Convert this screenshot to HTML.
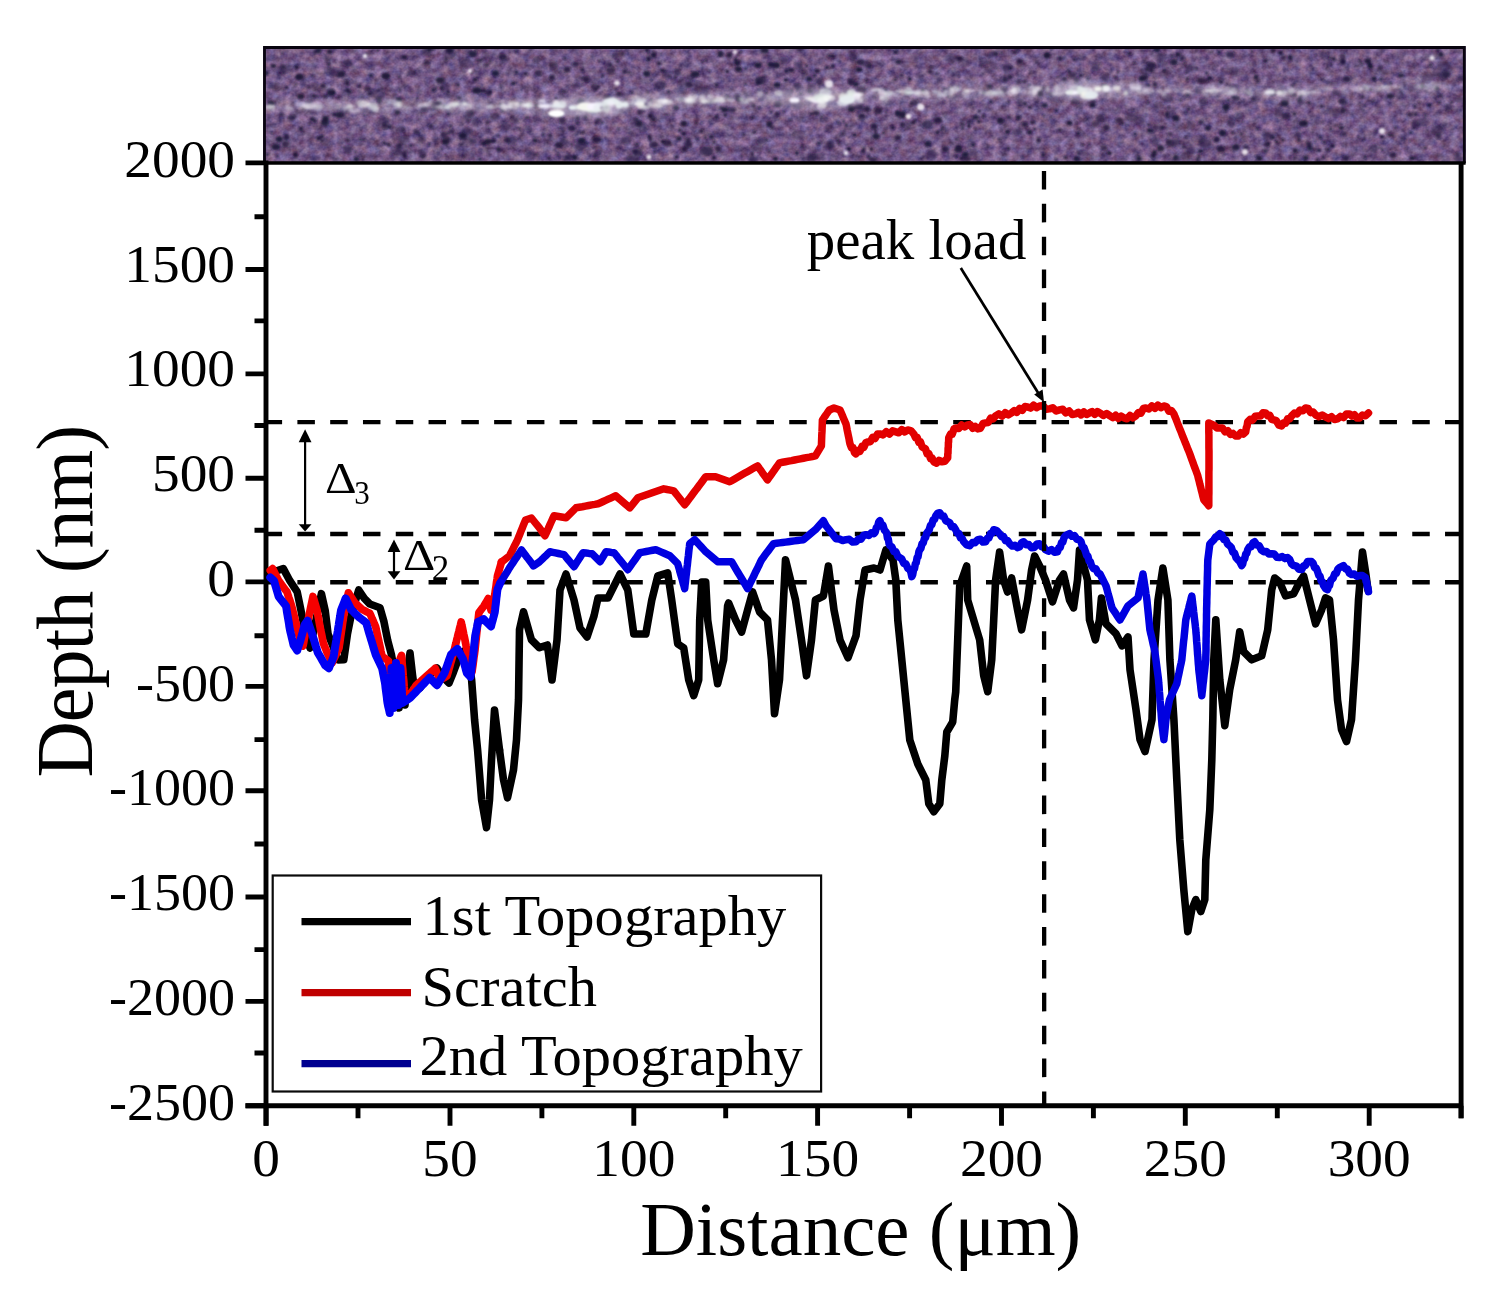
<!DOCTYPE html>
<html lang="en">
<head>
<meta charset="utf-8">
<title>Scratch depth profile</title>
<style>
html,body{margin:0;padding:0;background:#fff;}
body{width:1504px;height:1293px;overflow:hidden;position:relative;}
svg{position:absolute;left:0;top:0;display:block;}
text{font-family:"Liberation Serif", "DejaVu Serif", serif;fill:#000;}
.tick{font-size:53px;}
.leg{font-size:57px;}
.axl{font-size:75px;}
.ann{font-size:55px;}
.ax{stroke:#000;stroke-width:4.9;fill:none;stroke-linecap:butt;}
.dash{stroke:#000;stroke-width:4.4;fill:none;stroke-dasharray:17.5 15.29;}
.crv{fill:none;stroke-linejoin:round;stroke-linecap:round;}
</style>
</head>
<body>
<svg width="1504" height="1293" viewBox="0 0 1504 1293">
<rect x="0" y="0" width="1504" height="1293" fill="#fff"/>

<defs>
<clipPath id="stripclip"><rect x="263.3" y="46.2" width="1202.3" height="117.0"/></clipPath>
<filter id="speckle" x="0" y="0" width="100%" height="100%" filterUnits="objectBoundingBox" color-interpolation-filters="sRGB">
<feTurbulence type="fractalNoise" baseFrequency="0.12 0.13" numOctaves="3" seed="11" result="n1"/>
<feColorMatrix in="n1" type="matrix" values="0.42 0.18 0 0 0.155  0.42 0.04 0.02 0 0.112  0.38 0 0.17 0 0.25  0 0 0 0 1"/>
</filter>
<filter id="soft" x="-5%" y="-50%" width="110%" height="200%"><feGaussianBlur stdDeviation="0.8"/></filter>
<filter id="soft2" x="-5%" y="-50%" width="110%" height="200%"><feGaussianBlur stdDeviation="2.6"/></filter>
</defs>
<g id="micrograph" clip-path="url(#stripclip)">
<rect x="263.3" y="46.2" width="1202.3" height="117.0" fill="#6c5384"/>
<rect x="263.3" y="46.2" width="1202.3" height="117.0" filter="url(#speckle)"/>
<g filter="url(#soft)"><ellipse cx="764.7" cy="50.3" rx="4.2" ry="3.2" fill="#1b1436" fill-opacity="0.88"/><ellipse cx="1381.0" cy="79.2" rx="1.8" ry="1.9" fill="#1b1436" fill-opacity="0.66"/><ellipse cx="784.2" cy="111.6" rx="1.4" ry="1.4" fill="#1b1436" fill-opacity="0.81"/><ellipse cx="1149.3" cy="130.5" rx="2.4" ry="2.2" fill="#1b1436" fill-opacity="0.94"/><ellipse cx="869.2" cy="65.6" rx="3.4" ry="2.6" fill="#1b1436" fill-opacity="0.63"/><ellipse cx="651.6" cy="100.1" rx="1.7" ry="1.2" fill="#1b1436" fill-opacity="0.94"/><ellipse cx="1157.0" cy="49.6" rx="3.3" ry="2.6" fill="#1b1436" fill-opacity="0.90"/><ellipse cx="480.3" cy="60.2" rx="2.4" ry="1.9" fill="#1b1436" fill-opacity="0.64"/><ellipse cx="483.6" cy="90.8" rx="3.0" ry="2.2" fill="#1b1436" fill-opacity="0.81"/><ellipse cx="661.0" cy="53.7" rx="1.2" ry="1.2" fill="#1b1436" fill-opacity="0.91"/><ellipse cx="1225.6" cy="110.8" rx="1.6" ry="1.4" fill="#1b1436" fill-opacity="0.69"/><ellipse cx="1362.1" cy="63.6" rx="1.9" ry="1.4" fill="#1b1436" fill-opacity="0.71"/><ellipse cx="277.5" cy="156.3" rx="1.6" ry="1.6" fill="#1b1436" fill-opacity="0.79"/><ellipse cx="653.6" cy="54.7" rx="2.8" ry="2.6" fill="#1b1436" fill-opacity="0.76"/><ellipse cx="1222.2" cy="69.1" rx="1.3" ry="1.2" fill="#1b1436" fill-opacity="0.87"/><ellipse cx="1078.2" cy="133.7" rx="1.7" ry="1.9" fill="#1b1436" fill-opacity="0.82"/><ellipse cx="854.6" cy="134.9" rx="2.2" ry="1.9" fill="#1b1436" fill-opacity="0.92"/><ellipse cx="702.1" cy="122.8" rx="1.1" ry="1.2" fill="#1b1436" fill-opacity="0.79"/><ellipse cx="463.6" cy="156.6" rx="1.4" ry="1.4" fill="#1b1436" fill-opacity="0.67"/><ellipse cx="445.9" cy="59.3" rx="2.3" ry="2.6" fill="#1b1436" fill-opacity="0.60"/><ellipse cx="859.7" cy="69.7" rx="2.9" ry="2.2" fill="#1b1436" fill-opacity="0.93"/><ellipse cx="582.5" cy="132.5" rx="1.7" ry="1.2" fill="#1b1436" fill-opacity="0.88"/><ellipse cx="764.8" cy="76.2" rx="1.5" ry="1.4" fill="#1b1436" fill-opacity="0.61"/><ellipse cx="738.6" cy="69.0" rx="3.5" ry="2.6" fill="#1b1436" fill-opacity="0.89"/><ellipse cx="1415.0" cy="106.2" rx="1.8" ry="1.9" fill="#1b1436" fill-opacity="0.71"/><ellipse cx="817.2" cy="70.9" rx="2.8" ry="2.2" fill="#1b1436" fill-opacity="0.80"/><ellipse cx="901.5" cy="75.1" rx="2.6" ry="2.2" fill="#1b1436" fill-opacity="0.70"/><ellipse cx="1095.8" cy="123.7" rx="4.1" ry="3.2" fill="#1b1436" fill-opacity="0.62"/><ellipse cx="319.0" cy="137.9" rx="2.7" ry="2.2" fill="#1b1436" fill-opacity="0.80"/><ellipse cx="347.6" cy="90.4" rx="2.7" ry="2.6" fill="#1b1436" fill-opacity="0.82"/><ellipse cx="797.6" cy="90.1" rx="1.7" ry="1.6" fill="#1b1436" fill-opacity="0.76"/><ellipse cx="1148.2" cy="102.5" rx="1.6" ry="1.6" fill="#1b1436" fill-opacity="0.76"/><ellipse cx="429.1" cy="49.4" rx="2.4" ry="2.6" fill="#1b1436" fill-opacity="0.88"/><ellipse cx="399.2" cy="146.0" rx="3.2" ry="3.2" fill="#1b1436" fill-opacity="0.74"/><ellipse cx="684.0" cy="149.3" rx="2.8" ry="2.6" fill="#1b1436" fill-opacity="0.71"/><ellipse cx="1004.2" cy="90.1" rx="3.2" ry="3.2" fill="#1b1436" fill-opacity="0.61"/><ellipse cx="364.2" cy="139.9" rx="1.4" ry="1.4" fill="#1b1436" fill-opacity="0.72"/><ellipse cx="445.6" cy="154.8" rx="1.3" ry="1.2" fill="#1b1436" fill-opacity="0.88"/><ellipse cx="648.3" cy="53.7" rx="1.4" ry="1.2" fill="#1b1436" fill-opacity="0.77"/><ellipse cx="576.3" cy="108.3" rx="1.5" ry="1.4" fill="#1b1436" fill-opacity="0.94"/><ellipse cx="1290.7" cy="59.4" rx="2.5" ry="2.2" fill="#1b1436" fill-opacity="0.67"/><ellipse cx="1416.3" cy="158.1" rx="1.2" ry="1.2" fill="#1b1436" fill-opacity="0.87"/><ellipse cx="902.3" cy="114.5" rx="3.6" ry="3.2" fill="#1b1436" fill-opacity="0.91"/><ellipse cx="792.2" cy="90.5" rx="1.3" ry="1.2" fill="#1b1436" fill-opacity="0.90"/><ellipse cx="1242.8" cy="122.2" rx="1.3" ry="1.2" fill="#1b1436" fill-opacity="0.71"/><ellipse cx="647.9" cy="92.4" rx="1.9" ry="1.6" fill="#1b1436" fill-opacity="0.64"/><ellipse cx="334.2" cy="61.4" rx="1.2" ry="1.2" fill="#1b1436" fill-opacity="0.63"/><ellipse cx="1390.9" cy="83.5" rx="1.6" ry="1.4" fill="#1b1436" fill-opacity="0.78"/><ellipse cx="827.5" cy="96.2" rx="1.8" ry="1.4" fill="#1b1436" fill-opacity="0.72"/><ellipse cx="724.7" cy="109.5" rx="3.5" ry="2.6" fill="#1b1436" fill-opacity="0.95"/><ellipse cx="1343.1" cy="110.7" rx="2.2" ry="2.2" fill="#1b1436" fill-opacity="0.82"/><ellipse cx="1142.4" cy="143.5" rx="1.1" ry="1.2" fill="#1b1436" fill-opacity="0.83"/><ellipse cx="1342.6" cy="56.9" rx="3.3" ry="3.2" fill="#1b1436" fill-opacity="0.64"/><ellipse cx="548.3" cy="158.0" rx="1.8" ry="1.4" fill="#1b1436" fill-opacity="0.77"/><ellipse cx="800.7" cy="94.0" rx="1.9" ry="1.4" fill="#1b1436" fill-opacity="0.83"/><ellipse cx="1359.7" cy="61.2" rx="1.4" ry="1.2" fill="#1b1436" fill-opacity="0.78"/><ellipse cx="1080.8" cy="75.7" rx="2.1" ry="1.9" fill="#1b1436" fill-opacity="0.84"/><ellipse cx="399.1" cy="76.9" rx="1.5" ry="1.6" fill="#1b1436" fill-opacity="0.75"/><ellipse cx="527.1" cy="117.7" rx="2.5" ry="1.9" fill="#1b1436" fill-opacity="0.69"/><ellipse cx="1196.2" cy="68.7" rx="1.5" ry="1.2" fill="#1b1436" fill-opacity="0.78"/><ellipse cx="294.7" cy="153.5" rx="1.6" ry="1.6" fill="#1b1436" fill-opacity="0.84"/><ellipse cx="1014.7" cy="52.3" rx="2.6" ry="1.9" fill="#1b1436" fill-opacity="0.73"/><ellipse cx="1445.9" cy="74.8" rx="4.3" ry="3.2" fill="#1b1436" fill-opacity="0.67"/><ellipse cx="273.3" cy="66.0" rx="2.8" ry="2.2" fill="#1b1436" fill-opacity="0.88"/><ellipse cx="659.2" cy="63.5" rx="2.5" ry="2.2" fill="#1b1436" fill-opacity="0.82"/><ellipse cx="301.0" cy="96.8" rx="3.4" ry="2.6" fill="#1b1436" fill-opacity="0.80"/><ellipse cx="1032.4" cy="122.5" rx="2.7" ry="1.9" fill="#1b1436" fill-opacity="0.80"/><ellipse cx="866.9" cy="108.8" rx="3.4" ry="2.6" fill="#1b1436" fill-opacity="0.77"/><ellipse cx="843.6" cy="121.2" rx="1.8" ry="1.9" fill="#1b1436" fill-opacity="0.62"/><ellipse cx="1342.9" cy="62.4" rx="2.9" ry="2.6" fill="#1b1436" fill-opacity="0.71"/><ellipse cx="735.7" cy="59.5" rx="1.8" ry="1.9" fill="#1b1436" fill-opacity="0.84"/><ellipse cx="781.8" cy="159.1" rx="1.2" ry="1.2" fill="#1b1436" fill-opacity="0.86"/><ellipse cx="283.4" cy="67.0" rx="2.5" ry="2.6" fill="#1b1436" fill-opacity="0.69"/><ellipse cx="458.2" cy="85.0" rx="2.0" ry="2.2" fill="#1b1436" fill-opacity="0.71"/><ellipse cx="559.7" cy="115.9" rx="2.3" ry="1.9" fill="#1b1436" fill-opacity="0.61"/><ellipse cx="861.8" cy="116.6" rx="4.0" ry="3.2" fill="#1b1436" fill-opacity="0.73"/><ellipse cx="945.5" cy="149.1" rx="3.7" ry="3.2" fill="#1b1436" fill-opacity="0.79"/><ellipse cx="1094.1" cy="101.0" rx="2.2" ry="1.6" fill="#1b1436" fill-opacity="0.68"/><ellipse cx="536.0" cy="105.6" rx="2.6" ry="1.9" fill="#1b1436" fill-opacity="0.70"/><ellipse cx="539.8" cy="95.3" rx="1.4" ry="1.2" fill="#1b1436" fill-opacity="0.65"/><ellipse cx="1176.2" cy="158.6" rx="3.5" ry="3.2" fill="#1b1436" fill-opacity="0.64"/><ellipse cx="709.5" cy="71.4" rx="1.5" ry="1.4" fill="#1b1436" fill-opacity="0.60"/><ellipse cx="969.3" cy="121.6" rx="2.7" ry="2.2" fill="#1b1436" fill-opacity="0.70"/><ellipse cx="951.8" cy="87.7" rx="1.8" ry="1.9" fill="#1b1436" fill-opacity="0.61"/><ellipse cx="790.5" cy="120.4" rx="1.4" ry="1.4" fill="#1b1436" fill-opacity="0.69"/><ellipse cx="613.2" cy="56.0" rx="1.4" ry="1.4" fill="#1b1436" fill-opacity="0.65"/><ellipse cx="587.0" cy="143.9" rx="2.2" ry="1.6" fill="#1b1436" fill-opacity="0.62"/><ellipse cx="1358.1" cy="137.2" rx="1.3" ry="1.4" fill="#1b1436" fill-opacity="0.85"/><ellipse cx="1251.8" cy="51.4" rx="1.7" ry="1.4" fill="#1b1436" fill-opacity="0.73"/><ellipse cx="295.8" cy="155.2" rx="2.5" ry="2.6" fill="#1b1436" fill-opacity="0.78"/><ellipse cx="1247.2" cy="88.8" rx="1.1" ry="1.2" fill="#1b1436" fill-opacity="0.86"/><ellipse cx="1231.7" cy="88.5" rx="1.6" ry="1.6" fill="#1b1436" fill-opacity="0.72"/><ellipse cx="500.6" cy="86.0" rx="1.2" ry="1.2" fill="#1b1436" fill-opacity="0.72"/><ellipse cx="1379.8" cy="68.0" rx="2.4" ry="2.6" fill="#1b1436" fill-opacity="0.65"/><ellipse cx="441.8" cy="149.0" rx="1.4" ry="1.4" fill="#1b1436" fill-opacity="0.87"/><ellipse cx="1144.8" cy="77.3" rx="3.3" ry="2.6" fill="#1b1436" fill-opacity="0.69"/><ellipse cx="885.4" cy="90.1" rx="2.1" ry="1.9" fill="#1b1436" fill-opacity="0.79"/><ellipse cx="1343.2" cy="61.3" rx="2.9" ry="2.2" fill="#1b1436" fill-opacity="0.66"/><ellipse cx="487.3" cy="122.7" rx="2.1" ry="2.2" fill="#1b1436" fill-opacity="0.64"/><ellipse cx="448.2" cy="133.4" rx="1.2" ry="1.2" fill="#1b1436" fill-opacity="0.76"/><ellipse cx="575.1" cy="63.9" rx="3.0" ry="2.2" fill="#1b1436" fill-opacity="0.68"/><ellipse cx="477.2" cy="60.1" rx="1.8" ry="1.4" fill="#1b1436" fill-opacity="0.70"/><ellipse cx="1069.3" cy="122.9" rx="2.8" ry="2.2" fill="#1b1436" fill-opacity="0.94"/><ellipse cx="1206.6" cy="72.9" rx="2.0" ry="1.9" fill="#1b1436" fill-opacity="0.71"/><ellipse cx="1341.1" cy="128.2" rx="2.4" ry="2.2" fill="#1b1436" fill-opacity="0.75"/><ellipse cx="1451.7" cy="101.9" rx="1.5" ry="1.4" fill="#1b1436" fill-opacity="0.81"/><ellipse cx="873.1" cy="160.1" rx="4.4" ry="3.2" fill="#1b1436" fill-opacity="0.63"/><ellipse cx="1216.7" cy="139.4" rx="3.2" ry="3.2" fill="#1b1436" fill-opacity="0.79"/><ellipse cx="476.1" cy="49.7" rx="1.6" ry="1.2" fill="#1b1436" fill-opacity="0.65"/><ellipse cx="1172.1" cy="55.7" rx="1.3" ry="1.2" fill="#1b1436" fill-opacity="0.89"/><ellipse cx="1273.0" cy="50.6" rx="2.4" ry="2.2" fill="#1b1436" fill-opacity="0.80"/><ellipse cx="377.7" cy="50.6" rx="2.1" ry="1.9" fill="#1b1436" fill-opacity="0.63"/><ellipse cx="350.0" cy="91.8" rx="1.9" ry="1.4" fill="#1b1436" fill-opacity="0.76"/><ellipse cx="1151.3" cy="65.2" rx="4.2" ry="3.2" fill="#1b1436" fill-opacity="0.78"/><ellipse cx="757.8" cy="65.2" rx="3.3" ry="2.6" fill="#1b1436" fill-opacity="0.89"/><ellipse cx="535.8" cy="154.4" rx="2.6" ry="1.9" fill="#1b1436" fill-opacity="0.72"/><ellipse cx="838.1" cy="140.5" rx="1.7" ry="1.6" fill="#1b1436" fill-opacity="0.64"/><ellipse cx="895.6" cy="52.1" rx="2.6" ry="1.9" fill="#1b1436" fill-opacity="0.83"/><ellipse cx="857.8" cy="69.4" rx="2.4" ry="2.6" fill="#1b1436" fill-opacity="0.69"/><ellipse cx="411.8" cy="91.5" rx="1.3" ry="1.2" fill="#1b1436" fill-opacity="0.67"/><ellipse cx="281.6" cy="114.6" rx="2.2" ry="1.9" fill="#1b1436" fill-opacity="0.78"/><ellipse cx="769.0" cy="151.3" rx="1.5" ry="1.2" fill="#1b1436" fill-opacity="0.66"/><ellipse cx="1382.6" cy="149.9" rx="1.7" ry="1.6" fill="#1b1436" fill-opacity="0.76"/><ellipse cx="324.7" cy="122.7" rx="4.2" ry="3.2" fill="#1b1436" fill-opacity="0.83"/><ellipse cx="885.9" cy="97.4" rx="1.3" ry="1.4" fill="#1b1436" fill-opacity="0.92"/><ellipse cx="1237.0" cy="97.9" rx="3.1" ry="2.2" fill="#1b1436" fill-opacity="0.75"/><ellipse cx="1292.9" cy="85.5" rx="1.9" ry="1.6" fill="#1b1436" fill-opacity="0.74"/><ellipse cx="582.2" cy="85.1" rx="1.2" ry="1.2" fill="#1b1436" fill-opacity="0.66"/><ellipse cx="842.8" cy="133.8" rx="2.3" ry="2.2" fill="#1b1436" fill-opacity="0.63"/><ellipse cx="649.3" cy="136.1" rx="1.9" ry="1.6" fill="#1b1436" fill-opacity="0.94"/><ellipse cx="637.0" cy="144.2" rx="1.7" ry="1.6" fill="#1b1436" fill-opacity="0.84"/><ellipse cx="388.6" cy="144.5" rx="2.1" ry="1.9" fill="#1b1436" fill-opacity="0.88"/><ellipse cx="1118.1" cy="71.8" rx="1.4" ry="1.4" fill="#1b1436" fill-opacity="0.84"/><ellipse cx="688.8" cy="84.7" rx="3.7" ry="3.2" fill="#1b1436" fill-opacity="0.74"/><ellipse cx="1207.9" cy="128.1" rx="2.9" ry="2.6" fill="#1b1436" fill-opacity="0.84"/><ellipse cx="1175.6" cy="156.7" rx="2.4" ry="2.6" fill="#1b1436" fill-opacity="0.68"/><ellipse cx="712.8" cy="143.8" rx="1.1" ry="1.2" fill="#1b1436" fill-opacity="0.67"/><ellipse cx="1077.6" cy="159.5" rx="3.2" ry="2.6" fill="#1b1436" fill-opacity="0.66"/><ellipse cx="662.8" cy="141.7" rx="2.5" ry="1.9" fill="#1b1436" fill-opacity="0.88"/><ellipse cx="1380.2" cy="147.4" rx="1.6" ry="1.2" fill="#1b1436" fill-opacity="0.68"/><ellipse cx="1272.7" cy="137.3" rx="2.4" ry="1.9" fill="#1b1436" fill-opacity="0.86"/><ellipse cx="1395.5" cy="127.8" rx="2.2" ry="1.9" fill="#1b1436" fill-opacity="0.65"/><ellipse cx="1062.6" cy="88.3" rx="1.3" ry="1.4" fill="#1b1436" fill-opacity="0.71"/><ellipse cx="426.8" cy="62.8" rx="3.1" ry="2.6" fill="#1b1436" fill-opacity="0.64"/><ellipse cx="958.5" cy="147.8" rx="3.4" ry="3.2" fill="#1b1436" fill-opacity="0.83"/><ellipse cx="727.6" cy="96.5" rx="1.9" ry="1.9" fill="#1b1436" fill-opacity="0.67"/><ellipse cx="476.8" cy="90.5" rx="4.5" ry="3.2" fill="#1b1436" fill-opacity="0.94"/><ellipse cx="595.2" cy="87.0" rx="4.2" ry="3.2" fill="#1b1436" fill-opacity="0.68"/><ellipse cx="1419.5" cy="102.3" rx="1.4" ry="1.2" fill="#1b1436" fill-opacity="0.69"/><ellipse cx="1235.8" cy="147.2" rx="3.7" ry="3.2" fill="#1b1436" fill-opacity="0.86"/><ellipse cx="937.5" cy="132.3" rx="2.2" ry="2.2" fill="#1b1436" fill-opacity="0.85"/><ellipse cx="341.6" cy="115.1" rx="3.5" ry="3.2" fill="#1b1436" fill-opacity="0.68"/><ellipse cx="616.1" cy="100.6" rx="1.6" ry="1.2" fill="#1b1436" fill-opacity="0.84"/><ellipse cx="886.0" cy="111.7" rx="1.2" ry="1.2" fill="#1b1436" fill-opacity="0.87"/><ellipse cx="775.6" cy="158.7" rx="2.6" ry="2.2" fill="#1b1436" fill-opacity="0.89"/><ellipse cx="930.2" cy="71.5" rx="2.5" ry="2.6" fill="#1b1436" fill-opacity="0.71"/><ellipse cx="966.8" cy="159.0" rx="3.5" ry="2.6" fill="#1b1436" fill-opacity="0.67"/><ellipse cx="827.1" cy="67.5" rx="2.2" ry="1.6" fill="#1b1436" fill-opacity="0.93"/><ellipse cx="695.1" cy="74.2" rx="4.4" ry="3.2" fill="#1b1436" fill-opacity="0.85"/><ellipse cx="1138.9" cy="158.5" rx="2.7" ry="2.6" fill="#1b1436" fill-opacity="0.86"/><ellipse cx="565.0" cy="58.5" rx="1.9" ry="1.4" fill="#1b1436" fill-opacity="0.74"/><ellipse cx="914.9" cy="120.3" rx="1.5" ry="1.2" fill="#1b1436" fill-opacity="0.81"/><ellipse cx="846.3" cy="124.9" rx="1.8" ry="1.9" fill="#1b1436" fill-opacity="0.69"/><ellipse cx="572.1" cy="144.7" rx="1.3" ry="1.4" fill="#1b1436" fill-opacity="0.79"/><ellipse cx="1228.4" cy="121.3" rx="1.6" ry="1.6" fill="#1b1436" fill-opacity="0.65"/><ellipse cx="634.7" cy="151.1" rx="3.4" ry="2.6" fill="#1b1436" fill-opacity="0.63"/><ellipse cx="367.5" cy="89.0" rx="3.1" ry="2.6" fill="#1b1436" fill-opacity="0.64"/><ellipse cx="769.4" cy="124.1" rx="3.1" ry="3.2" fill="#1b1436" fill-opacity="0.85"/><ellipse cx="309.2" cy="124.0" rx="1.6" ry="1.6" fill="#1b1436" fill-opacity="0.62"/><ellipse cx="873.9" cy="126.3" rx="3.2" ry="3.2" fill="#1b1436" fill-opacity="0.81"/><ellipse cx="1020.1" cy="61.4" rx="3.2" ry="2.6" fill="#1b1436" fill-opacity="0.74"/><ellipse cx="1266.7" cy="144.3" rx="3.4" ry="2.6" fill="#1b1436" fill-opacity="0.70"/><ellipse cx="296.0" cy="84.5" rx="1.2" ry="1.2" fill="#1b1436" fill-opacity="0.71"/><ellipse cx="714.5" cy="141.7" rx="1.9" ry="1.6" fill="#1b1436" fill-opacity="0.73"/><ellipse cx="796.9" cy="153.0" rx="2.0" ry="2.2" fill="#1b1436" fill-opacity="0.86"/><ellipse cx="404.1" cy="57.1" rx="3.0" ry="2.2" fill="#1b1436" fill-opacity="0.87"/><ellipse cx="1169.0" cy="142.2" rx="2.9" ry="2.6" fill="#1b1436" fill-opacity="0.73"/><ellipse cx="958.2" cy="87.5" rx="1.4" ry="1.2" fill="#1b1436" fill-opacity="0.93"/><ellipse cx="1167.4" cy="117.1" rx="2.1" ry="1.6" fill="#1b1436" fill-opacity="0.61"/><ellipse cx="501.6" cy="108.4" rx="1.2" ry="1.2" fill="#1b1436" fill-opacity="0.71"/><ellipse cx="1422.0" cy="86.1" rx="2.4" ry="2.6" fill="#1b1436" fill-opacity="0.91"/><ellipse cx="1230.3" cy="54.6" rx="4.3" ry="3.2" fill="#1b1436" fill-opacity="0.70"/><ellipse cx="483.7" cy="143.1" rx="3.5" ry="2.6" fill="#1b1436" fill-opacity="0.63"/><ellipse cx="370.9" cy="75.7" rx="2.2" ry="1.6" fill="#1b1436" fill-opacity="0.90"/><ellipse cx="279.3" cy="139.3" rx="3.5" ry="3.2" fill="#1b1436" fill-opacity="0.90"/><ellipse cx="1329.7" cy="57.4" rx="1.5" ry="1.2" fill="#1b1436" fill-opacity="0.94"/><ellipse cx="1280.1" cy="75.1" rx="1.7" ry="1.4" fill="#1b1436" fill-opacity="0.60"/><ellipse cx="562.2" cy="120.8" rx="3.4" ry="3.2" fill="#1b1436" fill-opacity="0.72"/><ellipse cx="550.3" cy="135.2" rx="1.8" ry="1.6" fill="#1b1436" fill-opacity="0.92"/><ellipse cx="580.7" cy="101.4" rx="3.6" ry="3.2" fill="#1b1436" fill-opacity="0.86"/><ellipse cx="507.3" cy="140.3" rx="3.4" ry="3.2" fill="#1b1436" fill-opacity="0.76"/><ellipse cx="558.8" cy="144.9" rx="4.1" ry="3.2" fill="#1b1436" fill-opacity="0.78"/><ellipse cx="983.5" cy="92.8" rx="2.1" ry="2.2" fill="#1b1436" fill-opacity="0.94"/><ellipse cx="1268.5" cy="143.6" rx="1.9" ry="1.6" fill="#1b1436" fill-opacity="0.88"/><ellipse cx="1044.6" cy="105.3" rx="3.4" ry="2.6" fill="#1b1436" fill-opacity="0.84"/><ellipse cx="1034.5" cy="78.2" rx="1.2" ry="1.2" fill="#1b1436" fill-opacity="0.74"/><ellipse cx="753.7" cy="105.8" rx="2.3" ry="2.2" fill="#1b1436" fill-opacity="0.71"/><ellipse cx="666.8" cy="114.9" rx="1.9" ry="1.4" fill="#1b1436" fill-opacity="0.68"/><ellipse cx="702.6" cy="62.2" rx="1.7" ry="1.4" fill="#1b1436" fill-opacity="0.69"/><ellipse cx="1381.8" cy="136.7" rx="2.3" ry="1.9" fill="#1b1436" fill-opacity="0.92"/><ellipse cx="1283.3" cy="57.5" rx="3.2" ry="2.6" fill="#1b1436" fill-opacity="0.61"/><ellipse cx="1309.0" cy="103.0" rx="1.7" ry="1.4" fill="#1b1436" fill-opacity="0.90"/><ellipse cx="1059.7" cy="130.2" rx="2.3" ry="2.2" fill="#1b1436" fill-opacity="0.70"/><ellipse cx="417.4" cy="98.1" rx="1.9" ry="1.4" fill="#1b1436" fill-opacity="0.86"/><ellipse cx="355.3" cy="151.9" rx="1.3" ry="1.4" fill="#1b1436" fill-opacity="0.88"/><ellipse cx="1305.7" cy="157.8" rx="2.6" ry="2.6" fill="#1b1436" fill-opacity="0.86"/><ellipse cx="1162.3" cy="127.7" rx="2.2" ry="1.6" fill="#1b1436" fill-opacity="0.89"/><ellipse cx="360.7" cy="139.6" rx="2.0" ry="1.9" fill="#1b1436" fill-opacity="0.65"/><ellipse cx="819.1" cy="143.2" rx="2.6" ry="1.9" fill="#1b1436" fill-opacity="0.66"/><ellipse cx="369.6" cy="93.8" rx="2.1" ry="1.9" fill="#1b1436" fill-opacity="0.91"/><ellipse cx="729.4" cy="55.3" rx="2.7" ry="2.6" fill="#1b1436" fill-opacity="0.69"/><ellipse cx="567.2" cy="69.7" rx="3.5" ry="3.2" fill="#1b1436" fill-opacity="0.75"/><ellipse cx="318.1" cy="139.6" rx="1.6" ry="1.2" fill="#1b1436" fill-opacity="0.88"/><ellipse cx="910.8" cy="103.8" rx="2.2" ry="1.9" fill="#1b1436" fill-opacity="0.67"/><ellipse cx="585.4" cy="116.9" rx="2.3" ry="2.2" fill="#1b1436" fill-opacity="0.82"/><ellipse cx="1301.7" cy="94.6" rx="1.3" ry="1.2" fill="#1b1436" fill-opacity="0.93"/><ellipse cx="1186.3" cy="112.4" rx="1.6" ry="1.2" fill="#1b1436" fill-opacity="0.78"/><ellipse cx="451.7" cy="131.8" rx="3.2" ry="2.6" fill="#1b1436" fill-opacity="0.62"/><ellipse cx="1430.5" cy="64.9" rx="2.3" ry="2.2" fill="#1b1436" fill-opacity="0.64"/><ellipse cx="1390.4" cy="96.1" rx="3.6" ry="2.6" fill="#1b1436" fill-opacity="0.88"/><ellipse cx="1047.0" cy="55.2" rx="3.4" ry="3.2" fill="#1b1436" fill-opacity="0.95"/><ellipse cx="471.8" cy="73.0" rx="1.6" ry="1.6" fill="#1b1436" fill-opacity="0.79"/><ellipse cx="878.5" cy="110.8" rx="4.1" ry="3.2" fill="#1b1436" fill-opacity="0.73"/><ellipse cx="873.8" cy="96.8" rx="1.4" ry="1.2" fill="#1b1436" fill-opacity="0.61"/><ellipse cx="475.1" cy="79.7" rx="2.6" ry="1.9" fill="#1b1436" fill-opacity="0.86"/><ellipse cx="1333.5" cy="58.8" rx="1.9" ry="1.9" fill="#1b1436" fill-opacity="0.93"/><ellipse cx="472.8" cy="54.0" rx="4.1" ry="3.2" fill="#1b1436" fill-opacity="0.85"/><ellipse cx="653.6" cy="119.5" rx="2.4" ry="1.9" fill="#1b1436" fill-opacity="0.79"/><ellipse cx="498.6" cy="149.4" rx="2.6" ry="2.2" fill="#1b1436" fill-opacity="0.88"/><ellipse cx="606.3" cy="105.6" rx="3.0" ry="2.6" fill="#1b1436" fill-opacity="0.66"/><ellipse cx="364.3" cy="115.2" rx="1.3" ry="1.4" fill="#1b1436" fill-opacity="0.88"/><ellipse cx="403.5" cy="129.1" rx="2.0" ry="1.6" fill="#1b1436" fill-opacity="0.64"/><ellipse cx="1253.9" cy="72.6" rx="1.4" ry="1.2" fill="#1b1436" fill-opacity="0.64"/><ellipse cx="1280.6" cy="92.0" rx="3.6" ry="2.6" fill="#1b1436" fill-opacity="0.75"/><ellipse cx="1232.4" cy="133.1" rx="1.4" ry="1.2" fill="#1b1436" fill-opacity="0.92"/><ellipse cx="333.9" cy="114.7" rx="2.1" ry="1.9" fill="#1b1436" fill-opacity="0.83"/><ellipse cx="1319.1" cy="150.1" rx="2.0" ry="1.6" fill="#1b1436" fill-opacity="0.93"/><ellipse cx="488.5" cy="128.4" rx="1.5" ry="1.2" fill="#1b1436" fill-opacity="0.77"/><ellipse cx="752.2" cy="153.8" rx="1.8" ry="1.9" fill="#1b1436" fill-opacity="0.86"/><ellipse cx="1298.8" cy="139.9" rx="2.3" ry="2.2" fill="#1b1436" fill-opacity="0.78"/><ellipse cx="1060.1" cy="58.4" rx="2.5" ry="2.6" fill="#1b1436" fill-opacity="0.74"/><ellipse cx="1024.9" cy="103.9" rx="1.8" ry="1.6" fill="#1b1436" fill-opacity="0.89"/><ellipse cx="1008.9" cy="102.1" rx="1.5" ry="1.6" fill="#1b1436" fill-opacity="0.73"/><ellipse cx="461.0" cy="144.7" rx="2.0" ry="1.6" fill="#1b1436" fill-opacity="0.62"/><ellipse cx="1076.5" cy="80.3" rx="2.5" ry="2.6" fill="#1b1436" fill-opacity="0.74"/><ellipse cx="711.6" cy="136.7" rx="2.7" ry="2.2" fill="#1b1436" fill-opacity="0.82"/><ellipse cx="301.1" cy="127.8" rx="1.8" ry="1.6" fill="#1b1436" fill-opacity="0.82"/><ellipse cx="596.5" cy="139.6" rx="4.3" ry="3.2" fill="#1b1436" fill-opacity="0.82"/><ellipse cx="1410.1" cy="114.6" rx="3.1" ry="2.6" fill="#1b1436" fill-opacity="0.64"/><ellipse cx="1029.6" cy="107.3" rx="2.2" ry="1.6" fill="#1b1436" fill-opacity="0.92"/><ellipse cx="629.4" cy="72.7" rx="1.5" ry="1.4" fill="#1b1436" fill-opacity="0.83"/><ellipse cx="1086.3" cy="118.6" rx="1.3" ry="1.2" fill="#1b1436" fill-opacity="0.79"/><ellipse cx="922.7" cy="90.4" rx="2.0" ry="2.2" fill="#1b1436" fill-opacity="0.88"/><ellipse cx="551.7" cy="115.3" rx="2.6" ry="2.6" fill="#1b1436" fill-opacity="0.65"/><ellipse cx="543.2" cy="134.7" rx="1.7" ry="1.4" fill="#1b1436" fill-opacity="0.88"/><ellipse cx="312.3" cy="119.2" rx="2.6" ry="1.9" fill="#1b1436" fill-opacity="0.91"/><ellipse cx="347.7" cy="140.5" rx="2.4" ry="2.2" fill="#1b1436" fill-opacity="0.70"/><ellipse cx="495.8" cy="73.3" rx="3.6" ry="3.2" fill="#1b1436" fill-opacity="0.84"/><ellipse cx="849.0" cy="104.1" rx="1.3" ry="1.2" fill="#1b1436" fill-opacity="0.95"/><ellipse cx="586.1" cy="79.1" rx="3.7" ry="3.2" fill="#1b1436" fill-opacity="0.73"/><ellipse cx="806.7" cy="65.9" rx="1.9" ry="1.4" fill="#1b1436" fill-opacity="0.89"/><ellipse cx="1402.9" cy="95.8" rx="1.5" ry="1.2" fill="#1b1436" fill-opacity="0.70"/><ellipse cx="429.3" cy="144.6" rx="1.8" ry="1.9" fill="#1b1436" fill-opacity="0.70"/><ellipse cx="1362.5" cy="96.9" rx="2.5" ry="2.2" fill="#1b1436" fill-opacity="0.75"/><ellipse cx="1284.5" cy="103.3" rx="4.0" ry="3.2" fill="#1b1436" fill-opacity="0.90"/><ellipse cx="941.3" cy="130.3" rx="1.2" ry="1.2" fill="#1b1436" fill-opacity="0.91"/><ellipse cx="371.2" cy="133.5" rx="1.2" ry="1.2" fill="#1b1436" fill-opacity="0.73"/><ellipse cx="267.3" cy="154.7" rx="1.8" ry="1.4" fill="#1b1436" fill-opacity="0.88"/><ellipse cx="1246.0" cy="147.9" rx="2.7" ry="2.6" fill="#1b1436" fill-opacity="0.66"/><ellipse cx="432.9" cy="49.6" rx="2.1" ry="1.6" fill="#1b1436" fill-opacity="0.79"/><ellipse cx="1117.5" cy="80.6" rx="1.4" ry="1.4" fill="#1b1436" fill-opacity="0.78"/><ellipse cx="323.0" cy="85.9" rx="2.9" ry="2.6" fill="#1b1436" fill-opacity="0.80"/><ellipse cx="618.5" cy="128.8" rx="1.5" ry="1.4" fill="#1b1436" fill-opacity="0.74"/><ellipse cx="580.8" cy="78.0" rx="1.3" ry="1.4" fill="#1b1436" fill-opacity="0.72"/><ellipse cx="804.1" cy="71.8" rx="1.4" ry="1.2" fill="#1b1436" fill-opacity="0.67"/><ellipse cx="961.5" cy="158.3" rx="2.1" ry="1.9" fill="#1b1436" fill-opacity="0.91"/><ellipse cx="896.0" cy="148.1" rx="2.1" ry="1.6" fill="#1b1436" fill-opacity="0.67"/><ellipse cx="440.2" cy="80.3" rx="4.3" ry="3.2" fill="#1b1436" fill-opacity="0.88"/><ellipse cx="760.0" cy="80.7" rx="4.5" ry="3.2" fill="#1b1436" fill-opacity="0.64"/><ellipse cx="379.4" cy="102.3" rx="2.3" ry="2.2" fill="#1b1436" fill-opacity="0.81"/><ellipse cx="1346.2" cy="158.1" rx="3.4" ry="3.2" fill="#1b1436" fill-opacity="0.70"/><ellipse cx="637.9" cy="152.4" rx="4.4" ry="3.2" fill="#1b1436" fill-opacity="0.71"/><ellipse cx="1154.8" cy="84.7" rx="2.4" ry="2.6" fill="#1b1436" fill-opacity="0.76"/><ellipse cx="595.0" cy="155.9" rx="2.1" ry="2.2" fill="#1b1436" fill-opacity="0.62"/><ellipse cx="772.2" cy="127.8" rx="2.4" ry="1.9" fill="#1b1436" fill-opacity="0.69"/><ellipse cx="973.1" cy="144.8" rx="2.2" ry="1.9" fill="#1b1436" fill-opacity="0.89"/><ellipse cx="597.8" cy="106.4" rx="2.0" ry="1.9" fill="#1b1436" fill-opacity="0.63"/><ellipse cx="418.7" cy="119.4" rx="1.2" ry="1.2" fill="#1b1436" fill-opacity="0.81"/><ellipse cx="1412.3" cy="158.2" rx="2.8" ry="2.2" fill="#1b1436" fill-opacity="0.92"/><ellipse cx="1257.7" cy="81.2" rx="2.2" ry="1.9" fill="#1b1436" fill-opacity="0.62"/><ellipse cx="1043.0" cy="155.0" rx="2.0" ry="2.2" fill="#1b1436" fill-opacity="0.78"/><ellipse cx="443.8" cy="134.9" rx="3.7" ry="3.2" fill="#1b1436" fill-opacity="0.71"/><ellipse cx="1370.5" cy="89.4" rx="2.6" ry="1.9" fill="#1b1436" fill-opacity="0.76"/><ellipse cx="860.2" cy="62.1" rx="4.0" ry="3.2" fill="#1b1436" fill-opacity="0.75"/><ellipse cx="1160.6" cy="148.2" rx="3.6" ry="3.2" fill="#1b1436" fill-opacity="0.88"/><ellipse cx="340.9" cy="74.3" rx="4.1" ry="3.2" fill="#1b1436" fill-opacity="0.80"/><ellipse cx="1222.5" cy="133.3" rx="3.4" ry="3.2" fill="#1b1436" fill-opacity="0.90"/><ellipse cx="799.3" cy="49.4" rx="3.5" ry="2.6" fill="#1b1436" fill-opacity="0.61"/><ellipse cx="643.0" cy="110.4" rx="1.2" ry="1.2" fill="#1b1436" fill-opacity="0.70"/><ellipse cx="650.7" cy="115.2" rx="1.5" ry="1.6" fill="#1b1436" fill-opacity="0.65"/><ellipse cx="1064.5" cy="79.3" rx="2.7" ry="2.6" fill="#1b1436" fill-opacity="0.77"/><ellipse cx="1323.3" cy="156.9" rx="1.8" ry="1.9" fill="#1b1436" fill-opacity="0.68"/><ellipse cx="399.9" cy="89.9" rx="1.4" ry="1.2" fill="#1b1436" fill-opacity="0.85"/><ellipse cx="1295.0" cy="157.4" rx="1.3" ry="1.4" fill="#1b1436" fill-opacity="0.61"/><ellipse cx="962.6" cy="128.2" rx="1.6" ry="1.4" fill="#1b1436" fill-opacity="0.78"/><ellipse cx="1316.0" cy="54.9" rx="1.4" ry="1.2" fill="#1b1436" fill-opacity="0.67"/><ellipse cx="1346.7" cy="78.9" rx="3.8" ry="3.2" fill="#1b1436" fill-opacity="0.77"/><ellipse cx="1197.0" cy="50.6" rx="1.3" ry="1.2" fill="#1b1436" fill-opacity="0.70"/><ellipse cx="662.9" cy="70.5" rx="2.2" ry="1.6" fill="#1b1436" fill-opacity="0.93"/><ellipse cx="876.0" cy="136.3" rx="3.8" ry="3.2" fill="#1b1436" fill-opacity="0.84"/><ellipse cx="520.2" cy="103.7" rx="2.0" ry="1.6" fill="#1b1436" fill-opacity="0.80"/><ellipse cx="1437.6" cy="50.0" rx="1.6" ry="1.4" fill="#1b1436" fill-opacity="0.94"/><ellipse cx="595.8" cy="89.7" rx="1.7" ry="1.6" fill="#1b1436" fill-opacity="0.79"/><ellipse cx="1221.0" cy="149.3" rx="4.1" ry="3.2" fill="#1b1436" fill-opacity="0.77"/><ellipse cx="1330.8" cy="128.7" rx="2.0" ry="2.2" fill="#1b1436" fill-opacity="0.62"/><ellipse cx="1228.3" cy="100.1" rx="2.1" ry="1.6" fill="#1b1436" fill-opacity="0.76"/><ellipse cx="574.6" cy="157.4" rx="2.6" ry="2.6" fill="#1b1436" fill-opacity="0.93"/><ellipse cx="914.3" cy="102.3" rx="3.6" ry="3.2" fill="#1b1436" fill-opacity="0.65"/><ellipse cx="1400.7" cy="75.6" rx="3.1" ry="2.2" fill="#1b1436" fill-opacity="0.83"/><ellipse cx="1440.6" cy="95.6" rx="2.9" ry="2.2" fill="#1b1436" fill-opacity="0.62"/><ellipse cx="1178.0" cy="54.4" rx="2.4" ry="1.9" fill="#1b1436" fill-opacity="0.91"/><ellipse cx="1265.5" cy="150.9" rx="2.6" ry="1.9" fill="#1b1436" fill-opacity="0.62"/><ellipse cx="1040.1" cy="93.4" rx="3.1" ry="3.2" fill="#1b1436" fill-opacity="0.87"/><ellipse cx="1186.6" cy="72.5" rx="2.1" ry="1.6" fill="#1b1436" fill-opacity="0.75"/><ellipse cx="445.7" cy="141.4" rx="3.6" ry="3.2" fill="#1b1436" fill-opacity="0.93"/><ellipse cx="1432.1" cy="50.9" rx="1.4" ry="1.2" fill="#1b1436" fill-opacity="0.77"/><ellipse cx="736.1" cy="62.9" rx="1.5" ry="1.6" fill="#1b1436" fill-opacity="0.64"/><ellipse cx="809.9" cy="91.3" rx="2.7" ry="2.2" fill="#1b1436" fill-opacity="0.91"/><ellipse cx="1415.7" cy="114.6" rx="1.9" ry="1.9" fill="#1b1436" fill-opacity="0.82"/><ellipse cx="416.9" cy="131.8" rx="2.8" ry="2.6" fill="#1b1436" fill-opacity="0.65"/><ellipse cx="1335.5" cy="125.4" rx="1.5" ry="1.6" fill="#1b1436" fill-opacity="0.67"/><ellipse cx="1074.9" cy="101.3" rx="4.2" ry="3.2" fill="#1b1436" fill-opacity="0.60"/><ellipse cx="983.4" cy="115.8" rx="2.0" ry="2.2" fill="#1b1436" fill-opacity="0.63"/><ellipse cx="472.0" cy="112.3" rx="2.0" ry="1.6" fill="#1b1436" fill-opacity="0.86"/><ellipse cx="384.2" cy="123.7" rx="1.1" ry="1.2" fill="#1b1436" fill-opacity="0.85"/><ellipse cx="1265.3" cy="61.0" rx="2.6" ry="1.9" fill="#1b1436" fill-opacity="0.83"/><ellipse cx="1281.5" cy="52.2" rx="1.6" ry="1.2" fill="#1b1436" fill-opacity="0.84"/><ellipse cx="1425.4" cy="147.8" rx="2.2" ry="1.6" fill="#1b1436" fill-opacity="0.69"/><ellipse cx="483.6" cy="143.8" rx="1.9" ry="1.6" fill="#1b1436" fill-opacity="0.92"/><ellipse cx="1201.2" cy="80.4" rx="4.2" ry="3.2" fill="#1b1436" fill-opacity="0.62"/><ellipse cx="502.7" cy="56.7" rx="4.2" ry="3.2" fill="#1b1436" fill-opacity="0.76"/><ellipse cx="1169.0" cy="107.5" rx="2.4" ry="1.9" fill="#1b1436" fill-opacity="0.62"/><ellipse cx="856.0" cy="84.2" rx="2.7" ry="2.2" fill="#1b1436" fill-opacity="0.90"/><ellipse cx="650.3" cy="138.8" rx="2.5" ry="2.6" fill="#1b1436" fill-opacity="0.65"/><ellipse cx="1303.4" cy="133.6" rx="1.2" ry="1.2" fill="#1b1436" fill-opacity="0.83"/><ellipse cx="467.9" cy="121.3" rx="1.5" ry="1.2" fill="#1b1436" fill-opacity="0.74"/><ellipse cx="1182.2" cy="58.0" rx="2.6" ry="2.6" fill="#1b1436" fill-opacity="0.79"/><ellipse cx="861.1" cy="89.9" rx="3.7" ry="3.2" fill="#1b1436" fill-opacity="0.62"/><ellipse cx="503.0" cy="110.8" rx="1.8" ry="1.9" fill="#1b1436" fill-opacity="0.63"/><ellipse cx="956.6" cy="139.4" rx="2.5" ry="1.9" fill="#1b1436" fill-opacity="0.64"/><ellipse cx="1043.1" cy="88.2" rx="2.5" ry="2.2" fill="#1b1436" fill-opacity="0.76"/><ellipse cx="486.5" cy="64.8" rx="2.9" ry="2.2" fill="#1b1436" fill-opacity="0.63"/><ellipse cx="1201.1" cy="82.1" rx="1.6" ry="1.2" fill="#1b1436" fill-opacity="0.67"/><ellipse cx="519.4" cy="129.2" rx="1.6" ry="1.4" fill="#1b1436" fill-opacity="0.80"/><ellipse cx="1200.6" cy="151.1" rx="2.8" ry="2.2" fill="#1b1436" fill-opacity="0.88"/><ellipse cx="1175.9" cy="118.3" rx="3.6" ry="3.2" fill="#1b1436" fill-opacity="0.90"/><ellipse cx="1018.7" cy="81.3" rx="2.5" ry="2.6" fill="#1b1436" fill-opacity="0.61"/><ellipse cx="1029.7" cy="132.3" rx="2.5" ry="2.2" fill="#1b1436" fill-opacity="0.88"/><ellipse cx="422.9" cy="156.0" rx="2.5" ry="1.9" fill="#1b1436" fill-opacity="0.66"/><ellipse cx="617.6" cy="61.7" rx="1.5" ry="1.6" fill="#1b1436" fill-opacity="0.88"/><ellipse cx="1104.5" cy="85.6" rx="2.5" ry="1.9" fill="#1b1436" fill-opacity="0.83"/><ellipse cx="299.1" cy="77.0" rx="4.2" ry="3.2" fill="#1b1436" fill-opacity="0.95"/><ellipse cx="356.3" cy="159.2" rx="2.7" ry="2.6" fill="#1b1436" fill-opacity="0.86"/><ellipse cx="1109.3" cy="153.2" rx="2.4" ry="2.2" fill="#1b1436" fill-opacity="0.94"/><ellipse cx="308.5" cy="87.4" rx="1.6" ry="1.4" fill="#1b1436" fill-opacity="0.86"/><ellipse cx="549.3" cy="158.6" rx="2.2" ry="1.9" fill="#1b1436" fill-opacity="0.61"/><ellipse cx="574.7" cy="141.6" rx="1.8" ry="1.4" fill="#1b1436" fill-opacity="0.61"/><ellipse cx="1079.3" cy="128.6" rx="1.4" ry="1.2" fill="#1b1436" fill-opacity="0.81"/><ellipse cx="1294.1" cy="94.9" rx="3.0" ry="2.2" fill="#1b1436" fill-opacity="0.67"/><ellipse cx="1153.3" cy="155.6" rx="2.6" ry="2.6" fill="#1b1436" fill-opacity="0.80"/><ellipse cx="484.0" cy="58.2" rx="1.2" ry="1.2" fill="#1b1436" fill-opacity="0.88"/><ellipse cx="602.3" cy="122.8" rx="1.4" ry="1.2" fill="#1b1436" fill-opacity="0.88"/><ellipse cx="832.9" cy="56.3" rx="2.2" ry="2.2" fill="#1b1436" fill-opacity="0.86"/><ellipse cx="1024.9" cy="124.1" rx="3.0" ry="2.6" fill="#1b1436" fill-opacity="0.77"/><ellipse cx="897.9" cy="137.7" rx="3.5" ry="2.6" fill="#1b1436" fill-opacity="0.72"/><ellipse cx="488.9" cy="93.1" rx="3.1" ry="3.2" fill="#1b1436" fill-opacity="0.66"/><ellipse cx="1007.3" cy="131.8" rx="2.5" ry="2.2" fill="#1b1436" fill-opacity="0.92"/><ellipse cx="1197.7" cy="159.8" rx="2.1" ry="1.9" fill="#1b1436" fill-opacity="0.78"/><ellipse cx="654.3" cy="144.4" rx="4.0" ry="3.2" fill="#1b1436" fill-opacity="0.74"/><ellipse cx="1429.5" cy="105.1" rx="2.3" ry="1.9" fill="#1b1436" fill-opacity="0.90"/><ellipse cx="433.3" cy="90.1" rx="2.4" ry="1.9" fill="#1b1436" fill-opacity="0.82"/><ellipse cx="1233.6" cy="97.3" rx="2.1" ry="2.2" fill="#1b1436" fill-opacity="0.92"/><ellipse cx="1099.6" cy="63.9" rx="1.2" ry="1.2" fill="#1b1436" fill-opacity="0.67"/><ellipse cx="313.8" cy="95.9" rx="2.1" ry="2.2" fill="#1b1436" fill-opacity="0.75"/><ellipse cx="1392.8" cy="155.6" rx="3.7" ry="3.2" fill="#1b1436" fill-opacity="0.67"/><ellipse cx="525.5" cy="73.7" rx="2.1" ry="1.9" fill="#1b1436" fill-opacity="0.88"/><ellipse cx="1403.0" cy="129.9" rx="1.2" ry="1.2" fill="#1b1436" fill-opacity="0.85"/><ellipse cx="410.8" cy="145.5" rx="2.0" ry="1.6" fill="#1b1436" fill-opacity="0.85"/><ellipse cx="1343.0" cy="127.7" rx="1.7" ry="1.4" fill="#1b1436" fill-opacity="0.65"/><ellipse cx="1078.6" cy="153.1" rx="1.8" ry="1.9" fill="#1b1436" fill-opacity="0.65"/><ellipse cx="1074.2" cy="59.4" rx="2.1" ry="1.6" fill="#1b1436" fill-opacity="0.71"/><ellipse cx="771.1" cy="111.7" rx="1.9" ry="1.4" fill="#1b1436" fill-opacity="0.79"/><ellipse cx="1236.4" cy="85.5" rx="1.4" ry="1.2" fill="#1b1436" fill-opacity="0.68"/><ellipse cx="778.1" cy="104.0" rx="3.5" ry="3.2" fill="#1b1436" fill-opacity="0.82"/><ellipse cx="716.3" cy="116.8" rx="2.3" ry="2.2" fill="#1b1436" fill-opacity="0.76"/><ellipse cx="838.4" cy="122.6" rx="1.6" ry="1.4" fill="#1b1436" fill-opacity="0.77"/><ellipse cx="275.8" cy="146.9" rx="4.3" ry="3.2" fill="#1b1436" fill-opacity="0.91"/><ellipse cx="1441.0" cy="54.5" rx="2.4" ry="2.6" fill="#1b1436" fill-opacity="0.91"/><ellipse cx="1069.1" cy="71.1" rx="1.8" ry="1.9" fill="#1b1436" fill-opacity="0.70"/><ellipse cx="968.9" cy="126.1" rx="2.2" ry="2.2" fill="#1b1436" fill-opacity="0.87"/><ellipse cx="602.7" cy="75.8" rx="1.8" ry="1.9" fill="#1b1436" fill-opacity="0.80"/><ellipse cx="811.1" cy="113.8" rx="1.9" ry="1.4" fill="#1b1436" fill-opacity="0.80"/><ellipse cx="1018.4" cy="117.6" rx="2.5" ry="2.2" fill="#1b1436" fill-opacity="0.84"/><ellipse cx="648.9" cy="59.5" rx="2.0" ry="2.2" fill="#1b1436" fill-opacity="0.75"/><ellipse cx="654.6" cy="152.1" rx="1.6" ry="1.4" fill="#1b1436" fill-opacity="0.69"/><ellipse cx="1320.4" cy="137.3" rx="1.7" ry="1.6" fill="#1b1436" fill-opacity="0.90"/><ellipse cx="1119.6" cy="51.6" rx="1.4" ry="1.4" fill="#1b1436" fill-opacity="0.62"/><ellipse cx="1209.7" cy="78.3" rx="2.7" ry="2.2" fill="#1b1436" fill-opacity="0.91"/><ellipse cx="1256.7" cy="156.0" rx="1.6" ry="1.6" fill="#1b1436" fill-opacity="0.61"/><ellipse cx="883.5" cy="132.7" rx="1.6" ry="1.2" fill="#1b1436" fill-opacity="0.94"/><ellipse cx="1457.5" cy="154.3" rx="2.3" ry="2.2" fill="#1b1436" fill-opacity="0.63"/><ellipse cx="1305.8" cy="122.9" rx="1.9" ry="1.4" fill="#1b1436" fill-opacity="0.93"/><ellipse cx="379.1" cy="99.2" rx="3.2" ry="2.6" fill="#1b1436" fill-opacity="0.79"/><ellipse cx="1322.7" cy="79.6" rx="1.5" ry="1.2" fill="#1b1436" fill-opacity="0.73"/><ellipse cx="739.3" cy="99.0" rx="3.6" ry="2.6" fill="#1b1436" fill-opacity="0.94"/><ellipse cx="1410.7" cy="132.8" rx="2.2" ry="1.6" fill="#1b1436" fill-opacity="0.78"/><ellipse cx="557.9" cy="154.7" rx="1.7" ry="1.6" fill="#1b1436" fill-opacity="0.75"/><ellipse cx="758.9" cy="107.6" rx="1.3" ry="1.2" fill="#1b1436" fill-opacity="0.93"/><ellipse cx="839.1" cy="61.5" rx="1.5" ry="1.2" fill="#1b1436" fill-opacity="0.66"/><ellipse cx="1309.9" cy="148.2" rx="2.9" ry="2.6" fill="#1b1436" fill-opacity="0.84"/><ellipse cx="1331.1" cy="64.0" rx="1.7" ry="1.6" fill="#1b1436" fill-opacity="0.70"/><ellipse cx="1219.0" cy="52.2" rx="2.0" ry="1.6" fill="#1b1436" fill-opacity="0.89"/><ellipse cx="816.0" cy="112.9" rx="3.3" ry="2.6" fill="#1b1436" fill-opacity="0.76"/><ellipse cx="560.0" cy="128.4" rx="1.7" ry="1.4" fill="#1b1436" fill-opacity="0.61"/><ellipse cx="1389.3" cy="134.8" rx="2.1" ry="1.6" fill="#1b1436" fill-opacity="0.72"/><ellipse cx="348.8" cy="94.9" rx="1.2" ry="1.2" fill="#1b1436" fill-opacity="0.93"/><ellipse cx="1147.1" cy="69.1" rx="2.0" ry="1.9" fill="#1b1436" fill-opacity="0.84"/><ellipse cx="830.5" cy="145.4" rx="1.4" ry="1.4" fill="#1b1436" fill-opacity="0.69"/><ellipse cx="701.4" cy="131.1" rx="2.3" ry="2.2" fill="#1b1436" fill-opacity="0.79"/><ellipse cx="829.0" cy="55.8" rx="2.2" ry="1.6" fill="#1b1436" fill-opacity="0.75"/><ellipse cx="1188.7" cy="108.8" rx="2.3" ry="1.9" fill="#1b1436" fill-opacity="0.75"/><ellipse cx="1024.6" cy="81.6" rx="2.5" ry="1.9" fill="#1b1436" fill-opacity="0.74"/><ellipse cx="382.8" cy="88.2" rx="1.3" ry="1.2" fill="#1b1436" fill-opacity="0.79"/><ellipse cx="1290.0" cy="157.0" rx="1.2" ry="1.2" fill="#1b1436" fill-opacity="0.72"/><ellipse cx="827.0" cy="89.5" rx="3.1" ry="3.2" fill="#1b1436" fill-opacity="0.71"/><ellipse cx="598.9" cy="60.7" rx="1.5" ry="1.2" fill="#1b1436" fill-opacity="0.84"/><ellipse cx="1172.9" cy="145.6" rx="1.9" ry="1.9" fill="#1b1436" fill-opacity="0.65"/><ellipse cx="1008.4" cy="148.4" rx="1.9" ry="1.6" fill="#1b1436" fill-opacity="0.79"/><ellipse cx="679.8" cy="130.2" rx="2.1" ry="1.9" fill="#1b1436" fill-opacity="0.78"/><ellipse cx="875.5" cy="131.1" rx="1.8" ry="1.6" fill="#1b1436" fill-opacity="0.88"/><ellipse cx="384.3" cy="142.9" rx="2.3" ry="1.9" fill="#1b1436" fill-opacity="0.62"/><ellipse cx="1303.1" cy="123.4" rx="4.4" ry="3.2" fill="#1b1436" fill-opacity="0.93"/><ellipse cx="1145.2" cy="115.2" rx="1.2" ry="1.2" fill="#1b1436" fill-opacity="0.63"/><ellipse cx="552.2" cy="77.4" rx="3.1" ry="2.6" fill="#1b1436" fill-opacity="0.72"/><ellipse cx="385.7" cy="76.0" rx="4.3" ry="3.2" fill="#1b1436" fill-opacity="0.92"/><ellipse cx="300.1" cy="96.2" rx="3.1" ry="2.6" fill="#1b1436" fill-opacity="0.63"/><ellipse cx="863.7" cy="148.7" rx="1.6" ry="1.6" fill="#1b1436" fill-opacity="0.91"/><ellipse cx="317.5" cy="96.3" rx="1.3" ry="1.4" fill="#1b1436" fill-opacity="0.85"/><ellipse cx="291.4" cy="117.6" rx="3.8" ry="3.2" fill="#1b1436" fill-opacity="0.73"/><ellipse cx="866.4" cy="80.6" rx="1.5" ry="1.6" fill="#1b1436" fill-opacity="0.81"/><ellipse cx="1173.8" cy="62.1" rx="3.7" ry="3.2" fill="#1b1436" fill-opacity="0.84"/><ellipse cx="1009.3" cy="117.6" rx="2.7" ry="2.2" fill="#1b1436" fill-opacity="0.67"/><ellipse cx="1051.8" cy="93.6" rx="2.3" ry="2.2" fill="#1b1436" fill-opacity="0.86"/><ellipse cx="958.9" cy="76.2" rx="1.1" ry="1.2" fill="#1b1436" fill-opacity="0.77"/><ellipse cx="1022.7" cy="157.2" rx="1.5" ry="1.4" fill="#1b1436" fill-opacity="0.71"/><ellipse cx="391.1" cy="154.2" rx="1.6" ry="1.2" fill="#1b1436" fill-opacity="0.67"/><ellipse cx="1332.5" cy="145.9" rx="2.6" ry="2.2" fill="#1b1436" fill-opacity="0.91"/><ellipse cx="1051.4" cy="117.4" rx="1.6" ry="1.4" fill="#1b1436" fill-opacity="0.62"/><ellipse cx="936.7" cy="73.3" rx="1.4" ry="1.4" fill="#1b1436" fill-opacity="0.76"/><ellipse cx="1401.7" cy="92.8" rx="1.7" ry="1.6" fill="#1b1436" fill-opacity="0.71"/><ellipse cx="1374.0" cy="78.8" rx="2.5" ry="2.2" fill="#1b1436" fill-opacity="0.94"/><ellipse cx="462.9" cy="135.8" rx="4.0" ry="3.2" fill="#1b1436" fill-opacity="0.95"/><ellipse cx="897.5" cy="113.3" rx="2.9" ry="3.2" fill="#1b1436" fill-opacity="0.90"/><ellipse cx="647.0" cy="50.2" rx="2.1" ry="1.9" fill="#1b1436" fill-opacity="0.94"/><ellipse cx="1238.6" cy="130.8" rx="1.3" ry="1.2" fill="#1b1436" fill-opacity="0.67"/><ellipse cx="571.5" cy="128.3" rx="3.9" ry="3.2" fill="#1b1436" fill-opacity="0.79"/><ellipse cx="1056.4" cy="110.8" rx="1.8" ry="1.6" fill="#1b1436" fill-opacity="0.85"/><ellipse cx="1185.7" cy="136.8" rx="1.4" ry="1.4" fill="#1b1436" fill-opacity="0.90"/><ellipse cx="1148.3" cy="85.5" rx="2.0" ry="1.6" fill="#1b1436" fill-opacity="0.95"/><ellipse cx="318.4" cy="50.5" rx="3.1" ry="3.2" fill="#1b1436" fill-opacity="0.85"/><ellipse cx="1221.2" cy="81.9" rx="2.4" ry="2.2" fill="#1b1436" fill-opacity="0.88"/><ellipse cx="752.5" cy="117.7" rx="1.5" ry="1.6" fill="#1b1436" fill-opacity="0.83"/><ellipse cx="1167.1" cy="113.8" rx="2.3" ry="2.2" fill="#1b1436" fill-opacity="0.87"/><ellipse cx="347.5" cy="84.3" rx="2.1" ry="2.2" fill="#1b1436" fill-opacity="0.76"/><ellipse cx="902.2" cy="124.7" rx="2.5" ry="2.6" fill="#1b1436" fill-opacity="0.73"/><ellipse cx="1115.6" cy="76.9" rx="1.9" ry="1.4" fill="#1b1436" fill-opacity="0.73"/><ellipse cx="577.4" cy="117.7" rx="2.1" ry="2.2" fill="#1b1436" fill-opacity="0.82"/><ellipse cx="791.5" cy="70.0" rx="3.0" ry="2.2" fill="#1b1436" fill-opacity="0.79"/><ellipse cx="618.7" cy="94.3" rx="3.3" ry="2.6" fill="#1b1436" fill-opacity="0.69"/><ellipse cx="443.9" cy="106.1" rx="2.0" ry="2.2" fill="#1b1436" fill-opacity="0.77"/><ellipse cx="362.0" cy="96.9" rx="1.6" ry="1.6" fill="#1b1436" fill-opacity="0.64"/><ellipse cx="384.8" cy="143.7" rx="1.5" ry="1.2" fill="#1b1436" fill-opacity="0.80"/><ellipse cx="956.3" cy="156.3" rx="1.5" ry="1.4" fill="#1b1436" fill-opacity="0.86"/><ellipse cx="868.7" cy="156.3" rx="1.5" ry="1.6" fill="#1b1436" fill-opacity="0.94"/><ellipse cx="909.9" cy="79.0" rx="2.0" ry="1.9" fill="#1b1436" fill-opacity="0.92"/><ellipse cx="944.1" cy="88.7" rx="2.2" ry="1.6" fill="#1b1436" fill-opacity="0.79"/><ellipse cx="1017.5" cy="49.3" rx="1.8" ry="1.9" fill="#1b1436" fill-opacity="0.68"/><ellipse cx="470.2" cy="113.2" rx="4.2" ry="3.2" fill="#1b1436" fill-opacity="0.62"/><ellipse cx="1065.7" cy="157.4" rx="1.8" ry="1.4" fill="#1b1436" fill-opacity="0.82"/><ellipse cx="448.8" cy="138.2" rx="1.3" ry="1.4" fill="#1b1436" fill-opacity="0.82"/><ellipse cx="1365.3" cy="87.5" rx="2.2" ry="2.2" fill="#1b1436" fill-opacity="0.77"/><ellipse cx="944.6" cy="101.8" rx="1.1" ry="1.2" fill="#1b1436" fill-opacity="0.85"/><ellipse cx="322.0" cy="136.3" rx="1.9" ry="1.6" fill="#1b1436" fill-opacity="0.94"/><ellipse cx="688.5" cy="144.4" rx="3.9" ry="3.2" fill="#1b1436" fill-opacity="0.64"/><ellipse cx="1077.3" cy="123.3" rx="1.2" ry="1.2" fill="#1b1436" fill-opacity="0.83"/><ellipse cx="1369.7" cy="65.3" rx="2.6" ry="2.6" fill="#1b1436" fill-opacity="0.90"/><ellipse cx="1148.5" cy="124.6" rx="1.7" ry="1.2" fill="#1b1436" fill-opacity="0.89"/><ellipse cx="1224.1" cy="154.6" rx="1.5" ry="1.4" fill="#1b1436" fill-opacity="0.65"/><ellipse cx="1299.7" cy="99.9" rx="2.5" ry="1.9" fill="#1b1436" fill-opacity="0.92"/><ellipse cx="675.3" cy="77.6" rx="1.4" ry="1.4" fill="#1b1436" fill-opacity="0.91"/><ellipse cx="804.6" cy="149.1" rx="1.1" ry="1.2" fill="#1b1436" fill-opacity="0.69"/><ellipse cx="1285.7" cy="116.3" rx="4.3" ry="3.2" fill="#1b1436" fill-opacity="0.69"/><ellipse cx="865.2" cy="89.9" rx="1.3" ry="1.2" fill="#1b1436" fill-opacity="0.78"/><ellipse cx="490.1" cy="61.3" rx="1.8" ry="1.6" fill="#1b1436" fill-opacity="0.68"/><ellipse cx="329.6" cy="51.5" rx="2.8" ry="2.6" fill="#1b1436" fill-opacity="0.77"/><ellipse cx="610.5" cy="64.4" rx="1.5" ry="1.6" fill="#1b1436" fill-opacity="0.93"/><ellipse cx="441.7" cy="87.9" rx="2.1" ry="2.2" fill="#1b1436" fill-opacity="0.77"/><ellipse cx="958.2" cy="149.7" rx="4.2" ry="3.2" fill="#1b1436" fill-opacity="0.75"/><ellipse cx="683.8" cy="133.9" rx="2.3" ry="2.2" fill="#1b1436" fill-opacity="0.90"/><ellipse cx="498.1" cy="135.6" rx="1.5" ry="1.4" fill="#1b1436" fill-opacity="0.85"/><ellipse cx="607.4" cy="97.6" rx="3.3" ry="3.2" fill="#1b1436" fill-opacity="0.69"/><ellipse cx="1076.2" cy="158.2" rx="3.0" ry="2.2" fill="#1b1436" fill-opacity="0.74"/><ellipse cx="581.6" cy="140.9" rx="4.0" ry="3.2" fill="#1b1436" fill-opacity="0.86"/><ellipse cx="1038.6" cy="140.2" rx="2.5" ry="2.6" fill="#1b1436" fill-opacity="0.78"/><ellipse cx="843.6" cy="155.2" rx="1.7" ry="1.4" fill="#1b1436" fill-opacity="0.71"/><ellipse cx="300.8" cy="129.2" rx="2.6" ry="2.2" fill="#1b1436" fill-opacity="0.68"/><ellipse cx="741.4" cy="51.7" rx="1.3" ry="1.2" fill="#1b1436" fill-opacity="0.75"/><ellipse cx="450.9" cy="126.3" rx="1.5" ry="1.2" fill="#1b1436" fill-opacity="0.94"/><ellipse cx="1259.5" cy="158.4" rx="3.0" ry="2.6" fill="#1b1436" fill-opacity="0.93"/><ellipse cx="667.2" cy="142.8" rx="4.5" ry="3.2" fill="#1b1436" fill-opacity="0.73"/><ellipse cx="862.6" cy="115.1" rx="1.7" ry="1.2" fill="#1b1436" fill-opacity="0.69"/><ellipse cx="343.8" cy="147.4" rx="1.9" ry="1.4" fill="#1b1436" fill-opacity="0.62"/><ellipse cx="871.5" cy="149.1" rx="1.9" ry="1.9" fill="#1b1436" fill-opacity="0.88"/><ellipse cx="325.5" cy="118.9" rx="3.3" ry="3.2" fill="#1b1436" fill-opacity="0.94"/><ellipse cx="1087.7" cy="78.6" rx="1.7" ry="1.6" fill="#1b1436" fill-opacity="0.79"/><ellipse cx="670.0" cy="76.3" rx="1.3" ry="1.4" fill="#1b1436" fill-opacity="0.83"/><ellipse cx="1001.8" cy="53.1" rx="1.5" ry="1.4" fill="#1b1436" fill-opacity="0.76"/><ellipse cx="832.7" cy="66.0" rx="2.2" ry="1.9" fill="#1b1436" fill-opacity="0.88"/><ellipse cx="975.6" cy="117.4" rx="3.1" ry="2.2" fill="#1b1436" fill-opacity="0.90"/><ellipse cx="1180.7" cy="100.5" rx="1.8" ry="1.4" fill="#1b1436" fill-opacity="0.72"/><ellipse cx="1436.6" cy="88.0" rx="2.6" ry="2.6" fill="#1b1436" fill-opacity="0.83"/><ellipse cx="624.8" cy="71.5" rx="2.7" ry="2.6" fill="#1b1436" fill-opacity="0.79"/><ellipse cx="942.8" cy="127.4" rx="2.1" ry="2.2" fill="#1b1436" fill-opacity="0.69"/><ellipse cx="979.5" cy="111.0" rx="2.0" ry="1.6" fill="#1b1436" fill-opacity="0.92"/><ellipse cx="1308.8" cy="144.1" rx="2.9" ry="2.6" fill="#1b1436" fill-opacity="0.78"/><ellipse cx="990.9" cy="101.8" rx="2.2" ry="1.9" fill="#1b1436" fill-opacity="0.77"/><ellipse cx="390.0" cy="127.1" rx="2.5" ry="2.2" fill="#1b1436" fill-opacity="0.62"/><ellipse cx="675.9" cy="107.6" rx="3.1" ry="2.6" fill="#1b1436" fill-opacity="0.92"/><ellipse cx="1300.3" cy="96.8" rx="1.7" ry="1.4" fill="#1b1436" fill-opacity="0.90"/><ellipse cx="588.2" cy="148.3" rx="1.2" ry="1.2" fill="#1b1436" fill-opacity="0.61"/><ellipse cx="1142.6" cy="78.4" rx="1.6" ry="1.2" fill="#1b1436" fill-opacity="0.77"/><ellipse cx="321.6" cy="140.9" rx="1.5" ry="1.4" fill="#1b1436" fill-opacity="0.63"/><ellipse cx="766.6" cy="140.0" rx="1.9" ry="1.4" fill="#1b1436" fill-opacity="0.84"/><ellipse cx="271.1" cy="103.2" rx="3.6" ry="2.6" fill="#1b1436" fill-opacity="0.85"/><ellipse cx="404.9" cy="156.2" rx="2.4" ry="2.2" fill="#1b1436" fill-opacity="0.82"/><ellipse cx="1364.5" cy="105.2" rx="1.7" ry="1.2" fill="#1b1436" fill-opacity="0.79"/><ellipse cx="938.0" cy="120.2" rx="4.2" ry="3.2" fill="#1b1436" fill-opacity="0.76"/><ellipse cx="1106.4" cy="127.5" rx="3.3" ry="3.2" fill="#1b1436" fill-opacity="0.73"/><ellipse cx="1092.6" cy="104.9" rx="2.9" ry="2.6" fill="#1b1436" fill-opacity="0.93"/><ellipse cx="1170.4" cy="134.1" rx="2.6" ry="2.6" fill="#1b1436" fill-opacity="0.61"/><ellipse cx="688.4" cy="140.3" rx="2.6" ry="2.6" fill="#1b1436" fill-opacity="0.71"/><ellipse cx="1276.6" cy="142.0" rx="1.9" ry="1.6" fill="#1b1436" fill-opacity="0.90"/><ellipse cx="1034.5" cy="128.9" rx="1.6" ry="1.4" fill="#1b1436" fill-opacity="0.93"/><ellipse cx="378.7" cy="90.0" rx="1.9" ry="1.6" fill="#1b1436" fill-opacity="0.83"/><ellipse cx="555.9" cy="98.4" rx="1.4" ry="1.4" fill="#1b1436" fill-opacity="0.92"/><ellipse cx="598.3" cy="120.0" rx="2.9" ry="2.6" fill="#1b1436" fill-opacity="0.63"/><ellipse cx="385.1" cy="126.3" rx="3.6" ry="2.6" fill="#1b1436" fill-opacity="0.63"/><ellipse cx="403.1" cy="154.3" rx="1.8" ry="1.4" fill="#1b1436" fill-opacity="0.71"/><ellipse cx="366.4" cy="54.0" rx="1.5" ry="1.2" fill="#1b1436" fill-opacity="0.61"/><ellipse cx="785.8" cy="79.9" rx="2.5" ry="1.9" fill="#1b1436" fill-opacity="0.91"/><ellipse cx="598.9" cy="86.5" rx="1.5" ry="1.6" fill="#1b1436" fill-opacity="0.81"/><ellipse cx="424.0" cy="109.0" rx="3.5" ry="3.2" fill="#1b1436" fill-opacity="0.68"/><ellipse cx="1187.2" cy="78.9" rx="2.2" ry="2.2" fill="#1b1436" fill-opacity="0.73"/><ellipse cx="907.1" cy="92.3" rx="3.2" ry="2.6" fill="#1b1436" fill-opacity="0.80"/><ellipse cx="989.8" cy="86.6" rx="2.4" ry="2.2" fill="#1b1436" fill-opacity="0.93"/><ellipse cx="266.3" cy="73.0" rx="2.3" ry="2.6" fill="#1b1436" fill-opacity="0.83"/><ellipse cx="1004.7" cy="79.8" rx="2.4" ry="2.6" fill="#1b1436" fill-opacity="0.68"/><ellipse cx="1282.9" cy="140.1" rx="2.0" ry="1.9" fill="#1b1436" fill-opacity="0.69"/><ellipse cx="668.7" cy="91.8" rx="1.9" ry="1.9" fill="#1b1436" fill-opacity="0.87"/><ellipse cx="648.4" cy="58.1" rx="2.6" ry="2.2" fill="#1b1436" fill-opacity="0.71"/><ellipse cx="436.0" cy="88.5" rx="1.6" ry="1.4" fill="#1b1436" fill-opacity="0.72"/><ellipse cx="448.4" cy="114.0" rx="1.8" ry="1.9" fill="#1b1436" fill-opacity="0.81"/><ellipse cx="322.4" cy="140.6" rx="1.4" ry="1.4" fill="#1b1436" fill-opacity="0.65"/><ellipse cx="933.6" cy="123.0" rx="1.1" ry="1.2" fill="#1b1436" fill-opacity="0.64"/><ellipse cx="737.1" cy="96.2" rx="3.0" ry="2.6" fill="#1b1436" fill-opacity="0.74"/><ellipse cx="1256.0" cy="77.2" rx="2.4" ry="2.6" fill="#1b1436" fill-opacity="0.86"/><ellipse cx="646.6" cy="73.8" rx="3.6" ry="3.2" fill="#1b1436" fill-opacity="0.89"/><ellipse cx="479.9" cy="159.1" rx="2.2" ry="2.2" fill="#1b1436" fill-opacity="0.65"/><ellipse cx="821.7" cy="116.7" rx="1.8" ry="1.6" fill="#1b1436" fill-opacity="0.60"/><ellipse cx="1043.8" cy="115.7" rx="1.5" ry="1.4" fill="#1b1436" fill-opacity="0.76"/><ellipse cx="740.6" cy="60.3" rx="1.3" ry="1.4" fill="#1b1436" fill-opacity="0.64"/><ellipse cx="286.7" cy="137.0" rx="3.1" ry="3.2" fill="#1b1436" fill-opacity="0.79"/><ellipse cx="359.7" cy="85.6" rx="2.0" ry="1.9" fill="#1b1436" fill-opacity="0.81"/><ellipse cx="1151.8" cy="130.8" rx="2.0" ry="1.6" fill="#1b1436" fill-opacity="0.93"/><ellipse cx="1392.5" cy="135.7" rx="2.3" ry="1.9" fill="#1b1436" fill-opacity="0.66"/><ellipse cx="516.4" cy="72.1" rx="1.8" ry="1.9" fill="#1b1436" fill-opacity="0.89"/><ellipse cx="1206.4" cy="80.3" rx="1.9" ry="1.6" fill="#1b1436" fill-opacity="0.66"/><ellipse cx="1162.3" cy="87.7" rx="1.2" ry="1.2" fill="#1b1436" fill-opacity="0.71"/><ellipse cx="849.7" cy="109.3" rx="1.4" ry="1.2" fill="#1b1436" fill-opacity="0.91"/><ellipse cx="448.3" cy="92.2" rx="1.7" ry="1.9" fill="#1b1436" fill-opacity="0.80"/><ellipse cx="706.2" cy="60.4" rx="1.5" ry="1.2" fill="#1b1436" fill-opacity="0.94"/><ellipse cx="863.0" cy="151.4" rx="2.6" ry="2.2" fill="#1b1436" fill-opacity="0.79"/><ellipse cx="754.3" cy="132.2" rx="2.5" ry="1.9" fill="#1b1436" fill-opacity="0.72"/><ellipse cx="766.5" cy="93.0" rx="1.8" ry="1.4" fill="#1b1436" fill-opacity="0.74"/><ellipse cx="1184.1" cy="147.0" rx="2.7" ry="2.6" fill="#1b1436" fill-opacity="0.67"/><ellipse cx="776.8" cy="113.8" rx="2.6" ry="2.6" fill="#1b1436" fill-opacity="0.74"/><ellipse cx="1134.8" cy="133.9" rx="1.8" ry="1.9" fill="#1b1436" fill-opacity="0.80"/><ellipse cx="1425.3" cy="115.5" rx="1.8" ry="1.9" fill="#1b1436" fill-opacity="0.62"/><ellipse cx="1126.9" cy="124.6" rx="1.5" ry="1.4" fill="#1b1436" fill-opacity="0.63"/><ellipse cx="1367.9" cy="61.2" rx="3.3" ry="2.6" fill="#1b1436" fill-opacity="0.95"/><ellipse cx="639.6" cy="112.4" rx="2.6" ry="2.6" fill="#1b1436" fill-opacity="0.70"/><ellipse cx="577.4" cy="122.8" rx="1.7" ry="1.6" fill="#1b1436" fill-opacity="0.74"/><ellipse cx="1343.9" cy="134.2" rx="2.7" ry="2.2" fill="#1b1436" fill-opacity="0.62"/><ellipse cx="714.1" cy="157.7" rx="2.1" ry="1.9" fill="#1b1436" fill-opacity="0.93"/><ellipse cx="802.0" cy="146.4" rx="1.7" ry="1.4" fill="#1b1436" fill-opacity="0.78"/><ellipse cx="582.4" cy="69.7" rx="2.2" ry="2.2" fill="#1b1436" fill-opacity="0.79"/><ellipse cx="490.5" cy="91.7" rx="2.0" ry="1.9" fill="#1b1436" fill-opacity="0.70"/><ellipse cx="1082.6" cy="145.1" rx="1.5" ry="1.4" fill="#1b1436" fill-opacity="0.74"/><ellipse cx="721.2" cy="107.4" rx="2.5" ry="1.9" fill="#1b1436" fill-opacity="0.69"/><ellipse cx="1184.4" cy="63.0" rx="1.7" ry="1.4" fill="#1b1436" fill-opacity="0.67"/><ellipse cx="962.7" cy="124.2" rx="2.6" ry="1.9" fill="#1b1436" fill-opacity="0.61"/><ellipse cx="593.7" cy="147.6" rx="1.5" ry="1.2" fill="#1b1436" fill-opacity="0.92"/><ellipse cx="1393.0" cy="153.9" rx="1.8" ry="1.6" fill="#1b1436" fill-opacity="0.62"/><ellipse cx="1103.9" cy="147.7" rx="3.5" ry="2.6" fill="#1b1436" fill-opacity="0.63"/><ellipse cx="1294.6" cy="113.9" rx="2.2" ry="1.9" fill="#1b1436" fill-opacity="0.72"/><ellipse cx="538.3" cy="73.0" rx="3.5" ry="3.2" fill="#1b1436" fill-opacity="0.69"/><ellipse cx="1257.6" cy="128.8" rx="1.5" ry="1.4" fill="#1b1436" fill-opacity="0.86"/><ellipse cx="1272.5" cy="92.9" rx="3.5" ry="3.2" fill="#1b1436" fill-opacity="0.82"/><ellipse cx="661.5" cy="69.9" rx="1.8" ry="1.4" fill="#1b1436" fill-opacity="0.63"/><ellipse cx="927.7" cy="143.7" rx="3.2" ry="2.6" fill="#1b1436" fill-opacity="0.84"/><ellipse cx="913.2" cy="122.4" rx="2.4" ry="1.9" fill="#1b1436" fill-opacity="0.87"/><ellipse cx="1324.4" cy="142.1" rx="2.2" ry="1.6" fill="#1b1436" fill-opacity="0.74"/><ellipse cx="777.2" cy="84.9" rx="3.4" ry="2.6" fill="#1b1436" fill-opacity="0.89"/><ellipse cx="1341.8" cy="101.2" rx="3.9" ry="3.2" fill="#1b1436" fill-opacity="0.71"/><ellipse cx="1125.2" cy="52.4" rx="1.2" ry="1.2" fill="#1b1436" fill-opacity="0.61"/><ellipse cx="1280.2" cy="52.9" rx="2.2" ry="1.9" fill="#1b1436" fill-opacity="0.92"/><ellipse cx="1328.2" cy="149.5" rx="2.2" ry="1.9" fill="#1b1436" fill-opacity="0.82"/><ellipse cx="1187.5" cy="95.0" rx="2.6" ry="1.9" fill="#1b1436" fill-opacity="0.71"/><ellipse cx="1028.8" cy="85.4" rx="1.4" ry="1.2" fill="#1b1436" fill-opacity="0.89"/><ellipse cx="1010.5" cy="68.2" rx="2.0" ry="1.9" fill="#1b1436" fill-opacity="0.88"/><ellipse cx="500.6" cy="103.8" rx="1.6" ry="1.6" fill="#1b1436" fill-opacity="0.72"/><ellipse cx="338.6" cy="114.8" rx="3.7" ry="3.2" fill="#1b1436" fill-opacity="0.85"/><ellipse cx="848.9" cy="149.0" rx="2.4" ry="2.2" fill="#1b1436" fill-opacity="0.94"/><ellipse cx="399.2" cy="99.7" rx="3.3" ry="2.6" fill="#1b1436" fill-opacity="0.83"/><ellipse cx="898.6" cy="61.8" rx="3.0" ry="2.2" fill="#1b1436" fill-opacity="0.84"/><ellipse cx="1210.9" cy="52.4" rx="1.2" ry="1.2" fill="#1b1436" fill-opacity="0.90"/><ellipse cx="282.1" cy="53.4" rx="1.3" ry="1.4" fill="#1b1436" fill-opacity="0.76"/><ellipse cx="431.4" cy="115.3" rx="1.2" ry="1.2" fill="#1b1436" fill-opacity="0.73"/><ellipse cx="610.7" cy="70.5" rx="4.5" ry="3.2" fill="#1b1436" fill-opacity="0.69"/><ellipse cx="325.2" cy="96.4" rx="2.1" ry="1.6" fill="#1b1436" fill-opacity="0.84"/><ellipse cx="1253.4" cy="98.7" rx="2.4" ry="2.2" fill="#1b1436" fill-opacity="0.68"/><ellipse cx="296.5" cy="67.1" rx="2.2" ry="2.2" fill="#1b1436" fill-opacity="0.75"/><ellipse cx="314.7" cy="51.9" rx="1.8" ry="1.9" fill="#1b1436" fill-opacity="0.63"/><ellipse cx="499.6" cy="57.4" rx="1.1" ry="1.2" fill="#1b1436" fill-opacity="0.81"/><ellipse cx="459.3" cy="97.9" rx="2.6" ry="2.2" fill="#1b1436" fill-opacity="0.80"/><ellipse cx="745.6" cy="83.8" rx="1.7" ry="1.6" fill="#1b1436" fill-opacity="0.65"/><ellipse cx="493.8" cy="140.7" rx="2.6" ry="2.2" fill="#1b1436" fill-opacity="0.81"/><ellipse cx="405.1" cy="152.4" rx="2.6" ry="2.2" fill="#1b1436" fill-opacity="0.68"/><ellipse cx="314.7" cy="121.0" rx="2.6" ry="2.2" fill="#1b1436" fill-opacity="0.74"/><ellipse cx="858.8" cy="106.8" rx="4.5" ry="3.2" fill="#1b1436" fill-opacity="0.68"/><ellipse cx="892.6" cy="127.7" rx="2.0" ry="1.9" fill="#1b1436" fill-opacity="0.92"/><ellipse cx="741.7" cy="155.9" rx="1.6" ry="1.6" fill="#1b1436" fill-opacity="0.66"/><ellipse cx="851.2" cy="108.8" rx="3.7" ry="3.2" fill="#1b1436" fill-opacity="0.95"/><ellipse cx="567.5" cy="157.4" rx="3.4" ry="3.2" fill="#1b1436" fill-opacity="0.66"/><ellipse cx="650.2" cy="115.9" rx="2.4" ry="2.6" fill="#1b1436" fill-opacity="0.87"/><ellipse cx="965.4" cy="154.4" rx="3.4" ry="2.6" fill="#1b1436" fill-opacity="0.90"/><ellipse cx="895.4" cy="79.7" rx="2.2" ry="1.6" fill="#1b1436" fill-opacity="0.68"/><ellipse cx="1064.7" cy="58.0" rx="1.2" ry="1.2" fill="#1b1436" fill-opacity="0.69"/><ellipse cx="331.3" cy="92.8" rx="4.2" ry="3.2" fill="#1b1436" fill-opacity="0.93"/><ellipse cx="1241.3" cy="134.2" rx="1.5" ry="1.6" fill="#1b1436" fill-opacity="0.78"/><ellipse cx="600.7" cy="139.7" rx="1.3" ry="1.2" fill="#1b1436" fill-opacity="0.94"/><ellipse cx="1142.1" cy="78.6" rx="3.8" ry="3.2" fill="#1b1436" fill-opacity="0.83"/><ellipse cx="679.0" cy="138.7" rx="2.9" ry="2.2" fill="#1b1436" fill-opacity="0.88"/><ellipse cx="1129.6" cy="53.7" rx="2.4" ry="1.9" fill="#1b1436" fill-opacity="0.71"/><ellipse cx="1200.8" cy="122.1" rx="3.0" ry="2.2" fill="#1b1436" fill-opacity="0.71"/><ellipse cx="979.0" cy="121.6" rx="1.8" ry="1.6" fill="#1b1436" fill-opacity="0.94"/><ellipse cx="727.3" cy="71.5" rx="1.9" ry="1.9" fill="#1b1436" fill-opacity="0.94"/><ellipse cx="632.1" cy="93.0" rx="1.7" ry="1.4" fill="#1b1436" fill-opacity="0.82"/><ellipse cx="644.3" cy="104.7" rx="2.4" ry="1.9" fill="#1b1436" fill-opacity="0.74"/><ellipse cx="1106.6" cy="93.6" rx="1.4" ry="1.2" fill="#1b1436" fill-opacity="0.89"/><ellipse cx="1370.7" cy="66.7" rx="2.6" ry="2.2" fill="#1b1436" fill-opacity="0.93"/><ellipse cx="328.7" cy="64.7" rx="1.5" ry="1.4" fill="#1b1436" fill-opacity="0.94"/><ellipse cx="809.4" cy="78.9" rx="3.0" ry="2.6" fill="#1b1436" fill-opacity="0.89"/><ellipse cx="718.3" cy="148.8" rx="3.1" ry="3.2" fill="#1b1436" fill-opacity="0.69"/><ellipse cx="999.6" cy="139.6" rx="1.8" ry="1.4" fill="#1b1436" fill-opacity="0.67"/><ellipse cx="1000.2" cy="120.6" rx="3.4" ry="3.2" fill="#1b1436" fill-opacity="0.92"/><ellipse cx="430.9" cy="126.4" rx="2.7" ry="2.6" fill="#1b1436" fill-opacity="0.63"/><ellipse cx="490.2" cy="141.6" rx="3.0" ry="2.2" fill="#1b1436" fill-opacity="0.63"/><ellipse cx="279.3" cy="72.6" rx="1.1" ry="1.2" fill="#1b1436" fill-opacity="0.72"/><ellipse cx="1402.0" cy="138.3" rx="1.6" ry="1.6" fill="#1b1436" fill-opacity="0.78"/><ellipse cx="948.2" cy="96.7" rx="1.8" ry="1.6" fill="#1b1436" fill-opacity="0.71"/><ellipse cx="1010.4" cy="76.8" rx="1.9" ry="1.9" fill="#1b1436" fill-opacity="0.90"/><ellipse cx="1056.4" cy="159.4" rx="1.3" ry="1.4" fill="#1b1436" fill-opacity="0.79"/><ellipse cx="1317.3" cy="159.8" rx="1.5" ry="1.6" fill="#1b1436" fill-opacity="0.85"/><ellipse cx="725.3" cy="115.3" rx="2.0" ry="1.6" fill="#1b1436" fill-opacity="0.93"/><ellipse cx="1164.2" cy="70.7" rx="1.9" ry="1.9" fill="#1b1436" fill-opacity="0.83"/><ellipse cx="683.9" cy="123.4" rx="3.3" ry="2.6" fill="#1b1436" fill-opacity="0.88"/><ellipse cx="1058.0" cy="76.6" rx="1.2" ry="1.2" fill="#1b1436" fill-opacity="0.77"/><ellipse cx="1365.1" cy="156.8" rx="2.2" ry="1.9" fill="#1b1436" fill-opacity="0.72"/><ellipse cx="776.3" cy="65.2" rx="3.6" ry="3.2" fill="#1b1436" fill-opacity="0.93"/><ellipse cx="1410.1" cy="140.7" rx="1.5" ry="1.2" fill="#1b1436" fill-opacity="0.63"/><ellipse cx="554.4" cy="150.6" rx="1.5" ry="1.2" fill="#1b1436" fill-opacity="0.65"/><ellipse cx="1134.6" cy="63.0" rx="1.6" ry="1.6" fill="#1b1436" fill-opacity="0.77"/><ellipse cx="814.2" cy="75.6" rx="1.9" ry="1.6" fill="#1b1436" fill-opacity="0.77"/><ellipse cx="397.3" cy="112.0" rx="2.8" ry="2.6" fill="#1b1436" fill-opacity="0.92"/><ellipse cx="338.5" cy="97.5" rx="1.9" ry="1.6" fill="#1b1436" fill-opacity="0.69"/><ellipse cx="738.0" cy="54.9" rx="1.6" ry="1.4" fill="#1b1436" fill-opacity="0.72"/><ellipse cx="697.8" cy="139.0" rx="1.5" ry="1.6" fill="#1b1436" fill-opacity="0.87"/><ellipse cx="1072.3" cy="74.9" rx="4.4" ry="3.2" fill="#1b1436" fill-opacity="0.62"/><ellipse cx="981.4" cy="65.2" rx="1.9" ry="1.6" fill="#1b1436" fill-opacity="0.70"/><ellipse cx="716.6" cy="84.9" rx="2.4" ry="1.9" fill="#1b1436" fill-opacity="0.77"/><ellipse cx="973.2" cy="108.6" rx="1.2" ry="1.2" fill="#1b1436" fill-opacity="0.65"/><ellipse cx="745.7" cy="68.7" rx="1.8" ry="1.6" fill="#1b1436" fill-opacity="0.79"/><ellipse cx="931.3" cy="67.4" rx="1.7" ry="1.4" fill="#1b1436" fill-opacity="0.71"/><ellipse cx="623.2" cy="103.8" rx="2.4" ry="2.6" fill="#1b1436" fill-opacity="0.67"/><ellipse cx="1438.3" cy="135.7" rx="3.2" ry="3.2" fill="#1b1436" fill-opacity="0.69"/><ellipse cx="705.4" cy="137.7" rx="1.8" ry="1.4" fill="#1b1436" fill-opacity="0.77"/><ellipse cx="1413.8" cy="128.4" rx="1.8" ry="1.4" fill="#1b1436" fill-opacity="0.77"/><ellipse cx="743.6" cy="134.6" rx="1.8" ry="1.6" fill="#1b1436" fill-opacity="0.71"/><ellipse cx="564.4" cy="91.4" rx="2.7" ry="1.9" fill="#1b1436" fill-opacity="0.64"/><ellipse cx="1151.6" cy="70.2" rx="2.2" ry="2.2" fill="#1b1436" fill-opacity="0.82"/><ellipse cx="347.0" cy="81.6" rx="2.1" ry="2.2" fill="#1b1436" fill-opacity="0.71"/><ellipse cx="271.8" cy="133.0" rx="1.3" ry="1.2" fill="#1b1436" fill-opacity="0.78"/><ellipse cx="449.6" cy="50.2" rx="3.5" ry="3.2" fill="#1b1436" fill-opacity="0.90"/><ellipse cx="1321.6" cy="106.3" rx="2.2" ry="2.2" fill="#1b1436" fill-opacity="0.76"/><ellipse cx="1290.1" cy="56.8" rx="2.5" ry="1.9" fill="#1b1436" fill-opacity="0.89"/><ellipse cx="283.6" cy="72.8" rx="1.8" ry="1.6" fill="#1b1436" fill-opacity="0.69"/><ellipse cx="535.1" cy="140.6" rx="2.6" ry="2.2" fill="#1b1436" fill-opacity="0.90"/><ellipse cx="770.6" cy="64.4" rx="3.2" ry="2.6" fill="#1b1436" fill-opacity="0.89"/><ellipse cx="1160.5" cy="131.1" rx="1.3" ry="1.2" fill="#1b1436" fill-opacity="0.66"/><ellipse cx="596.0" cy="123.1" rx="2.2" ry="2.2" fill="#1b1436" fill-opacity="0.71"/><ellipse cx="1373.3" cy="101.3" rx="1.4" ry="1.2" fill="#1b1436" fill-opacity="0.89"/><ellipse cx="975.3" cy="128.7" rx="1.5" ry="1.2" fill="#1b1436" fill-opacity="0.84"/><ellipse cx="676.7" cy="157.1" rx="2.4" ry="1.9" fill="#1b1436" fill-opacity="0.87"/><ellipse cx="333.8" cy="93.3" rx="1.9" ry="1.4" fill="#1b1436" fill-opacity="0.83"/><ellipse cx="839.2" cy="143.8" rx="1.5" ry="1.2" fill="#1b1436" fill-opacity="0.77"/><ellipse cx="513.3" cy="83.4" rx="2.3" ry="1.9" fill="#1b1436" fill-opacity="0.89"/><ellipse cx="696.3" cy="123.0" rx="1.3" ry="1.4" fill="#1b1436" fill-opacity="0.88"/><ellipse cx="515.9" cy="51.4" rx="1.5" ry="1.4" fill="#1b1436" fill-opacity="0.90"/><ellipse cx="758.4" cy="83.0" rx="2.7" ry="2.2" fill="#1b1436" fill-opacity="0.90"/><ellipse cx="995.8" cy="54.0" rx="2.9" ry="2.2" fill="#1b1436" fill-opacity="0.75"/><ellipse cx="1122.3" cy="123.4" rx="1.8" ry="1.4" fill="#1b1436" fill-opacity="0.75"/><ellipse cx="786.1" cy="71.1" rx="2.0" ry="2.2" fill="#1b1436" fill-opacity="0.86"/><ellipse cx="1439.5" cy="102.6" rx="2.1" ry="1.9" fill="#1b1436" fill-opacity="0.64"/><ellipse cx="285.8" cy="144.1" rx="4.0" ry="3.2" fill="#1b1436" fill-opacity="0.69"/><ellipse cx="681.7" cy="99.3" rx="2.7" ry="2.2" fill="#1b1436" fill-opacity="0.85"/><ellipse cx="639.1" cy="123.4" rx="3.3" ry="3.2" fill="#1b1436" fill-opacity="0.86"/><ellipse cx="1154.5" cy="152.3" rx="2.4" ry="2.2" fill="#1b1436" fill-opacity="0.93"/><ellipse cx="1314.8" cy="141.5" rx="1.1" ry="1.2" fill="#1b1436" fill-opacity="0.94"/><ellipse cx="636.9" cy="118.8" rx="2.0" ry="1.9" fill="#1b1436" fill-opacity="0.61"/><ellipse cx="286.7" cy="87.4" rx="2.0" ry="1.6" fill="#1b1436" fill-opacity="0.91"/><ellipse cx="487.7" cy="141.5" rx="3.5" ry="3.2" fill="#1b1436" fill-opacity="0.84"/><ellipse cx="1119.0" cy="120.3" rx="3.9" ry="3.2" fill="#1b1436" fill-opacity="0.66"/><ellipse cx="1199.1" cy="156.1" rx="2.1" ry="1.6" fill="#1b1436" fill-opacity="0.78"/><ellipse cx="1375.7" cy="131.1" rx="2.0" ry="1.6" fill="#1b1436" fill-opacity="0.61"/><ellipse cx="653.3" cy="56.0" rx="2.1" ry="1.6" fill="#1b1436" fill-opacity="0.87"/><ellipse cx="850.7" cy="82.0" rx="3.1" ry="3.2" fill="#1b1436" fill-opacity="0.75"/><ellipse cx="732.3" cy="110.1" rx="3.6" ry="2.6" fill="#1b1436" fill-opacity="0.71"/><ellipse cx="622.2" cy="54.0" rx="2.6" ry="2.6" fill="#1b1436" fill-opacity="0.67"/><ellipse cx="1295.3" cy="150.7" rx="2.4" ry="2.6" fill="#1b1436" fill-opacity="0.80"/><ellipse cx="312.4" cy="75.9" rx="1.9" ry="1.4" fill="#1b1436" fill-opacity="0.72"/><ellipse cx="720.5" cy="53.9" rx="2.9" ry="3.2" fill="#1b1436" fill-opacity="0.85"/><ellipse cx="625.6" cy="99.5" rx="2.0" ry="1.9" fill="#1b1436" fill-opacity="0.66"/><ellipse cx="737.2" cy="62.9" rx="2.9" ry="2.6" fill="#1b1436" fill-opacity="0.84"/><ellipse cx="1089.1" cy="144.3" rx="1.4" ry="1.4" fill="#1b1436" fill-opacity="0.73"/><ellipse cx="1179.3" cy="69.7" rx="1.1" ry="1.2" fill="#1b1436" fill-opacity="0.69"/><ellipse cx="439.2" cy="103.3" rx="2.8" ry="2.6" fill="#1b1436" fill-opacity="0.90"/><ellipse cx="1225.9" cy="107.0" rx="3.6" ry="3.2" fill="#1b1436" fill-opacity="0.89"/><ellipse cx="1364.1" cy="139.4" rx="1.7" ry="1.4" fill="#1b1436" fill-opacity="0.71"/><ellipse cx="959.7" cy="58.2" rx="3.0" ry="2.2" fill="#1b1436" fill-opacity="0.87"/><ellipse cx="992.7" cy="53.9" rx="3.7" ry="3.8" fill="#241a40" fill-opacity="0.46"/><ellipse cx="394.2" cy="95.0" rx="3.2" ry="3.1" fill="#241a40" fill-opacity="0.39"/><ellipse cx="927.3" cy="124.6" rx="5.6" ry="3.9" fill="#241a40" fill-opacity="0.47"/><ellipse cx="1191.3" cy="152.3" rx="4.2" ry="3.1" fill="#241a40" fill-opacity="0.33"/><ellipse cx="336.8" cy="72.9" rx="7.0" ry="5.1" fill="#241a40" fill-opacity="0.38"/><ellipse cx="1053.9" cy="98.3" rx="5.5" ry="4.9" fill="#241a40" fill-opacity="0.30"/><ellipse cx="633.9" cy="124.2" rx="4.5" ry="4.2" fill="#241a40" fill-opacity="0.42"/><ellipse cx="537.0" cy="59.3" rx="4.7" ry="4.1" fill="#241a40" fill-opacity="0.30"/><ellipse cx="1268.7" cy="136.8" rx="6.4" ry="4.7" fill="#241a40" fill-opacity="0.45"/><ellipse cx="797.4" cy="104.3" rx="6.3" ry="4.7" fill="#241a40" fill-opacity="0.52"/><ellipse cx="1443.3" cy="74.8" rx="5.7" ry="4.9" fill="#241a40" fill-opacity="0.51"/><ellipse cx="865.7" cy="63.6" rx="5.6" ry="3.8" fill="#241a40" fill-opacity="0.43"/><ellipse cx="757.1" cy="148.5" rx="5.6" ry="4.2" fill="#241a40" fill-opacity="0.30"/><ellipse cx="1334.6" cy="112.6" rx="6.7" ry="4.8" fill="#241a40" fill-opacity="0.32"/><ellipse cx="552.8" cy="63.8" rx="4.8" ry="3.5" fill="#241a40" fill-opacity="0.32"/><ellipse cx="1169.6" cy="114.2" rx="5.1" ry="4.6" fill="#241a40" fill-opacity="0.40"/><ellipse cx="285.0" cy="67.9" rx="6.8" ry="5.0" fill="#241a40" fill-opacity="0.43"/><ellipse cx="401.0" cy="129.4" rx="4.5" ry="3.8" fill="#241a40" fill-opacity="0.45"/><ellipse cx="1132.2" cy="116.9" rx="5.5" ry="4.5" fill="#241a40" fill-opacity="0.45"/><ellipse cx="1344.6" cy="102.9" rx="3.7" ry="3.4" fill="#241a40" fill-opacity="0.43"/><ellipse cx="973.4" cy="154.3" rx="4.6" ry="4.3" fill="#241a40" fill-opacity="0.39"/><ellipse cx="346.1" cy="109.3" rx="5.4" ry="4.2" fill="#241a40" fill-opacity="0.30"/><ellipse cx="666.5" cy="75.2" rx="3.4" ry="3.5" fill="#241a40" fill-opacity="0.44"/><ellipse cx="467.0" cy="131.5" rx="6.0" ry="4.3" fill="#241a40" fill-opacity="0.53"/><ellipse cx="403.9" cy="139.5" rx="6.1" ry="4.1" fill="#241a40" fill-opacity="0.46"/><ellipse cx="642.7" cy="127.9" rx="5.2" ry="4.9" fill="#241a40" fill-opacity="0.34"/><ellipse cx="992.9" cy="64.9" rx="4.6" ry="4.9" fill="#241a40" fill-opacity="0.37"/><ellipse cx="1016.9" cy="131.7" rx="5.3" ry="3.8" fill="#241a40" fill-opacity="0.43"/><ellipse cx="1333.7" cy="84.4" rx="4.2" ry="3.2" fill="#241a40" fill-opacity="0.32"/><ellipse cx="426.4" cy="52.4" rx="4.6" ry="4.2" fill="#241a40" fill-opacity="0.49"/><ellipse cx="466.2" cy="63.2" rx="7.1" ry="5.0" fill="#241a40" fill-opacity="0.41"/><ellipse cx="931.7" cy="154.4" rx="5.4" ry="4.4" fill="#241a40" fill-opacity="0.53"/><ellipse cx="759.3" cy="89.8" rx="3.1" ry="3.1" fill="#241a40" fill-opacity="0.30"/><ellipse cx="469.2" cy="154.6" rx="6.7" ry="4.7" fill="#241a40" fill-opacity="0.32"/><ellipse cx="1427.7" cy="77.2" rx="6.7" ry="5.0" fill="#241a40" fill-opacity="0.35"/><ellipse cx="275.0" cy="86.2" rx="5.9" ry="4.3" fill="#241a40" fill-opacity="0.30"/><ellipse cx="307.7" cy="102.6" rx="3.1" ry="3.2" fill="#241a40" fill-opacity="0.53"/><ellipse cx="1155.8" cy="141.5" rx="4.1" ry="4.1" fill="#241a40" fill-opacity="0.35"/><ellipse cx="475.6" cy="122.5" rx="4.5" ry="4.4" fill="#241a40" fill-opacity="0.39"/><ellipse cx="819.3" cy="156.6" rx="5.5" ry="3.9" fill="#241a40" fill-opacity="0.47"/><ellipse cx="797.5" cy="86.5" rx="4.2" ry="3.8" fill="#241a40" fill-opacity="0.49"/><ellipse cx="706.4" cy="151.9" rx="7.3" ry="5.0" fill="#241a40" fill-opacity="0.42"/><ellipse cx="486.1" cy="55.7" rx="3.8" ry="3.7" fill="#241a40" fill-opacity="0.32"/><ellipse cx="704.0" cy="91.8" rx="6.0" ry="5.1" fill="#241a40" fill-opacity="0.39"/><ellipse cx="554.1" cy="66.4" rx="4.3" ry="4.4" fill="#241a40" fill-opacity="0.45"/><ellipse cx="1296.3" cy="159.9" rx="4.7" ry="4.4" fill="#241a40" fill-opacity="0.30"/><ellipse cx="1139.6" cy="120.4" rx="6.0" ry="4.9" fill="#241a40" fill-opacity="0.42"/><ellipse cx="347.7" cy="62.7" rx="5.0" ry="3.4" fill="#241a40" fill-opacity="0.54"/><ellipse cx="1298.3" cy="134.7" rx="3.1" ry="3.2" fill="#241a40" fill-opacity="0.49"/><ellipse cx="1167.1" cy="97.9" rx="5.8" ry="4.4" fill="#241a40" fill-opacity="0.47"/><ellipse cx="529.9" cy="155.6" rx="5.4" ry="4.7" fill="#241a40" fill-opacity="0.45"/><ellipse cx="752.6" cy="159.6" rx="4.6" ry="4.4" fill="#241a40" fill-opacity="0.52"/><ellipse cx="527.7" cy="128.0" rx="3.7" ry="3.7" fill="#241a40" fill-opacity="0.31"/><ellipse cx="1278.5" cy="112.6" rx="4.2" ry="4.4" fill="#241a40" fill-opacity="0.50"/><ellipse cx="467.2" cy="49.5" rx="4.3" ry="4.5" fill="#241a40" fill-opacity="0.36"/><ellipse cx="1185.1" cy="156.0" rx="5.5" ry="4.7" fill="#241a40" fill-opacity="0.35"/><ellipse cx="697.9" cy="85.7" rx="6.4" ry="4.6" fill="#241a40" fill-opacity="0.33"/><ellipse cx="1203.1" cy="101.7" rx="4.5" ry="3.3" fill="#241a40" fill-opacity="0.40"/><ellipse cx="1318.4" cy="122.1" rx="4.6" ry="3.8" fill="#241a40" fill-opacity="0.37"/><ellipse cx="314.5" cy="87.1" rx="6.1" ry="4.9" fill="#241a40" fill-opacity="0.32"/><ellipse cx="648.4" cy="104.2" rx="3.6" ry="3.7" fill="#241a40" fill-opacity="0.44"/><ellipse cx="1233.7" cy="88.8" rx="4.9" ry="4.3" fill="#241a40" fill-opacity="0.44"/><ellipse cx="1189.9" cy="68.3" rx="4.0" ry="3.6" fill="#241a40" fill-opacity="0.51"/><ellipse cx="1082.6" cy="154.2" rx="5.2" ry="3.5" fill="#241a40" fill-opacity="0.37"/><ellipse cx="1019.5" cy="102.3" rx="4.2" ry="3.1" fill="#241a40" fill-opacity="0.31"/><ellipse cx="706.9" cy="150.8" rx="6.3" ry="5.0" fill="#241a40" fill-opacity="0.50"/><ellipse cx="377.9" cy="93.9" rx="7.5" ry="5.2" fill="#241a40" fill-opacity="0.45"/><ellipse cx="787.8" cy="93.2" rx="4.6" ry="3.5" fill="#241a40" fill-opacity="0.45"/><ellipse cx="799.0" cy="135.5" rx="6.1" ry="5.2" fill="#241a40" fill-opacity="0.36"/><ellipse cx="1191.2" cy="125.0" rx="4.8" ry="4.6" fill="#241a40" fill-opacity="0.33"/><ellipse cx="762.5" cy="98.3" rx="3.0" ry="3.2" fill="#241a40" fill-opacity="0.45"/><ellipse cx="1160.1" cy="57.5" rx="6.0" ry="4.7" fill="#241a40" fill-opacity="0.42"/><ellipse cx="1175.0" cy="142.0" rx="3.9" ry="3.7" fill="#241a40" fill-opacity="0.47"/><ellipse cx="1199.4" cy="90.9" rx="4.4" ry="3.2" fill="#241a40" fill-opacity="0.55"/><ellipse cx="445.1" cy="87.8" rx="5.4" ry="4.5" fill="#241a40" fill-opacity="0.50"/><ellipse cx="1423.5" cy="122.7" rx="7.2" ry="5.0" fill="#241a40" fill-opacity="0.37"/><ellipse cx="798.0" cy="66.0" rx="4.4" ry="4.3" fill="#241a40" fill-opacity="0.53"/><ellipse cx="1323.6" cy="54.6" rx="4.4" ry="4.5" fill="#241a40" fill-opacity="0.40"/><ellipse cx="677.3" cy="72.7" rx="3.7" ry="3.6" fill="#241a40" fill-opacity="0.54"/><ellipse cx="771.7" cy="65.2" rx="3.2" ry="3.3" fill="#241a40" fill-opacity="0.53"/><ellipse cx="1169.0" cy="142.2" rx="4.0" ry="4.3" fill="#241a40" fill-opacity="0.34"/><ellipse cx="449.8" cy="54.5" rx="6.5" ry="5.1" fill="#241a40" fill-opacity="0.45"/><ellipse cx="811.8" cy="88.1" rx="4.3" ry="4.4" fill="#241a40" fill-opacity="0.45"/><ellipse cx="1158.3" cy="105.4" rx="4.8" ry="3.7" fill="#241a40" fill-opacity="0.37"/><ellipse cx="435.6" cy="105.2" rx="5.4" ry="4.7" fill="#241a40" fill-opacity="0.35"/><ellipse cx="659.8" cy="85.0" rx="6.3" ry="4.5" fill="#241a40" fill-opacity="0.53"/><ellipse cx="467.8" cy="116.4" rx="4.1" ry="3.8" fill="#241a40" fill-opacity="0.34"/><ellipse cx="1449.3" cy="70.1" rx="4.6" ry="3.1" fill="#241a40" fill-opacity="0.36"/><ellipse cx="1341.1" cy="110.6" rx="5.9" ry="3.9" fill="#241a40" fill-opacity="0.32"/><ellipse cx="810.5" cy="158.7" rx="4.7" ry="4.1" fill="#241a40" fill-opacity="0.48"/><ellipse cx="398.2" cy="152.5" rx="3.9" ry="4.2" fill="#241a40" fill-opacity="0.48"/><ellipse cx="383.6" cy="120.9" rx="5.6" ry="4.6" fill="#241a40" fill-opacity="0.47"/><ellipse cx="348.0" cy="149.6" rx="4.4" ry="4.8" fill="#241a40" fill-opacity="0.50"/><ellipse cx="435.8" cy="105.9" rx="4.8" ry="4.0" fill="#241a40" fill-opacity="0.47"/><ellipse cx="549.9" cy="136.7" rx="3.1" ry="3.5" fill="#241a40" fill-opacity="0.37"/><ellipse cx="1461.1" cy="78.6" rx="4.4" ry="3.4" fill="#241a40" fill-opacity="0.55"/><ellipse cx="1458.5" cy="158.8" rx="5.1" ry="3.4" fill="#241a40" fill-opacity="0.49"/><ellipse cx="331.6" cy="71.8" rx="5.0" ry="4.9" fill="#241a40" fill-opacity="0.32"/><ellipse cx="830.1" cy="145.3" rx="4.9" ry="5.0" fill="#241a40" fill-opacity="0.54"/><ellipse cx="597.3" cy="153.6" rx="4.0" ry="3.2" fill="#241a40" fill-opacity="0.54"/><ellipse cx="1247.2" cy="92.6" rx="3.1" ry="3.2" fill="#241a40" fill-opacity="0.47"/><ellipse cx="506.0" cy="126.4" rx="5.5" ry="4.3" fill="#241a40" fill-opacity="0.41"/><ellipse cx="1236.2" cy="98.4" rx="4.2" ry="3.5" fill="#241a40" fill-opacity="0.32"/><ellipse cx="1449.0" cy="106.9" rx="4.5" ry="3.7" fill="#241a40" fill-opacity="0.52"/><ellipse cx="411.6" cy="73.0" rx="4.6" ry="3.4" fill="#241a40" fill-opacity="0.44"/><ellipse cx="1105.4" cy="77.6" rx="4.2" ry="4.3" fill="#241a40" fill-opacity="0.49"/><ellipse cx="1459.3" cy="100.0" rx="4.7" ry="3.8" fill="#241a40" fill-opacity="0.35"/><ellipse cx="1100.1" cy="118.1" rx="4.2" ry="4.0" fill="#241a40" fill-opacity="0.54"/><ellipse cx="421.4" cy="139.5" rx="3.6" ry="3.6" fill="#241a40" fill-opacity="0.40"/><ellipse cx="784.3" cy="60.2" rx="3.9" ry="3.4" fill="#241a40" fill-opacity="0.54"/><ellipse cx="761.4" cy="80.6" rx="6.2" ry="4.6" fill="#241a40" fill-opacity="0.53"/><ellipse cx="819.8" cy="81.7" rx="3.7" ry="3.9" fill="#241a40" fill-opacity="0.53"/><ellipse cx="906.1" cy="125.5" rx="4.6" ry="4.8" fill="#241a40" fill-opacity="0.35"/><ellipse cx="564.6" cy="142.6" rx="6.2" ry="4.3" fill="#241a40" fill-opacity="0.38"/><ellipse cx="1191.0" cy="149.8" rx="5.0" ry="4.7" fill="#241a40" fill-opacity="0.40"/><ellipse cx="681.3" cy="81.6" rx="4.1" ry="4.2" fill="#241a40" fill-opacity="0.31"/><ellipse cx="1205.4" cy="143.5" rx="6.7" ry="5.0" fill="#241a40" fill-opacity="0.52"/><ellipse cx="467.2" cy="141.3" rx="6.1" ry="4.9" fill="#241a40" fill-opacity="0.34"/><ellipse cx="626.8" cy="140.3" rx="5.2" ry="3.7" fill="#241a40" fill-opacity="0.50"/><ellipse cx="1239.3" cy="116.3" rx="4.5" ry="4.2" fill="#241a40" fill-opacity="0.31"/><ellipse cx="853.0" cy="55.4" rx="4.9" ry="3.8" fill="#241a40" fill-opacity="0.49"/><ellipse cx="984.6" cy="61.6" rx="4.1" ry="3.3" fill="#241a40" fill-opacity="0.34"/><ellipse cx="1095.7" cy="67.4" rx="4.4" ry="3.9" fill="#241a40" fill-opacity="0.47"/><ellipse cx="607.5" cy="64.1" rx="3.2" ry="3.0" fill="#241a40" fill-opacity="0.36"/><ellipse cx="422.7" cy="154.3" rx="4.4" ry="4.5" fill="#241a40" fill-opacity="0.41"/><ellipse cx="1444.1" cy="66.0" rx="7.0" ry="4.9" fill="#241a40" fill-opacity="0.38"/><ellipse cx="512.5" cy="140.9" rx="4.7" ry="4.7" fill="#241a40" fill-opacity="0.48"/><ellipse cx="914.4" cy="57.8" rx="5.1" ry="4.3" fill="#241a40" fill-opacity="0.38"/><ellipse cx="1435.8" cy="72.5" rx="4.5" ry="4.4" fill="#241a40" fill-opacity="0.37"/><ellipse cx="1164.6" cy="73.4" rx="5.5" ry="4.6" fill="#241a40" fill-opacity="0.32"/><ellipse cx="1198.4" cy="139.0" rx="6.4" ry="4.5" fill="#241a40" fill-opacity="0.32"/><ellipse cx="1384.6" cy="71.7" rx="4.6" ry="3.3" fill="#241a40" fill-opacity="0.33"/><ellipse cx="1234.8" cy="71.4" rx="4.9" ry="5.0" fill="#241a40" fill-opacity="0.38"/><ellipse cx="1300.9" cy="102.1" rx="4.1" ry="3.2" fill="#241a40" fill-opacity="0.45"/><ellipse cx="1237.4" cy="146.6" rx="3.1" ry="3.3" fill="#241a40" fill-opacity="0.41"/><ellipse cx="504.7" cy="60.1" rx="4.1" ry="3.4" fill="#241a40" fill-opacity="0.35"/><ellipse cx="1413.5" cy="87.7" rx="4.7" ry="4.3" fill="#241a40" fill-opacity="0.42"/><ellipse cx="690.8" cy="77.2" rx="4.8" ry="3.5" fill="#241a40" fill-opacity="0.48"/><ellipse cx="1415.3" cy="124.0" rx="4.3" ry="4.6" fill="#241a40" fill-opacity="0.55"/><ellipse cx="1156.2" cy="127.0" rx="4.0" ry="3.3" fill="#241a40" fill-opacity="0.38"/><ellipse cx="761.3" cy="141.0" rx="4.3" ry="3.8" fill="#241a40" fill-opacity="0.44"/><ellipse cx="1399.4" cy="95.3" rx="4.9" ry="5.0" fill="#241a40" fill-opacity="0.31"/><ellipse cx="1258.2" cy="96.6" rx="4.3" ry="4.6" fill="#241a40" fill-opacity="0.37"/><ellipse cx="1007.0" cy="76.9" rx="5.5" ry="4.3" fill="#241a40" fill-opacity="0.39"/><ellipse cx="1075.3" cy="92.1" rx="3.9" ry="3.8" fill="#241a40" fill-opacity="0.43"/><ellipse cx="1231.5" cy="124.0" rx="3.7" ry="4.0" fill="#241a40" fill-opacity="0.53"/><ellipse cx="616.5" cy="54.8" rx="3.1" ry="3.4" fill="#241a40" fill-opacity="0.52"/><ellipse cx="575.9" cy="86.1" rx="4.4" ry="3.2" fill="#241a40" fill-opacity="0.42"/><ellipse cx="1243.9" cy="137.9" rx="3.2" ry="3.1" fill="#241a40" fill-opacity="0.35"/><ellipse cx="580.4" cy="146.6" rx="5.5" ry="5.1" fill="#241a40" fill-opacity="0.52"/><ellipse cx="1145.3" cy="70.8" rx="5.4" ry="4.7" fill="#241a40" fill-opacity="0.30"/><ellipse cx="514.7" cy="120.5" rx="5.2" ry="3.7" fill="#241a40" fill-opacity="0.31"/><ellipse cx="1164.8" cy="64.5" rx="3.9" ry="3.1" fill="#241a40" fill-opacity="0.38"/><ellipse cx="828.9" cy="127.6" rx="4.0" ry="4.2" fill="#241a40" fill-opacity="0.35"/><ellipse cx="472.9" cy="141.1" rx="4.3" ry="3.5" fill="#241a40" fill-opacity="0.44"/><ellipse cx="680.7" cy="90.6" rx="5.6" ry="4.8" fill="#241a40" fill-opacity="0.34"/><ellipse cx="1374.0" cy="148.5" rx="4.4" ry="4.9" fill="#241a40" fill-opacity="0.49"/><ellipse cx="963.8" cy="62.8" rx="6.6" ry="4.9" fill="#241a40" fill-opacity="0.31"/><ellipse cx="494.9" cy="116.2" rx="4.7" ry="3.6" fill="#241a40" fill-opacity="0.52"/><ellipse cx="632.6" cy="159.6" rx="6.8" ry="4.9" fill="#241a40" fill-opacity="0.50"/><ellipse cx="1335.8" cy="91.9" rx="4.0" ry="3.5" fill="#241a40" fill-opacity="0.46"/><ellipse cx="946.6" cy="91.6" rx="4.3" ry="3.5" fill="#241a40" fill-opacity="0.36"/><ellipse cx="951.4" cy="59.0" rx="6.0" ry="5.0" fill="#241a40" fill-opacity="0.38"/><ellipse cx="812.9" cy="156.9" rx="4.6" ry="4.4" fill="#241a40" fill-opacity="0.50"/><ellipse cx="325.7" cy="142.2" rx="4.3" ry="4.5" fill="#241a40" fill-opacity="0.40"/><ellipse cx="960.6" cy="94.6" rx="3.2" ry="3.1" fill="#241a40" fill-opacity="0.32"/><ellipse cx="751.8" cy="103.6" rx="3.7" ry="3.3" fill="#241a40" fill-opacity="0.32"/><ellipse cx="1437.6" cy="130.0" rx="7.2" ry="5.1" fill="#241a40" fill-opacity="0.47"/><ellipse cx="1006.7" cy="67.7" rx="4.9" ry="4.3" fill="#241a40" fill-opacity="0.51"/><ellipse cx="926.7" cy="124.3" rx="5.0" ry="4.5" fill="#241a40" fill-opacity="0.34"/></g>
<g filter="url(#soft2)"><ellipse cx="306.5" cy="106.2" rx="44.5" ry="7.7" fill="#d9d4e2" fill-opacity="0.15"/><ellipse cx="372.5" cy="105.7" rx="33.5" ry="8.5" fill="#d9d4e2" fill-opacity="0.21"/><ellipse cx="422.5" cy="105.5" rx="28.5" ry="7.5" fill="#d9d4e2" fill-opacity="0.12"/><ellipse cx="463.5" cy="105.5" rx="24.5" ry="8.7" fill="#d9d4e2" fill-opacity="0.25"/><ellipse cx="495.0" cy="105.5" rx="19.0" ry="7.5" fill="#d9d4e2" fill-opacity="0.15"/><ellipse cx="532.0" cy="105.9" rx="30.0" ry="9.0" fill="#d9d4e2" fill-opacity="0.28"/><ellipse cx="590.5" cy="106.5" rx="40.5" ry="11.5" fill="#d9d4e2" fill-opacity="0.45"/><ellipse cx="657.5" cy="101.5" rx="38.5" ry="9.0" fill="#d9d4e2" fill-opacity="0.28"/><ellipse cx="730.0" cy="98.5" rx="46.0" ry="8.5" fill="#d9d4e2" fill-opacity="0.21"/><ellipse cx="815.0" cy="98.5" rx="51.0" ry="11.0" fill="#d9d4e2" fill-opacity="0.40"/><ellipse cx="882.5" cy="94.2" rx="28.5" ry="8.5" fill="#d9d4e2" fill-opacity="0.20"/><ellipse cx="952.5" cy="92.5" rx="53.5" ry="9.0" fill="#d9d4e2" fill-opacity="0.21"/><ellipse cx="1030.0" cy="91.1" rx="36.0" ry="8.5" fill="#d9d4e2" fill-opacity="0.19"/><ellipse cx="1079.0" cy="89.9" rx="25.0" ry="11.0" fill="#d9d4e2" fill-opacity="0.42"/><ellipse cx="1119.0" cy="89.8" rx="27.0" ry="9.0" fill="#d9d4e2" fill-opacity="0.30"/><ellipse cx="1170.0" cy="90.4" rx="36.0" ry="7.5" fill="#d9d4e2" fill-opacity="0.10"/><ellipse cx="1231.0" cy="91.4" rx="37.0" ry="7.7" fill="#d9d4e2" fill-opacity="0.15"/><ellipse cx="1288.5" cy="93.4" rx="32.5" ry="8.0" fill="#d9d4e2" fill-opacity="0.21"/><ellipse cx="1347.5" cy="88.9" rx="38.5" ry="7.5" fill="#d9d4e2" fill-opacity="0.09"/><ellipse cx="1412.5" cy="86.5" rx="38.5" ry="7.5" fill="#d9d4e2" fill-opacity="0.10"/></g>
<g filter="url(#soft)"><ellipse cx="289.9" cy="109.1" rx="4.6" ry="2.2" fill="#dfe8e4" fill-opacity="0.31"/><ellipse cx="302.1" cy="107.4" rx="5.4" ry="2.4" fill="#f4f6f0" fill-opacity="0.19"/><ellipse cx="268.5" cy="106.7" rx="3.4" ry="3.3" fill="#ffffff" fill-opacity="0.27"/><ellipse cx="306.7" cy="107.6" rx="2.6" ry="2.2" fill="#e6ecf0" fill-opacity="0.21"/><ellipse cx="287.7" cy="106.3" rx="2.2" ry="2.4" fill="#f8f4ff" fill-opacity="0.32"/><ellipse cx="338.3" cy="106.0" rx="3.1" ry="3.3" fill="#ffffff" fill-opacity="0.24"/><ellipse cx="312.5" cy="105.1" rx="5.4" ry="2.8" fill="#dfe8e4" fill-opacity="0.30"/><ellipse cx="329.3" cy="107.1" rx="3.3" ry="2.5" fill="#dfe8e4" fill-opacity="0.21"/><ellipse cx="331.9" cy="103.2" rx="4.8" ry="3.2" fill="#f8f4ff" fill-opacity="0.20"/><ellipse cx="300.8" cy="104.4" rx="6.3" ry="2.3" fill="#f8f4ff" fill-opacity="0.29"/><ellipse cx="306.0" cy="105.2" rx="3.9" ry="3.3" fill="#f8f4ff" fill-opacity="0.33"/><ellipse cx="318.5" cy="104.8" rx="4.7" ry="2.9" fill="#ffffff" fill-opacity="0.21"/><ellipse cx="272.3" cy="107.9" rx="3.2" ry="3.4" fill="#dfe8e4" fill-opacity="0.21"/><ellipse cx="316.9" cy="108.0" rx="4.6" ry="2.9" fill="#e6ecf0" fill-opacity="0.28"/><ellipse cx="269.5" cy="106.5" rx="5.4" ry="1.6" fill="#e6ecf0" fill-opacity="0.19"/><ellipse cx="309.5" cy="106.0" rx="5.8" ry="2.4" fill="#ffffff" fill-opacity="0.35"/><ellipse cx="310.0" cy="108.1" rx="3.1" ry="1.7" fill="#ffffff" fill-opacity="0.36"/><ellipse cx="270.8" cy="106.8" rx="4.9" ry="1.8" fill="#f4f6f0" fill-opacity="0.37"/><ellipse cx="319.1" cy="107.0" rx="5.7" ry="2.6" fill="#ffffff" fill-opacity="0.18"/><ellipse cx="372.7" cy="104.9" rx="5.4" ry="2.5" fill="#dfe8e4" fill-opacity="0.52"/><ellipse cx="348.7" cy="106.0" rx="3.0" ry="3.0" fill="#ffffff" fill-opacity="0.25"/><ellipse cx="362.5" cy="106.3" rx="4.6" ry="1.9" fill="#f8f4ff" fill-opacity="0.33"/><ellipse cx="350.2" cy="106.7" rx="3.4" ry="2.5" fill="#f4f6f0" fill-opacity="0.44"/><ellipse cx="374.3" cy="108.6" rx="4.5" ry="2.8" fill="#dfe8e4" fill-opacity="0.47"/><ellipse cx="399.7" cy="104.1" rx="3.0" ry="3.3" fill="#f4f6f0" fill-opacity="0.44"/><ellipse cx="345.6" cy="108.0" rx="2.7" ry="2.4" fill="#f8f4ff" fill-opacity="0.33"/><ellipse cx="392.7" cy="102.0" rx="6.2" ry="3.0" fill="#f4f6f0" fill-opacity="0.28"/><ellipse cx="396.9" cy="104.7" rx="3.5" ry="2.5" fill="#e6ecf0" fill-opacity="0.44"/><ellipse cx="362.1" cy="103.5" rx="6.3" ry="3.4" fill="#dfe8e4" fill-opacity="0.38"/><ellipse cx="364.0" cy="103.8" rx="5.5" ry="2.8" fill="#f4f6f0" fill-opacity="0.31"/><ellipse cx="369.1" cy="105.8" rx="2.7" ry="3.2" fill="#e6ecf0" fill-opacity="0.42"/><ellipse cx="375.9" cy="109.4" rx="3.3" ry="3.1" fill="#e6ecf0" fill-opacity="0.35"/><ellipse cx="354.6" cy="110.9" rx="6.1" ry="2.5" fill="#f8f4ff" fill-opacity="0.40"/><ellipse cx="422.6" cy="105.0" rx="5.4" ry="2.6" fill="#ffffff" fill-opacity="0.27"/><ellipse cx="425.9" cy="104.1" rx="2.7" ry="2.1" fill="#f8f4ff" fill-opacity="0.28"/><ellipse cx="418.0" cy="107.0" rx="3.2" ry="1.8" fill="#f8f4ff" fill-opacity="0.18"/><ellipse cx="425.0" cy="105.4" rx="5.8" ry="2.1" fill="#f8f4ff" fill-opacity="0.30"/><ellipse cx="440.6" cy="107.1" rx="4.9" ry="2.7" fill="#ffffff" fill-opacity="0.23"/><ellipse cx="400.4" cy="106.4" rx="6.0" ry="3.3" fill="#e6ecf0" fill-opacity="0.17"/><ellipse cx="444.3" cy="106.2" rx="5.5" ry="3.3" fill="#e6ecf0" fill-opacity="0.26"/><ellipse cx="436.3" cy="106.9" rx="5.9" ry="1.9" fill="#ffffff" fill-opacity="0.21"/><ellipse cx="408.9" cy="107.2" rx="4.1" ry="1.8" fill="#dfe8e4" fill-opacity="0.25"/><ellipse cx="441.3" cy="100.2" rx="4.3" ry="2.6" fill="#f8f4ff" fill-opacity="0.26"/><ellipse cx="430.0" cy="102.9" rx="2.7" ry="2.8" fill="#f4f6f0" fill-opacity="0.30"/><ellipse cx="467.4" cy="104.2" rx="3.4" ry="1.6" fill="#ffffff" fill-opacity="0.47"/><ellipse cx="465.2" cy="107.3" rx="6.4" ry="2.6" fill="#f8f4ff" fill-opacity="0.29"/><ellipse cx="470.8" cy="105.9" rx="2.3" ry="2.2" fill="#e6ecf0" fill-opacity="0.47"/><ellipse cx="447.6" cy="107.3" rx="2.8" ry="1.9" fill="#e6ecf0" fill-opacity="0.57"/><ellipse cx="453.6" cy="104.4" rx="5.2" ry="2.7" fill="#ffffff" fill-opacity="0.61"/><ellipse cx="450.6" cy="107.0" rx="5.6" ry="2.7" fill="#dfe8e4" fill-opacity="0.31"/><ellipse cx="462.2" cy="103.9" rx="5.9" ry="1.7" fill="#dfe8e4" fill-opacity="0.42"/><ellipse cx="455.9" cy="103.9" rx="3.5" ry="2.7" fill="#dfe8e4" fill-opacity="0.53"/><ellipse cx="464.4" cy="103.5" rx="2.2" ry="2.4" fill="#f4f6f0" fill-opacity="0.45"/><ellipse cx="502.5" cy="102.8" rx="2.5" ry="3.2" fill="#dfe8e4" fill-opacity="0.23"/><ellipse cx="503.4" cy="107.3" rx="3.6" ry="3.2" fill="#ffffff" fill-opacity="0.31"/><ellipse cx="490.2" cy="107.5" rx="4.1" ry="2.3" fill="#f8f4ff" fill-opacity="0.20"/><ellipse cx="502.7" cy="106.2" rx="5.1" ry="1.7" fill="#e6ecf0" fill-opacity="0.32"/><ellipse cx="505.6" cy="107.0" rx="3.3" ry="2.8" fill="#ffffff" fill-opacity="0.36"/><ellipse cx="490.3" cy="106.7" rx="2.6" ry="1.5" fill="#dfe8e4" fill-opacity="0.30"/><ellipse cx="492.3" cy="106.5" rx="6.2" ry="2.5" fill="#dfe8e4" fill-opacity="0.27"/><ellipse cx="545.0" cy="105.9" rx="2.4" ry="1.9" fill="#f8f4ff" fill-opacity="0.40"/><ellipse cx="529.2" cy="105.7" rx="6.1" ry="1.6" fill="#ffffff" fill-opacity="0.47"/><ellipse cx="540.2" cy="105.6" rx="3.6" ry="2.0" fill="#dfe8e4" fill-opacity="0.47"/><ellipse cx="510.1" cy="106.3" rx="2.3" ry="2.7" fill="#f8f4ff" fill-opacity="0.52"/><ellipse cx="544.0" cy="106.3" rx="5.4" ry="2.0" fill="#f8f4ff" fill-opacity="0.61"/><ellipse cx="513.4" cy="106.5" rx="6.1" ry="2.3" fill="#f4f6f0" fill-opacity="0.43"/><ellipse cx="513.5" cy="103.0" rx="6.2" ry="1.9" fill="#f4f6f0" fill-opacity="0.55"/><ellipse cx="545.8" cy="105.9" rx="6.4" ry="2.5" fill="#f8f4ff" fill-opacity="0.65"/><ellipse cx="529.0" cy="105.1" rx="2.7" ry="3.3" fill="#dfe8e4" fill-opacity="0.67"/><ellipse cx="541.9" cy="101.0" rx="3.8" ry="1.8" fill="#f8f4ff" fill-opacity="0.65"/><ellipse cx="521.2" cy="104.7" rx="6.3" ry="2.4" fill="#ffffff" fill-opacity="0.40"/><ellipse cx="525.5" cy="105.4" rx="3.6" ry="2.6" fill="#ffffff" fill-opacity="0.43"/><ellipse cx="593.6" cy="110.1" rx="8.4" ry="2.6" fill="#dfe8e4" fill-opacity="1.00"/><ellipse cx="619.1" cy="104.9" rx="3.8" ry="3.8" fill="#e6ecf0" fill-opacity="0.97"/><ellipse cx="556.1" cy="103.4" rx="3.3" ry="3.5" fill="#ffffff" fill-opacity="0.74"/><ellipse cx="576.3" cy="107.5" rx="7.7" ry="2.5" fill="#e6ecf0" fill-opacity="0.84"/><ellipse cx="600.5" cy="104.2" rx="7.7" ry="2.5" fill="#e6ecf0" fill-opacity="0.89"/><ellipse cx="612.3" cy="101.5" rx="6.5" ry="3.9" fill="#f4f6f0" fill-opacity="0.83"/><ellipse cx="611.1" cy="101.2" rx="8.3" ry="3.0" fill="#e6ecf0" fill-opacity="0.94"/><ellipse cx="561.8" cy="104.6" rx="4.7" ry="4.1" fill="#e6ecf0" fill-opacity="0.76"/><ellipse cx="585.2" cy="106.7" rx="8.2" ry="4.4" fill="#f4f6f0" fill-opacity="1.00"/><ellipse cx="556.3" cy="113.6" rx="8.3" ry="3.9" fill="#ffffff" fill-opacity="1.00"/><ellipse cx="572.3" cy="107.6" rx="3.5" ry="2.3" fill="#e6ecf0" fill-opacity="0.99"/><ellipse cx="606.5" cy="108.1" rx="4.4" ry="4.5" fill="#dfe8e4" fill-opacity="0.63"/><ellipse cx="557.4" cy="106.0" rx="6.6" ry="2.6" fill="#e6ecf0" fill-opacity="0.81"/><ellipse cx="593.6" cy="106.6" rx="6.8" ry="3.9" fill="#f8f4ff" fill-opacity="1.00"/><ellipse cx="596.7" cy="108.1" rx="3.5" ry="4.1" fill="#e6ecf0" fill-opacity="0.72"/><ellipse cx="610.9" cy="103.8" rx="3.5" ry="3.6" fill="#f8f4ff" fill-opacity="0.51"/><ellipse cx="624.5" cy="104.6" rx="4.2" ry="2.8" fill="#e6ecf0" fill-opacity="0.99"/><ellipse cx="639.6" cy="103.9" rx="5.1" ry="2.2" fill="#ffffff" fill-opacity="0.67"/><ellipse cx="643.7" cy="107.5" rx="6.4" ry="1.9" fill="#f4f6f0" fill-opacity="0.51"/><ellipse cx="641.5" cy="105.9" rx="5.2" ry="2.0" fill="#f4f6f0" fill-opacity="0.39"/><ellipse cx="656.6" cy="105.6" rx="5.8" ry="3.2" fill="#f4f6f0" fill-opacity="0.44"/><ellipse cx="635.0" cy="98.6" rx="4.5" ry="3.0" fill="#f4f6f0" fill-opacity="0.32"/><ellipse cx="667.2" cy="102.0" rx="5.7" ry="3.0" fill="#ffffff" fill-opacity="0.57"/><ellipse cx="662.7" cy="100.8" rx="5.8" ry="2.6" fill="#ffffff" fill-opacity="0.64"/><ellipse cx="641.6" cy="100.7" rx="5.3" ry="2.7" fill="#e6ecf0" fill-opacity="0.63"/><ellipse cx="689.0" cy="99.2" rx="2.3" ry="2.8" fill="#f4f6f0" fill-opacity="0.40"/><ellipse cx="641.1" cy="103.8" rx="3.0" ry="2.9" fill="#f4f6f0" fill-opacity="0.63"/><ellipse cx="649.8" cy="104.1" rx="2.3" ry="2.9" fill="#ffffff" fill-opacity="0.46"/><ellipse cx="682.2" cy="99.5" rx="6.3" ry="2.6" fill="#f8f4ff" fill-opacity="0.40"/><ellipse cx="659.3" cy="105.1" rx="6.2" ry="2.5" fill="#ffffff" fill-opacity="0.32"/><ellipse cx="689.7" cy="100.4" rx="3.8" ry="2.6" fill="#ffffff" fill-opacity="0.50"/><ellipse cx="634.4" cy="103.2" rx="4.5" ry="2.2" fill="#f4f6f0" fill-opacity="0.43"/><ellipse cx="654.1" cy="100.7" rx="4.0" ry="1.9" fill="#f4f6f0" fill-opacity="0.34"/><ellipse cx="760.0" cy="94.1" rx="3.5" ry="3.4" fill="#e6ecf0" fill-opacity="0.36"/><ellipse cx="690.0" cy="101.6" rx="5.8" ry="3.0" fill="#e6ecf0" fill-opacity="0.32"/><ellipse cx="724.4" cy="98.7" rx="4.7" ry="2.9" fill="#f4f6f0" fill-opacity="0.26"/><ellipse cx="718.4" cy="99.5" rx="3.1" ry="3.3" fill="#e6ecf0" fill-opacity="0.28"/><ellipse cx="741.5" cy="98.8" rx="2.5" ry="2.0" fill="#e6ecf0" fill-opacity="0.30"/><ellipse cx="741.0" cy="99.0" rx="2.7" ry="1.5" fill="#dfe8e4" fill-opacity="0.39"/><ellipse cx="705.3" cy="101.5" rx="3.0" ry="2.7" fill="#e6ecf0" fill-opacity="0.51"/><ellipse cx="743.8" cy="102.3" rx="4.0" ry="2.9" fill="#ffffff" fill-opacity="0.29"/><ellipse cx="702.5" cy="97.5" rx="3.1" ry="3.1" fill="#f4f6f0" fill-opacity="0.41"/><ellipse cx="746.2" cy="101.8" rx="3.9" ry="1.6" fill="#e6ecf0" fill-opacity="0.38"/><ellipse cx="702.6" cy="100.1" rx="5.3" ry="3.2" fill="#f4f6f0" fill-opacity="0.30"/><ellipse cx="710.0" cy="96.8" rx="2.9" ry="2.3" fill="#e6ecf0" fill-opacity="0.42"/><ellipse cx="711.7" cy="101.5" rx="6.3" ry="2.2" fill="#f4f6f0" fill-opacity="0.45"/><ellipse cx="718.6" cy="99.6" rx="5.9" ry="2.8" fill="#f4f6f0" fill-opacity="0.46"/><ellipse cx="721.9" cy="101.4" rx="3.3" ry="1.7" fill="#e6ecf0" fill-opacity="0.44"/><ellipse cx="691.1" cy="100.0" rx="6.0" ry="2.3" fill="#ffffff" fill-opacity="0.32"/><ellipse cx="749.9" cy="99.4" rx="4.6" ry="1.8" fill="#f4f6f0" fill-opacity="0.42"/><ellipse cx="731.1" cy="99.8" rx="3.3" ry="2.1" fill="#e6ecf0" fill-opacity="0.34"/><ellipse cx="702.9" cy="101.8" rx="2.8" ry="1.7" fill="#f4f6f0" fill-opacity="0.49"/><ellipse cx="693.1" cy="97.0" rx="4.6" ry="2.6" fill="#f4f6f0" fill-opacity="0.43"/><ellipse cx="794.5" cy="100.2" rx="5.0" ry="2.6" fill="#f8f4ff" fill-opacity="0.99"/><ellipse cx="856.9" cy="94.6" rx="6.6" ry="2.2" fill="#f4f6f0" fill-opacity="0.69"/><ellipse cx="843.1" cy="102.8" rx="6.0" ry="3.5" fill="#e6ecf0" fill-opacity="0.68"/><ellipse cx="822.0" cy="99.8" rx="6.8" ry="3.4" fill="#e6ecf0" fill-opacity="0.50"/><ellipse cx="826.8" cy="97.1" rx="5.5" ry="2.4" fill="#ffffff" fill-opacity="0.82"/><ellipse cx="808.3" cy="98.1" rx="4.3" ry="2.2" fill="#f8f4ff" fill-opacity="0.58"/><ellipse cx="859.7" cy="100.2" rx="3.5" ry="2.5" fill="#ffffff" fill-opacity="0.46"/><ellipse cx="824.1" cy="98.7" rx="5.2" ry="2.8" fill="#f4f6f0" fill-opacity="0.91"/><ellipse cx="843.5" cy="97.1" rx="5.3" ry="4.0" fill="#f4f6f0" fill-opacity="0.70"/><ellipse cx="778.5" cy="93.2" rx="3.8" ry="2.8" fill="#dfe8e4" fill-opacity="0.49"/><ellipse cx="815.6" cy="99.2" rx="8.3" ry="3.2" fill="#f4f6f0" fill-opacity="0.68"/><ellipse cx="850.5" cy="96.0" rx="3.1" ry="4.0" fill="#f4f6f0" fill-opacity="0.96"/><ellipse cx="817.4" cy="100.5" rx="6.7" ry="2.8" fill="#f8f4ff" fill-opacity="0.76"/><ellipse cx="818.4" cy="97.5" rx="6.0" ry="4.4" fill="#e6ecf0" fill-opacity="0.45"/><ellipse cx="822.0" cy="98.1" rx="7.8" ry="4.3" fill="#dfe8e4" fill-opacity="0.82"/><ellipse cx="825.1" cy="91.9" rx="6.4" ry="3.9" fill="#e6ecf0" fill-opacity="0.60"/><ellipse cx="829.5" cy="97.8" rx="6.1" ry="3.8" fill="#ffffff" fill-opacity="0.45"/><ellipse cx="821.8" cy="105.6" rx="4.9" ry="2.8" fill="#f4f6f0" fill-opacity="0.62"/><ellipse cx="851.3" cy="93.0" rx="4.9" ry="3.9" fill="#dfe8e4" fill-opacity="0.77"/><ellipse cx="847.2" cy="99.6" rx="8.2" ry="4.4" fill="#e6ecf0" fill-opacity="1.00"/><ellipse cx="856.9" cy="96.1" rx="3.7" ry="3.3" fill="#f8f4ff" fill-opacity="0.76"/><ellipse cx="822.7" cy="100.6" rx="5.7" ry="3.8" fill="#ffffff" fill-opacity="0.45"/><ellipse cx="884.0" cy="98.3" rx="4.7" ry="2.9" fill="#f4f6f0" fill-opacity="0.42"/><ellipse cx="881.4" cy="98.0" rx="2.3" ry="2.3" fill="#e6ecf0" fill-opacity="0.31"/><ellipse cx="900.5" cy="91.4" rx="5.8" ry="1.7" fill="#f4f6f0" fill-opacity="0.46"/><ellipse cx="896.5" cy="95.5" rx="2.9" ry="2.1" fill="#ffffff" fill-opacity="0.34"/><ellipse cx="887.6" cy="93.7" rx="5.1" ry="3.2" fill="#e6ecf0" fill-opacity="0.24"/><ellipse cx="882.8" cy="93.2" rx="4.3" ry="1.9" fill="#f8f4ff" fill-opacity="0.34"/><ellipse cx="883.4" cy="95.9" rx="4.4" ry="2.4" fill="#f8f4ff" fill-opacity="0.36"/><ellipse cx="889.2" cy="93.3" rx="5.5" ry="2.8" fill="#dfe8e4" fill-opacity="0.45"/><ellipse cx="876.3" cy="89.6" rx="5.1" ry="1.8" fill="#e6ecf0" fill-opacity="0.45"/><ellipse cx="881.4" cy="90.9" rx="3.6" ry="2.6" fill="#f8f4ff" fill-opacity="0.47"/><ellipse cx="874.2" cy="90.3" rx="5.4" ry="1.7" fill="#ffffff" fill-opacity="0.23"/><ellipse cx="917.4" cy="93.6" rx="4.0" ry="1.9" fill="#f8f4ff" fill-opacity="0.34"/><ellipse cx="908.6" cy="90.4" rx="3.8" ry="3.1" fill="#e6ecf0" fill-opacity="0.47"/><ellipse cx="918.6" cy="91.9" rx="5.7" ry="2.8" fill="#f8f4ff" fill-opacity="0.27"/><ellipse cx="999.6" cy="92.2" rx="4.1" ry="2.1" fill="#dfe8e4" fill-opacity="0.35"/><ellipse cx="920.1" cy="93.6" rx="4.6" ry="3.2" fill="#ffffff" fill-opacity="0.28"/><ellipse cx="950.9" cy="94.5" rx="2.4" ry="2.5" fill="#dfe8e4" fill-opacity="0.34"/><ellipse cx="966.5" cy="90.8" rx="2.9" ry="2.0" fill="#f4f6f0" fill-opacity="0.48"/><ellipse cx="970.1" cy="90.9" rx="4.2" ry="1.7" fill="#ffffff" fill-opacity="0.39"/><ellipse cx="927.5" cy="95.6" rx="2.7" ry="3.2" fill="#f8f4ff" fill-opacity="0.41"/><ellipse cx="951.9" cy="91.3" rx="2.8" ry="3.2" fill="#f8f4ff" fill-opacity="0.45"/><ellipse cx="981.9" cy="92.6" rx="3.2" ry="2.1" fill="#f8f4ff" fill-opacity="0.37"/><ellipse cx="936.7" cy="91.7" rx="4.9" ry="1.8" fill="#dfe8e4" fill-opacity="0.40"/><ellipse cx="906.7" cy="92.7" rx="3.7" ry="2.0" fill="#e6ecf0" fill-opacity="0.41"/><ellipse cx="992.4" cy="92.7" rx="6.0" ry="2.0" fill="#dfe8e4" fill-opacity="0.41"/><ellipse cx="946.2" cy="91.4" rx="2.5" ry="1.6" fill="#e6ecf0" fill-opacity="0.50"/><ellipse cx="954.9" cy="89.1" rx="5.6" ry="3.2" fill="#ffffff" fill-opacity="0.45"/><ellipse cx="909.5" cy="92.9" rx="4.2" ry="2.1" fill="#dfe8e4" fill-opacity="0.47"/><ellipse cx="942.4" cy="94.8" rx="5.7" ry="2.1" fill="#e6ecf0" fill-opacity="0.46"/><ellipse cx="995.2" cy="94.5" rx="2.4" ry="2.2" fill="#e6ecf0" fill-opacity="0.31"/><ellipse cx="925.7" cy="92.5" rx="3.1" ry="2.8" fill="#f4f6f0" fill-opacity="0.43"/><ellipse cx="965.5" cy="93.4" rx="3.8" ry="2.4" fill="#f4f6f0" fill-opacity="0.28"/><ellipse cx="913.5" cy="92.7" rx="5.9" ry="1.8" fill="#e6ecf0" fill-opacity="0.48"/><ellipse cx="989.5" cy="93.7" rx="6.0" ry="3.2" fill="#dfe8e4" fill-opacity="0.39"/><ellipse cx="1047.4" cy="89.1" rx="2.3" ry="3.2" fill="#e6ecf0" fill-opacity="0.42"/><ellipse cx="1056.2" cy="87.9" rx="2.6" ry="2.8" fill="#ffffff" fill-opacity="0.39"/><ellipse cx="1032.5" cy="88.4" rx="4.6" ry="2.9" fill="#ffffff" fill-opacity="0.30"/><ellipse cx="1015.2" cy="90.8" rx="6.0" ry="2.8" fill="#f4f6f0" fill-opacity="0.33"/><ellipse cx="1014.1" cy="90.6" rx="2.2" ry="3.1" fill="#f8f4ff" fill-opacity="0.47"/><ellipse cx="1001.2" cy="94.6" rx="4.2" ry="2.8" fill="#e6ecf0" fill-opacity="0.30"/><ellipse cx="1031.7" cy="93.6" rx="4.3" ry="3.2" fill="#f8f4ff" fill-opacity="0.27"/><ellipse cx="1057.5" cy="94.0" rx="5.3" ry="2.6" fill="#ffffff" fill-opacity="0.29"/><ellipse cx="1036.1" cy="88.9" rx="3.7" ry="3.0" fill="#e6ecf0" fill-opacity="0.39"/><ellipse cx="1034.9" cy="92.5" rx="3.2" ry="3.0" fill="#ffffff" fill-opacity="0.43"/><ellipse cx="1026.2" cy="92.2" rx="5.9" ry="2.3" fill="#f8f4ff" fill-opacity="0.25"/><ellipse cx="1054.4" cy="93.5" rx="4.1" ry="2.4" fill="#f8f4ff" fill-opacity="0.38"/><ellipse cx="1039.6" cy="88.1" rx="3.2" ry="2.6" fill="#ffffff" fill-opacity="0.36"/><ellipse cx="1012.4" cy="92.4" rx="6.1" ry="3.3" fill="#f8f4ff" fill-opacity="0.37"/><ellipse cx="1016.0" cy="87.8" rx="4.7" ry="2.0" fill="#dfe8e4" fill-opacity="0.35"/><ellipse cx="1086.7" cy="90.0" rx="6.5" ry="3.0" fill="#ffffff" fill-opacity="0.62"/><ellipse cx="1077.0" cy="89.2" rx="7.8" ry="4.2" fill="#e6ecf0" fill-opacity="0.55"/><ellipse cx="1087.4" cy="96.0" rx="7.1" ry="3.6" fill="#f4f6f0" fill-opacity="0.78"/><ellipse cx="1072.5" cy="92.8" rx="7.6" ry="2.5" fill="#f8f4ff" fill-opacity="0.99"/><ellipse cx="1079.8" cy="90.5" rx="3.1" ry="4.4" fill="#dfe8e4" fill-opacity="0.82"/><ellipse cx="1083.3" cy="89.7" rx="5.1" ry="2.2" fill="#e6ecf0" fill-opacity="0.58"/><ellipse cx="1097.8" cy="88.9" rx="3.7" ry="2.3" fill="#f4f6f0" fill-opacity="0.95"/><ellipse cx="1085.1" cy="93.7" rx="4.1" ry="2.4" fill="#f4f6f0" fill-opacity="0.90"/><ellipse cx="1069.3" cy="92.3" rx="4.1" ry="2.8" fill="#dfe8e4" fill-opacity="0.65"/><ellipse cx="1091.5" cy="95.0" rx="6.8" ry="4.3" fill="#e6ecf0" fill-opacity="0.95"/><ellipse cx="1125.8" cy="93.1" rx="2.4" ry="2.3" fill="#dfe8e4" fill-opacity="0.65"/><ellipse cx="1106.6" cy="87.4" rx="3.2" ry="2.3" fill="#f4f6f0" fill-opacity="0.37"/><ellipse cx="1135.1" cy="86.1" rx="6.5" ry="3.0" fill="#f8f4ff" fill-opacity="0.40"/><ellipse cx="1116.5" cy="87.9" rx="4.0" ry="2.3" fill="#f4f6f0" fill-opacity="0.62"/><ellipse cx="1117.8" cy="90.1" rx="3.1" ry="2.6" fill="#f4f6f0" fill-opacity="0.37"/><ellipse cx="1106.7" cy="88.7" rx="3.9" ry="3.1" fill="#f8f4ff" fill-opacity="0.67"/><ellipse cx="1107.6" cy="89.8" rx="5.9" ry="2.8" fill="#e6ecf0" fill-opacity="0.34"/><ellipse cx="1135.5" cy="88.6" rx="5.8" ry="2.4" fill="#f8f4ff" fill-opacity="0.50"/><ellipse cx="1105.4" cy="90.3" rx="4.0" ry="1.6" fill="#f4f6f0" fill-opacity="0.38"/><ellipse cx="1105.2" cy="87.6" rx="3.4" ry="2.9" fill="#dfe8e4" fill-opacity="0.74"/><ellipse cx="1106.2" cy="88.9" rx="2.7" ry="2.1" fill="#f8f4ff" fill-opacity="0.62"/><ellipse cx="1149.0" cy="91.2" rx="5.7" ry="2.6" fill="#ffffff" fill-opacity="0.16"/><ellipse cx="1148.9" cy="91.3" rx="5.2" ry="3.0" fill="#e6ecf0" fill-opacity="0.18"/><ellipse cx="1159.0" cy="91.1" rx="3.3" ry="2.7" fill="#f8f4ff" fill-opacity="0.20"/><ellipse cx="1188.7" cy="91.7" rx="2.2" ry="2.6" fill="#dfe8e4" fill-opacity="0.19"/><ellipse cx="1163.3" cy="91.2" rx="6.4" ry="1.8" fill="#f8f4ff" fill-opacity="0.18"/><ellipse cx="1181.2" cy="91.0" rx="6.1" ry="3.2" fill="#ffffff" fill-opacity="0.18"/><ellipse cx="1163.9" cy="95.1" rx="2.9" ry="3.2" fill="#ffffff" fill-opacity="0.23"/><ellipse cx="1175.3" cy="90.1" rx="4.7" ry="1.9" fill="#ffffff" fill-opacity="0.11"/><ellipse cx="1186.8" cy="92.2" rx="4.1" ry="2.4" fill="#f4f6f0" fill-opacity="0.14"/><ellipse cx="1146.3" cy="88.2" rx="3.8" ry="3.3" fill="#ffffff" fill-opacity="0.17"/><ellipse cx="1167.6" cy="89.9" rx="3.0" ry="2.8" fill="#ffffff" fill-opacity="0.20"/><ellipse cx="1164.1" cy="93.6" rx="2.3" ry="2.0" fill="#dfe8e4" fill-opacity="0.19"/><ellipse cx="1189.3" cy="91.0" rx="2.9" ry="1.7" fill="#ffffff" fill-opacity="0.23"/><ellipse cx="1142.0" cy="91.5" rx="5.6" ry="3.1" fill="#dfe8e4" fill-opacity="0.24"/><ellipse cx="1169.0" cy="90.7" rx="3.3" ry="1.9" fill="#e6ecf0" fill-opacity="0.16"/><ellipse cx="1214.6" cy="91.1" rx="5.9" ry="1.8" fill="#dfe8e4" fill-opacity="0.30"/><ellipse cx="1214.4" cy="93.2" rx="4.3" ry="2.3" fill="#ffffff" fill-opacity="0.22"/><ellipse cx="1208.8" cy="90.2" rx="3.7" ry="2.3" fill="#dfe8e4" fill-opacity="0.18"/><ellipse cx="1231.5" cy="93.1" rx="6.0" ry="2.3" fill="#e6ecf0" fill-opacity="0.36"/><ellipse cx="1210.5" cy="89.8" rx="5.0" ry="2.1" fill="#f4f6f0" fill-opacity="0.33"/><ellipse cx="1230.0" cy="89.0" rx="5.7" ry="2.7" fill="#ffffff" fill-opacity="0.32"/><ellipse cx="1228.5" cy="93.6" rx="5.7" ry="2.2" fill="#e6ecf0" fill-opacity="0.35"/><ellipse cx="1248.6" cy="91.4" rx="3.4" ry="2.6" fill="#dfe8e4" fill-opacity="0.27"/><ellipse cx="1217.3" cy="89.8" rx="5.4" ry="1.5" fill="#ffffff" fill-opacity="0.34"/><ellipse cx="1206.7" cy="91.3" rx="5.8" ry="1.8" fill="#ffffff" fill-opacity="0.30"/><ellipse cx="1222.6" cy="92.4" rx="3.1" ry="2.9" fill="#e6ecf0" fill-opacity="0.20"/><ellipse cx="1250.1" cy="93.8" rx="3.3" ry="2.4" fill="#dfe8e4" fill-opacity="0.31"/><ellipse cx="1211.9" cy="86.1" rx="3.6" ry="2.6" fill="#ffffff" fill-opacity="0.25"/><ellipse cx="1233.4" cy="91.2" rx="4.9" ry="2.4" fill="#f8f4ff" fill-opacity="0.26"/><ellipse cx="1242.5" cy="90.6" rx="3.8" ry="2.7" fill="#ffffff" fill-opacity="0.20"/><ellipse cx="1280.1" cy="93.0" rx="3.7" ry="2.8" fill="#f8f4ff" fill-opacity="0.38"/><ellipse cx="1283.8" cy="93.8" rx="3.4" ry="2.6" fill="#f4f6f0" fill-opacity="0.40"/><ellipse cx="1270.6" cy="91.4" rx="4.2" ry="2.7" fill="#e6ecf0" fill-opacity="0.48"/><ellipse cx="1284.9" cy="91.6" rx="3.0" ry="1.9" fill="#e6ecf0" fill-opacity="0.38"/><ellipse cx="1269.6" cy="93.2" rx="6.1" ry="2.3" fill="#f8f4ff" fill-opacity="0.45"/><ellipse cx="1312.1" cy="92.0" rx="3.9" ry="1.6" fill="#f8f4ff" fill-opacity="0.37"/><ellipse cx="1305.2" cy="92.6" rx="4.6" ry="2.6" fill="#e6ecf0" fill-opacity="0.39"/><ellipse cx="1298.0" cy="90.2" rx="5.8" ry="1.9" fill="#f8f4ff" fill-opacity="0.24"/><ellipse cx="1270.0" cy="91.9" rx="5.4" ry="2.3" fill="#ffffff" fill-opacity="0.51"/><ellipse cx="1279.1" cy="93.5" rx="2.6" ry="2.3" fill="#ffffff" fill-opacity="0.44"/><ellipse cx="1301.2" cy="93.1" rx="4.5" ry="2.6" fill="#ffffff" fill-opacity="0.40"/><ellipse cx="1290.9" cy="91.3" rx="3.3" ry="3.1" fill="#dfe8e4" fill-opacity="0.45"/><ellipse cx="1279.1" cy="91.9" rx="3.1" ry="2.3" fill="#ffffff" fill-opacity="0.40"/><ellipse cx="1352.3" cy="88.8" rx="4.4" ry="1.7" fill="#ffffff" fill-opacity="0.14"/><ellipse cx="1364.6" cy="88.4" rx="4.8" ry="3.3" fill="#f8f4ff" fill-opacity="0.17"/><ellipse cx="1356.7" cy="88.8" rx="6.2" ry="2.9" fill="#f8f4ff" fill-opacity="0.18"/><ellipse cx="1343.9" cy="88.9" rx="2.3" ry="3.2" fill="#e6ecf0" fill-opacity="0.19"/><ellipse cx="1326.9" cy="88.5" rx="6.3" ry="3.1" fill="#f4f6f0" fill-opacity="0.18"/><ellipse cx="1361.8" cy="86.6" rx="4.8" ry="2.8" fill="#e6ecf0" fill-opacity="0.12"/><ellipse cx="1367.9" cy="88.4" rx="2.5" ry="2.9" fill="#ffffff" fill-opacity="0.13"/><ellipse cx="1318.6" cy="91.4" rx="2.7" ry="2.8" fill="#f4f6f0" fill-opacity="0.17"/><ellipse cx="1365.0" cy="85.5" rx="2.5" ry="2.6" fill="#f8f4ff" fill-opacity="0.16"/><ellipse cx="1368.3" cy="86.5" rx="4.1" ry="1.7" fill="#f4f6f0" fill-opacity="0.19"/><ellipse cx="1367.6" cy="88.7" rx="2.4" ry="2.6" fill="#e6ecf0" fill-opacity="0.18"/><ellipse cx="1358.7" cy="89.2" rx="3.5" ry="3.1" fill="#ffffff" fill-opacity="0.22"/><ellipse cx="1315.8" cy="92.6" rx="5.5" ry="1.6" fill="#f8f4ff" fill-opacity="0.14"/><ellipse cx="1363.9" cy="89.3" rx="4.9" ry="2.8" fill="#e6ecf0" fill-opacity="0.14"/><ellipse cx="1374.9" cy="89.0" rx="5.5" ry="3.3" fill="#ffffff" fill-opacity="0.20"/><ellipse cx="1327.9" cy="89.0" rx="3.4" ry="1.7" fill="#ffffff" fill-opacity="0.15"/><ellipse cx="1386.0" cy="87.3" rx="3.2" ry="2.0" fill="#dfe8e4" fill-opacity="0.16"/><ellipse cx="1381.7" cy="87.3" rx="4.1" ry="2.2" fill="#f4f6f0" fill-opacity="0.15"/><ellipse cx="1431.9" cy="84.6" rx="6.0" ry="3.3" fill="#dfe8e4" fill-opacity="0.20"/><ellipse cx="1398.8" cy="87.1" rx="5.3" ry="2.2" fill="#f4f6f0" fill-opacity="0.17"/><ellipse cx="1430.4" cy="88.1" rx="5.2" ry="3.2" fill="#e6ecf0" fill-opacity="0.20"/><ellipse cx="1437.3" cy="84.5" rx="4.8" ry="2.8" fill="#dfe8e4" fill-opacity="0.16"/><ellipse cx="1434.5" cy="89.0" rx="2.8" ry="2.7" fill="#f4f6f0" fill-opacity="0.19"/><ellipse cx="1419.7" cy="85.5" rx="2.9" ry="3.1" fill="#f8f4ff" fill-opacity="0.14"/><ellipse cx="1436.9" cy="86.8" rx="4.1" ry="2.8" fill="#f8f4ff" fill-opacity="0.12"/><ellipse cx="1385.5" cy="89.9" rx="6.3" ry="2.1" fill="#f8f4ff" fill-opacity="0.19"/><ellipse cx="1422.4" cy="87.8" rx="5.8" ry="2.6" fill="#dfe8e4" fill-opacity="0.16"/><ellipse cx="1385.4" cy="86.7" rx="4.3" ry="1.9" fill="#dfe8e4" fill-opacity="0.23"/><ellipse cx="1390.3" cy="86.7" rx="6.3" ry="2.7" fill="#dfe8e4" fill-opacity="0.12"/><ellipse cx="1423.4" cy="86.2" rx="3.1" ry="3.1" fill="#dfe8e4" fill-opacity="0.19"/><ellipse cx="1423.6" cy="85.2" rx="2.8" ry="1.8" fill="#f4f6f0" fill-opacity="0.12"/><ellipse cx="1417.7" cy="86.5" rx="4.2" ry="2.7" fill="#e6ecf0" fill-opacity="0.24"/><circle cx="829" cy="84" r="4" fill="#f3eef4" fill-opacity="0.9"/><circle cx="920.6" cy="107" r="3.6" fill="#f3eef4" fill-opacity="0.9"/><circle cx="908.5" cy="116.5" r="2.8" fill="#f3eef4" fill-opacity="0.9"/><circle cx="617" cy="83" r="2.6" fill="#f3eef4" fill-opacity="0.9"/><circle cx="365" cy="56" r="2.2" fill="#f3eef4" fill-opacity="0.9"/><circle cx="1382" cy="131" r="3" fill="#f3eef4" fill-opacity="0.9"/><circle cx="649" cy="157" r="2.5" fill="#f3eef4" fill-opacity="0.9"/><circle cx="1245" cy="152" r="3" fill="#f3eef4" fill-opacity="0.9"/><circle cx="846" cy="153" r="2.2" fill="#f3eef4" fill-opacity="0.9"/><circle cx="1432" cy="58" r="2.5" fill="#f3eef4" fill-opacity="0.9"/><circle cx="470" cy="71" r="2" fill="#f3eef4" fill-opacity="0.9"/><circle cx="735" cy="52" r="2" fill="#f3eef4" fill-opacity="0.9"/></g>
</g>
<path d="M264.5,163.2 V47.5 H1464.3 V163.2" fill="none" stroke="#08040f" stroke-width="2.8"/>
<path d="M263.3,163.0 H1465.6" fill="none" stroke="#000" stroke-width="3.6"/>
<g id="reflines">
<line class="dash" x1="264.6" y1="422.1" x2="1461.1" y2="422.1"/>
<line class="dash" x1="264.6" y1="534.0" x2="1461.1" y2="534.0"/>
<line class="dash" x1="264.6" y1="582.3" x2="1461.1" y2="582.3"/>
</g>
<g id="axes">
<path class="ax" d="M266.0,160.5 V1125.8 M245.5,1105.8 H1463.6 M1461.1,162.9 V1118.3"/>
<path class="ax" d="M245.5,1105.8 H266.0 M254.5,1053.0 H266.0 M245.5,1001.4 H266.0 M254.5,949.6 H266.0 M245.5,897.0 H266.0 M254.5,844.0 H266.0 M245.5,790.8 H266.0 M254.5,739.6 H266.0 M245.5,686.4 H266.0 M254.5,635.8 H266.0 M245.5,581.9 H266.0 M254.5,530.3 H266.0 M245.5,478.3 H266.0 M254.5,425.5 H266.0 M245.5,373.9 H266.0 M254.5,320.9 H266.0 M245.5,269.5 H266.0 M254.5,216.7 H266.0 M245.5,162.9 H266.0 M266.1,1105.8 V1125.8 M358.0,1105.8 V1118.3 M450.0,1105.8 V1125.8 M541.9,1105.8 V1118.3 M633.8,1105.8 V1125.8 M725.7,1105.8 V1118.3 M817.6,1105.8 V1125.8 M909.6,1105.8 V1118.3 M1001.5,1105.8 V1125.8 M1093.4,1105.8 V1118.3 M1185.3,1105.8 V1125.8 M1277.3,1105.8 V1118.3 M1369.2,1105.8 V1125.8 M1461.1,1105.8 V1118.3"/>
</g>
<g id="curves">
<g id="first-topography" class="crv" stroke="#000" stroke-width="7.6">
<polyline points="499.5,749.9 503.5,779.8 507.5,797.8 513.5,769.9 516.5,739.9 518.5,700.0 519.5,629.7 523.5,611.8 531.4,639.7 539.4,647.7 547.4,645.0 552.0,680.0 557.0,640.0 560.0,590.0 566.0,574.0 574.0,600.0 580.0,628.0 587.0,637.0 594.0,616.0 598.0,598.0 608.0,598.0 614.0,586.0 620.0,574.0 627.8,590.0 633.8,634.0 645.8,634.0 651.8,600.0 657.8,576.0 667.7,573.0 671.7,600.0 677.7,643.8 683.7,647.8 688.7,679.8 693.7,695.7 698.7,679.8 699.7,620.0 701.7,582.0 705.7,582.0 707.7,620.0 713.7,659.8 717.6,683.7 723.6,659.8 727.6,606.0 728.6,603.0 735.6,620.0 741.6,632.0 747.6,610.0 752.6,592.0 759.6,612.0 767.5,620.0 771.5,659.8 774.5,713.7 779.5,679.8 783.5,600.0 785.5,559.7 795.5,600.0 801.5,640.0 806.5,675.8 811.5,640.0 815.4,600.0 823.4,596.0 828.4,566.0 834.0,610.0 840.0,640.0 848.0,657.8 856.0,635.8 860.0,600.0 865.0,570.0 874.0,568.0 880.0,570.0 885.9,550.0 893.0,560.0 895.8,580.0 897.8,620.0 901.8,660.0 905.8,700.0 909.8,740.0 917.8,764.0 925.8,780.0 928.8,803.8 933.8,811.8 939.8,803.8 941.8,780.0 944.8,756.0 946.8,732.0 952.7,722.0 954.7,700.0 955.7,692.0 957.7,640.0 959.7,586.0 966.7,566.0 967.7,600.0 973.7,620.0 979.7,640.0 983.7,675.7 987.7,691.7 991.7,660.0 993.7,620.0 995.6,580.0 999.6,552.0 1003.6,580.0 1007.6,592.0 1011.6,578.0 1017.6,610.0 1021.6,629.8 1027.6,600.0 1031.6,570.0 1034.6,556.0 1039.6,566.0 1045.5,580.0 1052.5,601.9 1059.5,580.0 1063.5,574.0 1069.5,600.0 1073.5,607.9 1077.5,580.0 1079.5,550.0 1087.5,580.0 1089.5,620.0 1095.4,639.8 1099.4,620.0 1101.4,598.0 1106.0,623.8 1116.0,633.8 1122.0,645.8 1128.0,637.0 1130.0,669.7 1136.0,709.7 1140.0,739.6 1145.0,751.6 1152.0,719.6 1154.0,659.8 1158.0,600.0 1162.9,568.0 1167.9,600.0 1169.9,659.8 1173.9,719.6 1176.8,780.0 1179.8,839.8 1183.8,889.7 1187.8,931.6 1191.8,909.6 1195.8,899.6 1200.8,911.6 1204.8,899.6 1205.8,859.7 1209.8,809.8 1211.8,759.9 1212.8,720.0 1213.8,659.8 1215.8,619.8 1219.8,679.7 1224.8,725.6 1229.7,689.7 1235.7,659.8 1239.7,631.8 1243.7,651.8 1251.7,659.8 1261.7,655.8 1267.7,629.8 1271.7,589.9 1274.7,578.0 1279.6,582.0 1285.6,595.9 1293.6,593.9 1299.6,582.0 1303.6,576.0 1309.6,600.0 1315.6,623.8 1321.6,609.9 1325.5,597.9 1329.5,599.9 1333.5,639.8 1337.5,699.7 1341.5,729.6 1346.5,741.6 1351.5,719.6 1355.5,659.8 1358.5,599.9 1362.5,552.0 1366.0,575.0 1368.0,590.0"/>
<polyline stroke="#000" stroke-width="7.6" points="270.5,573.0 276.0,571.0 283.3,568.6 289.8,580.7 297.2,591.9 301.0,610.5 304.7,630.0 310.0,648.0 316.0,620.0 321.4,593.7 325.2,610.5 328.0,633.8 331.7,643.0 338.0,660.0 343.8,659.8 347.5,633.8 351.2,615.0 358.7,590.0 364.3,598.4 369.8,604.0 380.0,607.7 384.0,621.9 387.7,640.5 391.4,654.5 396.0,680.0 399.0,708.0 402.0,672.0 405.0,705.0 407.5,670.0 410.0,653.0 412.5,675.0 414.5,690.0 420.0,688.0 428.0,676.0 437.0,668.0 443.0,677.0 449.0,683.0 453.5,672.0 458.0,660.0 462.0,652.0 466.5,650.0 469.0,662.0 471.6,679.6 474.6,720.0 477.6,750.0 481.6,799.8 486.5,827.7 489.5,799.8 491.5,759.9 494.5,710.0 499.5,749.9"/>
</g>
<g id="scratch" class="crv" stroke="#e20000" stroke-width="7.5">
<polyline points="501.5,561.9 504.2,559.9 506.8,557.9 509.5,555.9 510.8,553.2 512.2,550.6 513.5,547.9 514.8,545.2 516.2,542.6 517.5,539.9 518.6,537.1 519.8,534.2 520.9,531.4 522.1,528.5 523.2,525.7 524.4,522.8 525.5,520.0 528.5,519.0 531.4,518.0 533.4,520.5 535.4,523.0 537.4,525.4 539.4,527.9 541.3,530.5 543.1,533.1 545.0,535.7 546.3,532.9 547.6,530.0 548.9,527.2 550.1,524.3 551.4,521.5 552.7,518.6 554.0,515.8 557.0,516.3 560.0,516.8 563.0,517.3 566.0,517.8 568.0,515.8 570.0,513.8 572.0,511.8 574.0,509.8 576.0,507.8 579.1,507.2 582.3,506.7 585.4,506.1 588.6,505.5 591.7,504.9 594.9,504.4 598.0,503.8 600.5,502.7 603.1,501.5 605.6,500.4 608.2,499.2 610.7,498.1 613.3,496.9 615.8,495.8 618.1,497.8 620.5,499.8 622.8,501.8 625.1,503.8 627.5,505.8 629.8,507.8 631.8,505.3 633.8,502.8 635.8,500.3 637.8,497.8 640.7,496.8 643.6,495.8 646.5,494.8 649.4,493.8 652.2,492.8 655.1,491.8 658.0,490.8 660.9,489.8 663.8,488.8 667.1,489.5 670.4,490.1 673.7,490.8 675.5,493.1 677.4,495.5 679.2,497.8 681.0,500.1 682.9,502.5 684.7,504.8 686.5,502.5 688.2,500.1 690.0,497.8 691.7,495.5 693.5,493.1 695.2,490.8 697.0,488.5 698.7,486.1 700.5,483.8 702.2,481.5 704.0,479.1 705.7,476.8 709.0,476.8 712.3,476.8 715.6,476.8 718.4,477.8 721.2,478.8 724.0,479.8 726.8,480.8 729.6,481.8 732.1,480.4 734.7,478.9 737.2,477.5 739.8,476.0 742.3,474.6 744.9,473.1 747.4,471.7 750.0,470.2 752.5,468.8 755.1,467.3 757.6,465.9 759.2,468.2 760.9,470.5 762.5,472.9 764.2,475.2 765.9,477.5 767.5,479.8 769.2,477.4 770.9,475.0 772.6,472.6 774.4,470.1 776.1,467.7 777.8,465.3 779.5,462.9 782.5,462.3 785.5,461.7 788.5,461.1 791.5,460.6 794.5,460.0 797.5,459.4 800.4,458.8 803.4,458.2 806.4,457.6 809.4,457.1 812.4,456.5 815.4,455.9 816.9,453.4 818.4,450.9 819.9,448.4 821.4,445.9 821.5,443.0 821.6,440.1 821.7,437.3 821.8,434.4 822.0,431.5 822.1,428.6 822.2,425.8 822.3,422.9 822.4,420.0 824.1,417.5 825.9,415.0 827.6,412.5 829.4,410.0 831.7,409.0 834.0,408.0 837.0,409.0 840.0,410.0 841.2,412.8 842.4,415.6 843.6,418.4 844.8,421.2 846.0,424.0 846.6,426.8 847.1,429.7 847.7,432.5 848.3,435.4 848.9,438.2 849.4,441.1 850.0,443.9 851.5,447.8 853.0,447.5 854.5,452.8 856.0,453.9 858.0,450.5 860.0,451.3 862.0,446.5 863.9,447.3 865.9,442.5 867.9,441.9 870.3,441.7 872.7,437.3 875.1,438.5 877.5,434.1 879.9,433.9 883.1,434.9 886.3,431.7 889.4,434.1 892.6,430.9 895.8,431.9 898.8,432.8 901.8,429.6 904.8,431.9 907.8,430.0 910.8,430.6 913.8,433.9 915.5,437.6 917.1,437.2 918.8,442.3 920.5,441.8 922.1,447.0 923.8,447.9 925.5,448.8 927.1,453.9 928.8,453.5 930.5,458.6 932.1,458.1 933.8,461.8 936.5,463.2 939.1,460.4 941.8,461.8 944.8,461.2 947.7,457.8 947.8,453.6 948.0,453.5 948.1,447.9 948.3,447.8 948.4,442.2 948.6,442.1 948.7,437.9 950.5,434.0 952.2,434.3 954.0,429.0 955.7,427.9 958.7,428.5 961.7,425.0 964.7,427.0 967.7,424.9 970.2,424.5 972.7,428.3 975.2,426.5 977.7,428.9 980.4,428.3 983.0,423.5 985.7,422.9 988.2,422.5 990.7,418.0 993.1,419.0 995.6,415.9 998.8,413.9 1002.0,416.1 1005.2,412.7 1008.4,414.9 1011.6,412.9 1014.3,410.5 1016.9,412.3 1019.6,408.5 1022.3,410.3 1024.9,406.5 1027.6,406.9 1030.6,408.1 1033.6,405.1 1036.6,407.6 1039.6,406.0 1042.9,405.6 1046.2,409.3 1049.5,408.9 1052.8,407.8 1056.2,411.0 1059.5,409.9 1062.7,409.3 1065.9,412.9 1069.1,410.9 1072.3,414.5 1075.5,413.9 1078.3,412.3 1081.1,414.9 1083.9,411.9 1086.7,414.5 1089.5,412.9 1092.1,411.5 1094.8,414.3 1097.4,411.6 1100.0,413.0 1103.3,415.4 1106.7,413.5 1110.0,415.9 1112.8,417.7 1115.6,415.3 1118.4,418.5 1121.2,416.1 1124.0,417.9 1127.0,418.8 1130.0,415.5 1132.9,417.8 1135.9,415.9 1138.4,412.5 1140.9,413.3 1143.4,408.5 1145.9,407.9 1148.9,409.0 1151.9,405.9 1154.9,408.3 1157.9,405.2 1160.9,407.7 1163.9,406.0 1166.4,406.6 1168.9,411.3 1171.4,410.5 1173.9,413.9 1175.0,416.8 1176.2,419.6 1177.3,422.5 1178.4,425.3 1179.5,428.2 1180.7,431.0 1181.8,433.9 1182.9,436.8 1184.1,439.6 1185.2,442.5 1186.4,445.3 1187.5,448.2 1188.7,451.0 1189.8,453.9 1190.8,456.6 1191.8,459.4 1192.8,462.1 1193.8,464.9 1194.8,467.6 1195.8,470.3 1196.8,473.1 1197.8,475.8 1198.5,478.8 1199.3,481.8 1200.0,484.8 1200.8,487.8 1201.5,490.8 1202.3,493.8 1203.0,496.8 1203.8,499.8 1205.5,501.8 1207.1,503.7 1208.8,505.7 1208.8,502.7 1208.8,499.6 1208.8,496.6 1208.9,493.5 1208.9,490.5 1208.9,487.4 1208.9,484.4 1208.9,481.3 1208.9,478.3 1208.9,475.2 1208.9,472.2 1209.0,469.1 1209.0,466.1 1209.0,463.0 1209.0,460.0 1209.0,456.9 1209.0,453.8 1209.0,450.8 1208.9,447.7 1208.9,444.6 1208.9,441.5 1208.9,438.4 1208.9,435.3 1208.8,432.2 1208.8,429.2 1208.8,426.1 1208.8,423.0 1211.5,424.2 1214.3,425.4 1217.0,427.9 1219.8,427.9 1222.5,428.0 1225.1,431.8 1227.8,430.7 1230.4,434.4 1233.0,433.4 1235.7,435.9 1238.2,436.1 1240.7,432.7 1243.2,434.1 1245.7,431.9 1246.4,427.4 1247.0,426.4 1247.7,421.9 1250.2,419.2 1252.7,420.1 1255.2,416.2 1257.7,415.9 1260.4,416.1 1263.0,412.7 1265.7,412.9 1267.7,415.8 1269.7,415.2 1271.7,419.3 1273.7,419.9 1276.3,420.7 1279.0,425.2 1281.6,426.0 1283.6,422.8 1285.6,423.2 1287.6,418.7 1289.6,419.1 1291.6,415.9 1294.4,413.1 1297.2,413.9 1300.0,410.0 1302.8,410.8 1305.6,408.0 1308.1,408.5 1310.6,412.6 1313.1,412.0 1315.6,414.9 1318.9,416.8 1322.2,415.0 1325.5,416.9 1328.5,418.6 1331.5,416.7 1334.5,419.6 1337.5,418.9 1340.5,416.4 1343.5,417.6 1346.5,413.9 1349.5,413.9 1352.0,416.1 1354.5,414.7 1357.0,418.1 1359.5,417.9 1362.5,415.1 1365.5,415.8 1368.5,413.0"/>
<polyline stroke="#f60000" stroke-width="7.7" points="270.3,570.5 272.6,568.6 273.8,571.0 275.0,573.4 276.2,575.9 277.4,578.3 278.6,580.7 280.3,582.9 282.0,585.2 283.6,587.4 285.3,589.7 287.0,591.9 287.9,594.7 288.8,597.5 289.8,600.3 290.7,603.1 291.6,605.9 292.4,609.0 293.2,612.1 294.0,615.2 294.7,618.3 295.5,621.4 296.3,624.5 297.0,627.6 297.8,630.7 298.5,633.8 299.3,636.9 300.0,640.0 301.5,643.0 303.0,646.0 303.6,643.0 304.1,640.0 304.7,637.0 305.3,634.0 305.9,631.0 306.4,628.0 307.0,625.0 307.6,622.1 308.2,619.3 308.8,616.5 309.4,613.6 310.0,610.8 310.6,607.9 311.2,605.0 311.8,602.2 312.4,599.4 313.0,596.5 313.8,599.2 314.6,601.9 315.4,604.6 316.2,607.3 317.0,610.0 317.5,612.9 318.0,615.8 318.6,618.7 319.1,621.6 319.6,624.5 320.2,627.6 320.8,630.7 321.5,633.8 322.1,636.8 322.7,639.9 323.3,643.0 324.5,646.1 325.8,649.3 327.0,652.4 328.2,655.0 329.5,657.7 330.8,660.4 332.0,663.0 333.2,660.5 334.3,658.0 335.5,655.5 336.7,653.0 337.8,650.5 339.0,648.0 339.4,645.0 339.9,642.0 340.3,639.0 340.7,636.0 341.2,633.0 341.6,630.0 342.1,627.0 342.5,624.0 342.9,621.0 343.4,618.0 343.8,615.0 344.4,612.2 344.9,609.5 345.5,606.7 346.1,603.9 346.7,601.1 347.2,598.3 347.8,595.6 348.4,592.8 350.0,595.3 351.7,597.9 353.4,600.5 355.0,603.0 357.5,605.2 359.9,607.4 362.4,609.6 364.9,610.8 367.3,612.1 369.8,613.3 371.0,615.9 372.1,618.6 373.3,621.2 374.4,623.9 375.6,626.5 376.2,629.2 376.8,632.0 377.4,634.8 378.0,637.5 378.6,640.2 379.2,643.0 379.8,645.7 380.4,648.3 380.9,651.0 381.5,653.6 382.1,656.3 384.3,657.9 386.4,659.4 388.6,661.0 388.7,663.9 388.9,666.8 389.0,669.7 389.2,672.6 389.3,675.5 389.4,678.4 389.6,681.3 389.7,684.2 389.9,687.1 390.0,690.0 390.3,693.0 390.7,696.0 391.0,699.0 391.3,702.0 391.7,705.0 392.0,708.0 392.2,704.9 392.4,701.8 392.6,698.8 392.8,695.7 393.0,692.6 393.2,689.5 393.3,686.5 393.5,683.4 393.7,680.3 393.9,677.2 394.1,674.2 394.3,671.1 394.5,668.0 394.7,671.1 394.9,674.2 395.0,677.3 395.2,680.4 395.4,683.5 395.6,686.5 395.8,689.6 396.0,692.7 396.1,695.8 396.3,698.9 396.5,702.0 396.7,698.9 396.9,695.8 397.1,692.8 397.3,689.7 397.5,686.6 397.7,683.5 397.8,680.5 398.0,677.4 398.2,674.3 398.4,671.2 398.6,668.2 398.8,665.1 399.0,662.0 400.2,658.7 401.5,655.4 401.8,658.3 402.0,661.2 402.2,664.0 402.5,666.9 402.8,669.8 403.0,672.7 403.2,675.6 403.5,678.5 403.8,681.4 404.0,684.2 404.2,687.1 404.5,690.0 405.2,693.3 405.8,696.7 406.5,700.0 408.2,697.5 409.8,695.0 411.5,692.5 413.2,690.0 414.8,687.5 416.5,685.0 418.8,682.9 421.2,680.9 423.5,678.8 425.9,676.7 428.2,674.6 430.5,672.5 432.9,670.5 435.2,668.4 436.4,671.3 437.6,674.2 438.8,677.1 440.0,680.0 442.3,678.7 444.7,677.3 447.0,676.0 447.9,673.0 448.7,670.0 449.6,667.0 450.4,664.0 451.3,661.0 452.1,658.0 453.0,655.0 453.7,652.0 454.5,649.0 455.2,646.0 456.0,643.0 456.7,640.0 457.5,636.9 458.2,633.9 459.0,630.9 459.7,627.9 460.5,624.9 461.2,621.9 461.8,624.9 462.5,627.9 463.1,631.0 463.7,634.0 464.4,637.0 465.0,640.0 465.6,643.2 466.2,646.3 466.9,649.5 467.5,652.7 468.1,655.8 468.7,659.0 469.5,662.2 470.4,665.5 471.2,668.8 472.0,672.0 472.4,668.9 472.9,665.7 473.3,662.6 473.7,659.4 474.1,656.3 474.6,653.1 475.0,650.0 475.3,647.1 475.6,644.2 475.9,641.4 476.2,638.5 476.5,635.6 476.8,632.7 477.1,629.9 477.4,627.0 477.7,624.1 478.0,621.2 478.3,618.4 478.6,615.5 478.9,612.6 480.6,610.4 482.3,608.2 484.0,606.0 485.4,603.5 486.8,601.1 488.2,598.6 488.9,601.5 489.6,604.3 490.3,607.1 491.0,610.0 492.0,606.7 493.0,603.3 494.0,600.0 494.4,597.0 494.9,594.0 495.3,590.9 495.8,587.9 496.2,584.9 496.6,581.8 497.1,578.8 497.5,575.8 498.3,573.0 499.1,570.2 499.9,567.5 500.7,564.7 501.5,561.9"/>
</g>
<g id="second-topography" class="crv" stroke="#0000e0" stroke-width="7.5">
<polyline points="500.3,582.8 501.8,580.3 503.4,577.8 504.9,575.3 506.4,572.9 508.0,570.4 509.5,567.9 511.2,565.3 512.9,562.8 514.6,560.2 516.4,557.6 518.1,555.0 519.8,552.5 521.5,549.9 523.2,552.2 524.9,554.5 526.6,556.8 528.4,559.0 530.1,561.3 531.8,563.6 533.5,565.9 536.5,563.9 539.4,561.9 541.5,559.9 543.6,557.8 545.8,555.8 547.9,553.7 550.0,551.7 552.8,552.3 555.6,552.9 558.4,553.5 561.2,554.1 564.0,554.7 566.0,557.1 568.0,559.5 570.0,561.9 572.0,564.3 574.0,566.7 575.5,564.4 577.0,562.0 578.5,559.7 580.0,557.4 581.5,555.0 583.0,552.7 586.0,553.0 589.0,553.4 592.0,553.7 594.0,555.7 596.0,557.7 598.0,559.7 600.0,561.7 601.5,559.2 603.0,556.7 604.5,554.2 606.0,551.7 608.7,552.0 611.3,552.4 614.0,552.7 616.0,555.1 617.9,557.6 619.9,560.0 621.9,562.4 623.9,564.8 625.8,567.3 627.8,569.7 629.5,567.3 631.2,564.8 632.9,562.4 634.7,560.0 636.4,557.6 638.1,555.1 639.8,552.7 643.0,552.1 646.2,551.5 649.4,550.9 652.6,550.3 655.8,549.7 658.6,550.9 661.4,552.1 664.1,553.3 666.9,554.5 669.7,555.7 671.7,557.7 673.7,559.7 675.7,561.7 677.7,563.7 678.5,566.5 679.3,569.2 680.0,572.0 680.8,574.8 681.6,577.5 682.4,580.3 683.1,583.1 683.9,585.8 684.7,588.6 685.0,585.6 685.4,582.6 685.7,579.6 686.0,576.6 686.4,573.6 686.7,570.6 687.0,567.6 687.4,564.7 687.7,561.7 688.0,558.7 688.4,555.7 688.7,552.7 689.0,549.7 689.4,546.7 689.7,543.7 692.2,541.7 694.7,539.7 696.9,542.1 699.1,544.5 701.3,546.9 703.5,549.3 705.7,551.7 708.1,553.7 710.5,555.7 712.8,557.7 715.2,559.7 717.6,561.7 720.4,561.7 723.2,561.7 726.0,561.7 728.8,561.7 731.6,561.7 733.2,564.4 734.8,567.1 736.4,569.8 738.0,572.5 739.6,575.2 741.2,577.8 742.8,580.5 744.4,583.2 746.0,585.9 747.6,588.6 748.9,586.0 750.1,583.3 751.4,580.7 752.7,578.1 754.0,575.5 755.2,572.8 756.5,570.2 757.8,567.6 759.1,565.0 760.3,562.3 761.6,559.7 763.3,557.4 765.0,555.1 766.7,552.8 768.4,550.6 770.1,548.3 771.8,546.0 773.5,543.7 776.5,543.3 779.5,542.9 782.5,542.5 785.5,542.1 788.5,541.7 791.5,541.3 794.5,540.9 797.5,540.5 800.5,540.1 803.5,539.7 805.9,537.7 808.3,535.7 810.6,533.7 813.0,531.7 815.4,529.7 817.4,527.5 819.4,525.2 821.4,523.0 823.4,520.8 824.7,523.2 826.0,525.7 828.0,528.3 830.0,530.9 832.0,533.5 834.0,536.1 836.0,538.7 839.3,539.0 842.7,540.5 846.0,539.7 849.3,539.3 852.7,542.1 856.0,541.7 858.5,538.9 861.0,539.3 863.5,535.4 866.0,534.7 868.7,535.5 871.3,532.9 874.0,533.7 875.2,532.2 876.4,527.4 877.5,527.0 878.7,522.2 879.9,520.7 881.4,524.6 882.9,525.1 884.4,530.1 885.9,531.7 886.7,533.4 887.5,538.4 888.3,539.0 889.1,544.0 889.9,545.7 891.9,547.0 893.9,551.6 895.8,551.7 897.8,556.3 899.8,557.6 901.8,558.9 903.8,563.5 905.8,563.7 907.8,568.3 909.8,569.6 910.8,572.0 911.8,576.6 912.7,574.7 913.6,569.5 914.5,568.7 915.4,563.5 916.2,562.8 917.1,557.6 918.0,556.8 918.9,551.6 919.8,549.7 920.9,548.2 922.1,543.5 923.2,543.1 924.4,538.3 925.5,537.9 926.7,533.2 927.8,531.7 929.1,530.1 930.5,525.3 931.8,524.8 933.1,519.9 934.5,519.5 935.8,515.7 937.8,513.1 939.8,512.7 941.8,516.1 943.8,516.1 945.7,520.6 947.7,521.7 949.7,522.6 951.7,526.8 953.7,526.6 955.7,529.7 957.3,533.2 958.9,533.4 960.5,538.0 962.1,538.2 963.7,541.7 966.7,544.8 969.7,545.7 972.4,542.6 975.0,542.8 977.7,539.7 980.4,539.3 983.0,542.1 985.7,541.7 987.3,538.2 988.9,538.0 990.5,533.4 992.1,533.2 993.7,529.7 996.7,530.6 999.6,533.7 1001.6,536.8 1003.6,536.6 1005.6,540.8 1007.6,540.6 1009.6,543.7 1012.3,546.1 1014.9,545.3 1017.6,547.7 1019.6,546.8 1021.6,542.6 1023.6,541.7 1026.3,544.8 1028.9,544.6 1031.6,547.7 1034.3,547.5 1036.9,543.9 1039.6,543.7 1041.6,546.8 1043.5,546.6 1045.5,549.7 1048.5,551.3 1051.5,549.6 1054.5,552.3 1057.5,551.7 1058.8,547.9 1060.2,547.5 1061.5,542.6 1062.8,542.1 1064.2,537.3 1065.5,535.7 1069.5,533.7 1072.0,536.3 1074.5,535.6 1077.0,539.3 1079.5,539.7 1081.0,541.6 1082.5,546.8 1084.0,547.6 1085.5,551.7 1086.7,555.6 1087.9,556.2 1089.1,561.1 1090.3,561.7 1091.5,565.6 1093.6,568.8 1095.8,568.7 1097.9,573.0 1100.0,574.0 1101.5,577.0 1103.0,580.0 1104.5,582.9 1106.0,585.9 1106.8,588.6 1107.5,591.4 1108.2,594.1 1109.0,596.9 1109.8,599.6 1110.5,602.4 1111.2,605.1 1112.0,607.9 1113.6,610.3 1115.2,612.7 1116.8,615.2 1118.4,617.6 1120.0,620.0 1121.6,617.2 1123.2,614.4 1124.8,611.5 1126.4,608.7 1128.0,605.9 1130.5,603.9 1133.0,601.9 1135.5,599.9 1138.0,597.9 1138.6,594.9 1139.2,591.9 1139.9,588.9 1140.5,586.0 1141.1,583.0 1141.8,580.0 1142.4,577.0 1143.0,574.0 1143.4,576.9 1143.9,579.8 1144.3,582.6 1144.7,585.5 1145.2,588.4 1145.6,591.3 1146.0,594.1 1146.5,597.0 1146.9,599.9 1147.2,602.9 1147.5,605.9 1147.8,608.9 1148.1,611.9 1148.4,614.8 1148.7,617.8 1149.0,620.8 1149.3,623.8 1149.6,626.8 1149.9,629.8 1150.5,632.5 1151.2,635.3 1151.8,638.0 1152.4,640.8 1153.0,643.5 1153.7,646.3 1154.3,649.0 1154.9,651.8 1155.3,654.9 1155.7,658.0 1156.1,661.1 1156.5,664.2 1156.9,667.3 1157.3,670.4 1157.7,673.5 1158.1,676.6 1158.5,679.7 1158.7,682.7 1159.0,685.7 1159.2,688.8 1159.4,691.8 1159.7,694.8 1159.9,697.8 1160.1,700.8 1160.4,703.9 1160.6,706.9 1160.8,709.9 1161.1,712.9 1161.3,715.9 1161.5,719.0 1161.8,722.0 1162.0,725.0 1162.4,727.9 1162.8,730.8 1163.1,733.8 1163.5,736.7 1163.9,739.6 1164.2,736.5 1164.6,733.5 1164.9,730.4 1165.2,727.3 1165.5,724.2 1165.8,721.1 1166.2,718.1 1166.5,715.0 1167.1,711.9 1167.7,708.9 1168.3,705.8 1168.9,702.8 1169.5,699.7 1170.7,697.0 1171.9,694.4 1173.2,691.7 1174.4,689.0 1175.6,686.4 1176.8,683.7 1177.4,680.7 1178.0,677.7 1178.7,674.7 1179.3,671.8 1179.9,668.8 1180.5,665.8 1181.2,662.8 1181.8,659.8 1182.1,656.7 1182.4,653.6 1182.7,650.6 1183.0,647.5 1183.3,644.4 1183.6,641.3 1184.0,638.3 1184.3,635.2 1184.6,632.1 1184.9,629.0 1185.2,626.0 1185.5,622.9 1185.8,619.8 1186.5,616.8 1187.3,613.8 1188.0,610.9 1188.8,607.9 1189.5,604.9 1190.3,602.0 1191.0,599.0 1191.8,596.0 1192.2,599.1 1192.5,602.1 1192.9,605.2 1193.3,608.3 1193.6,611.4 1194.0,614.4 1194.3,617.5 1194.7,620.6 1195.1,623.7 1195.4,626.7 1195.8,629.8 1196.0,632.9 1196.3,635.9 1196.5,639.0 1196.7,642.1 1197.0,645.1 1197.2,648.2 1197.4,651.3 1197.6,654.4 1197.9,657.4 1198.1,660.5 1198.3,663.6 1198.6,666.6 1198.8,669.7 1199.1,672.6 1199.5,675.5 1199.8,678.4 1200.1,681.3 1200.5,684.1 1200.8,687.0 1201.1,689.9 1201.5,692.8 1201.8,695.7 1202.1,692.7 1202.5,689.7 1202.8,686.7 1203.1,683.7 1203.5,680.7 1203.8,677.8 1204.1,674.8 1204.5,671.8 1204.8,668.8 1205.1,665.8 1205.5,662.8 1205.8,659.8 1205.8,656.8 1205.9,653.8 1206.0,650.8 1206.0,647.8 1206.0,644.8 1206.1,641.8 1206.1,638.8 1206.2,635.8 1206.2,632.8 1206.3,629.8 1206.3,626.9 1206.4,623.9 1206.5,620.9 1206.5,617.9 1206.5,614.9 1206.6,611.9 1206.6,608.9 1206.7,605.9 1206.8,602.9 1206.8,599.9 1206.9,596.8 1207.0,593.8 1207.0,590.7 1207.1,587.6 1207.2,584.6 1207.3,581.5 1207.3,578.4 1207.4,575.3 1207.5,572.3 1207.6,569.2 1207.6,566.1 1207.7,563.1 1207.8,560.0 1208.2,556.8 1208.6,553.6 1209.0,550.4 1209.4,547.2 1209.8,544.0 1211.8,541.9 1213.8,539.9 1215.8,536.8 1217.8,536.8 1219.8,533.7 1221.8,535.1 1223.8,539.5 1225.7,539.9 1227.7,544.3 1229.7,545.7 1231.3,547.5 1232.9,552.3 1234.5,553.0 1236.1,557.8 1237.7,559.6 1239.7,561.6 1241.7,565.6 1242.7,564.0 1243.7,559.3 1244.7,558.7 1245.7,554.0 1246.7,553.4 1247.7,549.7 1249.5,546.7 1251.2,546.7 1253.0,542.7 1254.7,541.7 1257.0,545.2 1259.2,545.7 1261.5,550.2 1263.7,551.7 1266.4,551.4 1269.0,554.0 1271.7,553.7 1274.3,554.0 1277.0,557.3 1279.6,557.6 1282.3,556.6 1284.9,558.6 1287.6,557.6 1289.6,559.3 1291.6,563.9 1293.6,565.6 1296.3,565.9 1298.9,569.3 1301.6,569.6 1303.6,565.9 1305.6,565.3 1307.6,561.6 1311.6,561.6 1313.1,563.1 1314.6,567.6 1316.1,568.1 1317.6,571.6 1318.8,575.4 1320.0,576.2 1321.2,581.0 1322.4,581.8 1323.6,585.6 1325.5,588.6 1327.5,589.6 1328.5,586.1 1329.5,585.6 1330.5,581.1 1331.5,579.6 1333.1,578.2 1334.7,573.8 1336.3,573.4 1337.9,569.0 1339.5,567.6 1343.5,565.6 1345.5,568.9 1347.5,569.1 1349.5,573.4 1351.5,574.6 1354.2,573.9 1356.8,576.3 1359.5,575.6 1362.5,575.6 1365.5,577.6 1366.1,581.4 1366.7,582.2 1367.3,587.0 1367.9,587.8 1368.5,591.6"/>
<polyline stroke="#0000f4" stroke-width="8.0" points="270.3,577.5 272.1,579.1 274.0,580.7 274.9,583.9 275.8,587.0 276.8,590.2 277.7,593.3 278.6,596.5 280.5,598.9 282.3,601.2 284.1,603.5 286.0,605.9 286.5,608.8 286.9,611.7 287.4,614.6 287.9,617.5 288.4,620.4 288.9,623.3 289.3,626.2 289.8,629.1 290.5,632.3 291.3,635.5 292.0,638.6 292.8,641.8 293.5,645.0 295.4,647.8 297.2,650.5 298.1,647.5 299.1,644.5 300.1,641.4 301.0,638.4 301.7,635.6 302.5,632.8 303.2,630.1 304.0,627.3 304.7,624.5 306.1,622.6 307.5,620.7 308.4,623.3 309.3,625.9 310.3,628.6 311.2,631.2 312.1,633.8 313.0,636.9 314.0,640.0 314.9,643.1 315.8,646.2 316.8,649.3 317.7,652.4 319.2,655.0 320.7,657.6 322.2,660.2 323.7,662.8 325.2,665.4 327.0,666.8 328.9,668.2 330.0,665.4 331.2,662.6 332.4,659.8 333.5,657.0 334.0,654.1 334.4,651.2 334.9,648.3 335.4,645.4 335.9,642.5 336.4,639.6 336.8,636.7 337.3,633.8 337.8,630.9 338.2,628.0 338.7,625.1 339.1,622.1 339.6,619.2 340.1,616.3 340.5,613.4 341.0,610.5 342.1,607.5 343.3,604.5 344.5,601.4 345.6,598.4 347.0,601.2 348.4,604.0 349.8,606.8 351.2,609.6 353.1,611.5 354.9,613.3 356.8,615.1 358.7,617.0 361.2,618.9 363.6,620.7 366.1,622.6 366.9,625.3 367.7,627.9 368.4,630.6 369.2,633.2 370.0,635.9 370.9,639.0 371.9,642.1 372.8,645.2 373.7,648.3 374.7,651.4 375.6,654.5 376.9,657.3 378.2,660.1 379.5,662.8 380.8,665.6 382.1,668.4 382.7,671.2 383.2,674.0 383.8,676.8 384.3,679.6 384.9,682.4 385.3,685.3 385.6,688.3 386.0,691.2 386.4,694.2 386.8,697.1 387.1,700.1 387.5,703.0 388.2,706.3 389.0,709.7 389.7,713.0 389.8,710.0 389.9,707.0 390.1,704.0 390.2,701.0 390.3,698.0 390.4,695.0 390.5,692.0 390.7,689.0 390.8,686.0 390.9,683.0 391.0,680.0 391.1,677.0 391.3,674.0 391.4,671.0 391.5,668.0 391.7,671.1 391.8,674.2 392.0,677.2 392.1,680.3 392.3,683.4 392.4,686.5 392.6,689.5 392.7,692.6 392.9,695.7 393.0,698.8 393.2,701.8 393.3,704.9 393.5,708.0 393.7,705.0 393.8,702.0 394.0,699.0 394.2,696.0 394.3,693.0 394.5,690.0 394.7,687.0 394.8,684.0 395.0,681.0 395.2,678.0 395.3,675.0 395.5,672.0 395.7,669.0 395.8,666.0 396.0,663.0 396.2,666.0 396.4,669.0 396.5,672.0 396.7,675.0 396.9,678.0 397.1,681.0 397.2,684.0 397.4,687.0 397.6,690.0 397.8,693.0 398.0,696.0 398.1,699.0 398.3,702.0 398.5,705.0 398.7,701.9 398.8,698.8 399.0,695.8 399.2,692.7 399.3,689.6 399.5,686.5 399.7,683.4 399.8,680.3 400.0,677.2 400.2,674.2 400.3,671.1 400.5,668.0 400.7,670.9 400.8,673.8 401.0,676.8 401.2,679.7 401.3,682.6 401.5,685.5 401.7,688.4 401.8,691.3 402.0,694.2 402.2,697.2 402.3,700.1 402.5,703.0 405.0,701.3 407.5,699.7 410.0,698.0 412.2,695.7 414.4,693.5 416.5,691.2 418.7,689.0 420.9,686.7 423.1,684.5 425.2,682.2 427.4,680.0 429.6,677.7 431.5,679.6 433.3,681.5 435.1,683.3 437.0,685.2 438.5,682.8 440.0,680.3 441.5,677.9 443.0,675.4 444.5,673.0 445.4,670.4 446.4,667.7 447.3,665.1 448.2,662.4 449.1,659.8 450.1,657.1 451.0,654.5 453.2,652.6 455.3,650.8 457.5,648.9 458.9,651.4 460.2,654.0 461.6,656.5 463.0,659.0 463.8,661.8 464.5,664.6 465.3,667.4 466.0,670.2 466.8,673.0 468.6,674.9 470.5,676.8 470.9,673.6 471.3,670.4 471.7,667.2 472.1,664.1 472.5,660.9 472.9,657.7 473.3,654.5 473.6,651.4 473.9,648.3 474.2,645.2 474.6,642.1 474.9,639.0 475.2,635.9 475.8,633.1 476.3,630.3 476.9,627.5 477.4,624.7 478.0,621.9 480.8,620.5 483.6,619.0 485.9,621.4 488.2,623.7 491.0,626.5 491.7,623.7 492.5,620.9 493.2,618.2 494.0,615.4 494.7,612.6 495.1,609.7 495.4,606.8 495.8,603.9 496.1,601.0 496.4,598.0 496.8,595.1 497.1,592.2 497.5,589.3 498.9,586.0 500.3,582.8"/>
</g>
</g>
<line id="peakline" class="dash" style="stroke-width:4.3;stroke-dasharray:18.6 14.275" x1="1044.0" y1="170.9" x2="1044.2" y2="1105.8"/>
<g id="ticklabels" class="tick">
<text transform="translate(235.0,1119.7) scale(1.02,1)" text-anchor="end" style="font-size:53px">-2500</text>
<text transform="translate(235.0,1015.0) scale(1.02,1)" text-anchor="end" style="font-size:53px">-2000</text>
<text transform="translate(235.0,910.2) scale(1.02,1)" text-anchor="end" style="font-size:53px">-1500</text>
<text transform="translate(235.0,805.4) scale(1.02,1)" text-anchor="end" style="font-size:53px">-1000</text>
<text transform="translate(235.0,700.6) scale(1.02,1)" text-anchor="end" style="font-size:53px">-500</text>
<text transform="translate(235.0,595.9) scale(1.045,1)" text-anchor="end" style="font-size:53px">0</text>
<text transform="translate(235.0,491.1) scale(1.045,1)" text-anchor="end" style="font-size:53px">500</text>
<text transform="translate(235.0,386.3) scale(1.045,1)" text-anchor="end" style="font-size:53px">1000</text>
<text transform="translate(235.0,281.6) scale(1.045,1)" text-anchor="end" style="font-size:53px">1500</text>
<text transform="translate(235.0,176.8) scale(1.045,1)" text-anchor="end" style="font-size:53px">2000</text>
<text transform="translate(266.1,1176.3) scale(1.045,1)" text-anchor="middle" style="font-size:53px">0</text>
<text transform="translate(450.0,1176.3) scale(1.045,1)" text-anchor="middle" style="font-size:53px">50</text>
<text transform="translate(633.8,1176.3) scale(1.045,1)" text-anchor="middle" style="font-size:53px">100</text>
<text transform="translate(817.6,1176.3) scale(1.045,1)" text-anchor="middle" style="font-size:53px">150</text>
<text transform="translate(1001.5,1176.3) scale(1.045,1)" text-anchor="middle" style="font-size:53px">200</text>
<text transform="translate(1185.3,1176.3) scale(1.045,1)" text-anchor="middle" style="font-size:53px">250</text>
<text transform="translate(1369.2,1176.3) scale(1.045,1)" text-anchor="middle" style="font-size:53px">300</text>
</g>
<text transform="translate(860.7,1255.4) scale(1.0,1)" text-anchor="middle" style="font-size:77px">Distance (μm)</text>
<text transform="translate(91.9,601.6) rotate(-90) scale(1,1.022)" text-anchor="middle" style="font-size:78px;letter-spacing:-1px">Depth (nm)</text>
<g id="annotations">
<text transform="translate(806.8,259.0) scale(1.008,1)" text-anchor="start" style="font-size:56.5px">peak load</text>
<line x1="960.8" y1="268" x2="1041" y2="397.5" stroke="#000" stroke-width="2.7"/>
<polygon points="1044,402.2 1034.2,394.6 1042.6,389.4" fill="#000"/>
<line x1="305.1" y1="436" x2="305.1" y2="526" stroke="#000" stroke-width="2.2"/>
<polygon points="305.1,429.3 298.7,442.3 311.5,442.3" fill="#000"/>
<polygon points="305.1,531.6 298.7,524.2 311.5,524.2" fill="#000"/>
<text transform="translate(325.0,493.1) scale(1.13,1)" text-anchor="start" style="font-size:43.5px">Δ</text>
<text transform="translate(354.3,504.2) scale(0.9,1)" text-anchor="start" style="font-size:34.5px">3</text>
<line x1="394" y1="546" x2="394" y2="574" stroke="#000" stroke-width="2.2"/>
<polygon points="394,539.4 387.6,552 400.4,552" fill="#000"/>
<polygon points="394,579.6 387.6,571.3 400.4,571.3" fill="#000"/>
<text transform="translate(403.0,569.7) scale(1.13,1)" text-anchor="start" style="font-size:44.5px">Δ</text>
<text transform="translate(431.8,580.2) scale(1.0,1)" text-anchor="start" style="font-size:35px">2</text>
</g>
<g id="legend">
<rect x="272.7" y="875.5" width="548.4" height="216.0" fill="#fff" stroke="#0a0a0a" stroke-width="2.2"/>
<line x1="301.5" y1="921.6" x2="411" y2="921.6" stroke="#000" stroke-width="7.4"/>
<text transform="translate(422.6,935.4) scale(1.045,1)" text-anchor="start" style="font-size:56px">1st Topography</text>
<line x1="301.5" y1="992.6" x2="411" y2="992.6" stroke="#c00000" stroke-width="7.4"/>
<text transform="translate(421.5,1006.0) scale(1.045,1)" text-anchor="start" style="font-size:56px">Scratch</text>
<line x1="301.5" y1="1063.6" x2="411" y2="1063.6" stroke="#000090" stroke-width="7.4"/>
<text transform="translate(419.6,1074.8) scale(1.045,1)" text-anchor="start" style="font-size:56px">2nd Topography</text>
</g>
</svg>
</body>
</html>
